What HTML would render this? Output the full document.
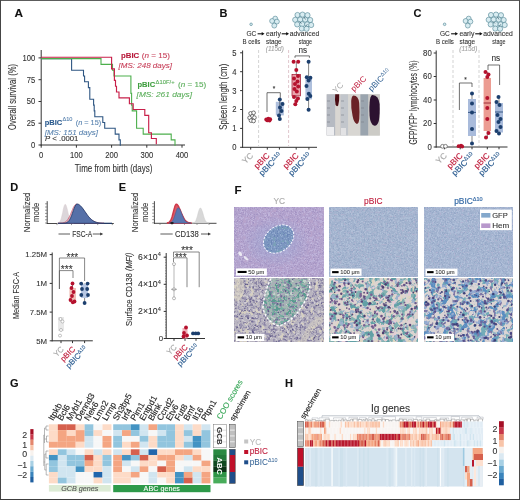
<!DOCTYPE html><html><head><meta charset="utf-8"><style>
html,body{margin:0;padding:0;background:#fff;}
svg{display:block;font-family:"Liberation Sans", sans-serif;opacity:0.999;}
</style></head><body>
<svg width="520" height="500" viewBox="0 0 520 500">
<rect x="0" y="0" width="520" height="500" fill="#fff"/>
<text x="14.5" y="16.8" font-size="11.8" fill="#111" stroke="#111" stroke-width="0.1" font-weight="bold">A</text>
<line x1="41.2" y1="50.0" x2="41.2" y2="145.5" stroke="#333" stroke-width="1"/>
<line x1="40.7" y1="145.0" x2="185.0" y2="145.0" stroke="#333" stroke-width="1"/>
<line x1="38.5" y1="145.0" x2="41.2" y2="145.0" stroke="#333" stroke-width="1"/>
<text x="35.2" y="147.9" font-size="8.2" fill="#333" stroke="#333" stroke-width="0.1" text-anchor="end" textLength="4.25" lengthAdjust="spacingAndGlyphs">0</text>
<line x1="38.5" y1="123.2" x2="41.2" y2="123.2" stroke="#333" stroke-width="1"/>
<text x="35.2" y="126.1" font-size="8.2" fill="#333" stroke="#333" stroke-width="0.1" text-anchor="end" textLength="8.5" lengthAdjust="spacingAndGlyphs">25</text>
<line x1="38.5" y1="101.5" x2="41.2" y2="101.5" stroke="#333" stroke-width="1"/>
<text x="35.2" y="104.4" font-size="8.2" fill="#333" stroke="#333" stroke-width="0.1" text-anchor="end" textLength="8.5" lengthAdjust="spacingAndGlyphs">50</text>
<line x1="38.5" y1="79.7" x2="41.2" y2="79.7" stroke="#333" stroke-width="1"/>
<text x="35.2" y="82.6" font-size="8.2" fill="#333" stroke="#333" stroke-width="0.1" text-anchor="end" textLength="8.5" lengthAdjust="spacingAndGlyphs">75</text>
<line x1="38.5" y1="57.9" x2="41.2" y2="57.9" stroke="#333" stroke-width="1"/>
<text x="35.2" y="60.8" font-size="8.2" fill="#333" stroke="#333" stroke-width="0.1" text-anchor="end" textLength="12.75" lengthAdjust="spacingAndGlyphs">100</text>
<line x1="41.2" y1="145.0" x2="41.2" y2="147.7" stroke="#333" stroke-width="1"/>
<text x="41.2" y="158.2" font-size="8.2" fill="#333" stroke="#333" stroke-width="0.1" text-anchor="middle" textLength="4.25" lengthAdjust="spacingAndGlyphs">0</text>
<line x1="76.4" y1="145.0" x2="76.4" y2="147.7" stroke="#333" stroke-width="1"/>
<text x="76.4" y="158.2" font-size="8.2" fill="#333" stroke="#333" stroke-width="0.1" text-anchor="middle" textLength="12.75" lengthAdjust="spacingAndGlyphs">100</text>
<line x1="111.6" y1="145.0" x2="111.6" y2="147.7" stroke="#333" stroke-width="1"/>
<text x="111.6" y="158.2" font-size="8.2" fill="#333" stroke="#333" stroke-width="0.1" text-anchor="middle" textLength="12.75" lengthAdjust="spacingAndGlyphs">200</text>
<line x1="146.8" y1="145.0" x2="146.8" y2="147.7" stroke="#333" stroke-width="1"/>
<text x="146.8" y="158.2" font-size="8.2" fill="#333" stroke="#333" stroke-width="0.1" text-anchor="middle" textLength="12.75" lengthAdjust="spacingAndGlyphs">300</text>
<line x1="182.0" y1="145.0" x2="182.0" y2="147.7" stroke="#333" stroke-width="1"/>
<text x="182.0" y="158.2" font-size="8.2" fill="#333" stroke="#333" stroke-width="0.1" text-anchor="middle" textLength="12.75" lengthAdjust="spacingAndGlyphs">400</text>
<text x="74.8" y="172.2" font-size="10" fill="#333" stroke="#333" stroke-width="0.1" textLength="77.5" lengthAdjust="spacingAndGlyphs">Time from birth (days)</text>
<text x="16.2" y="130.0" font-size="10.5" fill="#333" stroke="#333" stroke-width="0.1" textLength="66" lengthAdjust="spacingAndGlyphs" transform="rotate(-90 16.2 130.0)">Overall survival (%)</text>
<g transform="translate(0 0.7)">
<path d="M41.2 57.9 L71.6 57.9 L71.6 69.5 L83.5 69.5 L83.5 75.3 L84.6 75.3 L84.6 81.1 L88.4 81.1 L88.4 86.9 L89.8 86.9 L89.8 98.5 L93.6 98.5 L93.6 104.4 L94.2 104.4 L94.2 110.2 L94.8 110.2 L94.8 116.0 L102.8 116.0 L102.8 121.8 L104.7 121.8 L104.7 127.6 L115.2 127.6 L115.2 133.4 L119.0 133.4 L119.0 139.2 L120.3 139.2 L120.3 145.0" stroke="#2e5682" stroke-width="1.1" fill="none"/>
<path d="M41.2 57.9 L101.0 57.9 L101.0 63.7 L112.5 63.7 L112.5 69.5 L114.0 69.5 L114.0 75.3 L130.9 75.3 L130.9 92.7 L131.6 92.7 L131.6 104.4 L132.2 104.4 L132.2 110.2 L136.6 110.2 L136.6 127.6 L143.2 127.6 L143.2 133.4 L171.2 133.4 L171.2 139.2 L175.0 139.2 L175.0 145.0" stroke="#4caf4c" stroke-width="1.1" fill="none"/>
</g>
<g transform="translate(0 -0.7)">
<path d="M41.2 57.9 L111.6 57.9 L111.6 69.5 L114.4 69.5 L114.4 81.1 L115.5 81.1 L115.5 86.9 L116.5 86.9 L116.5 92.7 L119.0 92.7 L119.0 98.5 L129.4 98.5 L129.4 104.4 L133.2 104.4 L133.2 110.2 L144.8 110.2 L144.8 116.0 L148.7 116.0 L148.7 133.4 L151.4 133.4 L151.4 139.2 L156.3 139.2 L156.3 145.0" stroke="#c8204a" stroke-width="1.15" fill="none"/>
</g>
<text x="121.0" y="58.0" font-size="7.8" fill="#b8183a" stroke="#b8183a" stroke-width="0.1" font-weight="bold" textLength="18.2" lengthAdjust="spacingAndGlyphs">pBIC</text>
<text x="141.8" y="58.0" font-size="7.8" fill="#c8405a" stroke="#c8405a" stroke-width="0.1" textLength="28.2" lengthAdjust="spacingAndGlyphs">(<tspan font-style="italic">n</tspan> = 15)</text>
<text x="118.5" y="67.5" font-size="7.8" fill="#c8405a" stroke="#c8405a" stroke-width="0.1" font-style="italic" textLength="53.5" lengthAdjust="spacingAndGlyphs">[MS: 248 days]</text>
<text x="137.5" y="87.4" font-size="7.8" fill="#3f9e3f" stroke="#3f9e3f" stroke-width="0.1" font-weight="bold" textLength="17.6" lengthAdjust="spacingAndGlyphs">pBIC</text>
<text x="155.6" y="83.5" font-size="5" fill="#5aae5a" stroke="#5aae5a" stroke-width="0.1" textLength="19" lengthAdjust="spacingAndGlyphs">Δ10F/+</text>
<text x="178.0" y="87.4" font-size="7.8" fill="#5aae5a" stroke="#5aae5a" stroke-width="0.1" textLength="28.2" lengthAdjust="spacingAndGlyphs">(<tspan font-style="italic">n</tspan> = 15)</text>
<text x="136.6" y="96.6" font-size="7.8" fill="#5aae5a" stroke="#5aae5a" stroke-width="0.1" font-style="italic" textLength="55.4" lengthAdjust="spacingAndGlyphs">[MS: 261 days]</text>
<text x="44.7" y="124.8" font-size="7.8" fill="#2a5a8e" stroke="#2a5a8e" stroke-width="0.1" font-weight="bold" textLength="17.5" lengthAdjust="spacingAndGlyphs">pBIC</text>
<text x="62.5" y="120.8" font-size="5" fill="#5a84b0" stroke="#5a84b0" stroke-width="0.1" textLength="10" lengthAdjust="spacingAndGlyphs">Δ10</text>
<text x="75.7" y="124.8" font-size="7.8" fill="#5a84b0" stroke="#5a84b0" stroke-width="0.1" textLength="25.5" lengthAdjust="spacingAndGlyphs">(<tspan font-style="italic">n</tspan> = 15)</text>
<text x="44.7" y="134.9" font-size="7.8" fill="#5a84b0" stroke="#5a84b0" stroke-width="0.1" font-style="italic" textLength="53.2" lengthAdjust="spacingAndGlyphs">[MS: 151 days]</text>
<text x="45.0" y="141.2" font-size="7.8" fill="#333" stroke="#333" stroke-width="0.1" textLength="33.4" lengthAdjust="spacingAndGlyphs"><tspan font-style="italic">P</tspan> &lt; .0001</text>
<text x="219.5" y="17.0" font-size="11" fill="#111" stroke="#111" stroke-width="0.1" font-weight="bold">B</text>
<text x="413.5" y="17.0" font-size="11" fill="#111" stroke="#111" stroke-width="0.1" font-weight="bold">C</text>
<circle cx="251.1" cy="24.3" r="1.3" fill="#d8ecf1" stroke="#3e7888" stroke-width="0.55"/>
<circle cx="275.2" cy="18.6" r="2.45" fill="#d8ecf1" stroke="#3e7888" stroke-width="0.55"/>
<circle cx="272.1" cy="21.0" r="2.45" fill="#d8ecf1" stroke="#3e7888" stroke-width="0.55"/>
<circle cx="276.9" cy="21.6" r="2.45" fill="#d8ecf1" stroke="#3e7888" stroke-width="0.55"/>
<circle cx="274.3" cy="25.6" r="2.45" fill="#d8ecf1" stroke="#3e7888" stroke-width="0.55"/>
<circle cx="297.5" cy="15.0" r="2.6" fill="#d8ecf1" stroke="#3e7888" stroke-width="0.55"/>
<circle cx="302.5" cy="14.6" r="2.6" fill="#d8ecf1" stroke="#3e7888" stroke-width="0.55"/>
<circle cx="307.5" cy="15.2" r="2.6" fill="#d8ecf1" stroke="#3e7888" stroke-width="0.55"/>
<circle cx="295.2" cy="19.8" r="2.6" fill="#d8ecf1" stroke="#3e7888" stroke-width="0.55"/>
<circle cx="300.2" cy="19.6" r="2.6" fill="#d8ecf1" stroke="#3e7888" stroke-width="0.55"/>
<circle cx="305.2" cy="19.6" r="2.6" fill="#d8ecf1" stroke="#3e7888" stroke-width="0.55"/>
<circle cx="310.2" cy="20.0" r="2.6" fill="#d8ecf1" stroke="#3e7888" stroke-width="0.55"/>
<circle cx="297.2" cy="24.4" r="2.6" fill="#d8ecf1" stroke="#3e7888" stroke-width="0.55"/>
<circle cx="302.2" cy="24.2" r="2.6" fill="#d8ecf1" stroke="#3e7888" stroke-width="0.55"/>
<circle cx="307.2" cy="24.4" r="2.6" fill="#d8ecf1" stroke="#3e7888" stroke-width="0.55"/>
<circle cx="311.2" cy="25.0" r="2.6" fill="#d8ecf1" stroke="#3e7888" stroke-width="0.55"/>
<circle cx="301.8" cy="28.6" r="2.6" fill="#d8ecf1" stroke="#3e7888" stroke-width="0.55"/>
<circle cx="306.6" cy="28.8" r="2.6" fill="#d8ecf1" stroke="#3e7888" stroke-width="0.55"/>
<path d="M299.5 21.5 l2 2 M304 17 l1.5 2.5 M305.5 26 l2 -1.5" stroke="#2a5060" stroke-width="0.6"/>
<text x="246.5" y="36.4" font-size="7.4" fill="#333" stroke="#333" stroke-width="0.1" textLength="9.8" lengthAdjust="spacingAndGlyphs">GC</text>
<line x1="257.6" y1="33.8" x2="262.5" y2="33.8" stroke="#111" stroke-width="1.1"/>
<path d="M264.5 33.8 L261.7 32.0 L261.7 35.6 Z" stroke="none" stroke-width="0" fill="#111"/>
<line x1="281.7" y1="33.8" x2="287.0" y2="33.8" stroke="#111" stroke-width="1.1"/>
<path d="M289.0 33.8 L286.2 32.0 L286.2 35.6 Z" stroke="none" stroke-width="0" fill="#111"/>
<text x="266.0" y="36.4" font-size="7.4" fill="#333" stroke="#333" stroke-width="0.1" textLength="14.8" lengthAdjust="spacingAndGlyphs">early</text>
<text x="289.8" y="36.4" font-size="7.4" fill="#333" stroke="#333" stroke-width="0.1" textLength="29.4" lengthAdjust="spacingAndGlyphs">advanced</text>
<text x="242.5" y="44.2" font-size="7.4" fill="#333" stroke="#333" stroke-width="0.1" textLength="17.9" lengthAdjust="spacingAndGlyphs">B cells</text>
<text x="266.0" y="44.2" font-size="7.4" fill="#333" stroke="#333" stroke-width="0.1" textLength="15.7" lengthAdjust="spacingAndGlyphs">stage</text>
<text x="298.8" y="44.2" font-size="7.4" fill="#333" stroke="#333" stroke-width="0.1" textLength="13.2" lengthAdjust="spacingAndGlyphs">stage</text>
<text x="265.8" y="51.4" font-size="7.8" fill="#a0a0a0" stroke="#a0a0a0" stroke-width="0.1" font-style="italic" textLength="18" lengthAdjust="spacingAndGlyphs">(115d)</text>
<circle cx="444.6" cy="24.3" r="1.3" fill="#d8ecf1" stroke="#3e7888" stroke-width="0.55"/>
<circle cx="468.7" cy="18.6" r="2.45" fill="#d8ecf1" stroke="#3e7888" stroke-width="0.55"/>
<circle cx="465.6" cy="21.0" r="2.45" fill="#d8ecf1" stroke="#3e7888" stroke-width="0.55"/>
<circle cx="470.4" cy="21.6" r="2.45" fill="#d8ecf1" stroke="#3e7888" stroke-width="0.55"/>
<circle cx="467.8" cy="25.6" r="2.45" fill="#d8ecf1" stroke="#3e7888" stroke-width="0.55"/>
<circle cx="491.0" cy="15.0" r="2.6" fill="#d8ecf1" stroke="#3e7888" stroke-width="0.55"/>
<circle cx="496.0" cy="14.6" r="2.6" fill="#d8ecf1" stroke="#3e7888" stroke-width="0.55"/>
<circle cx="501.0" cy="15.2" r="2.6" fill="#d8ecf1" stroke="#3e7888" stroke-width="0.55"/>
<circle cx="488.7" cy="19.8" r="2.6" fill="#d8ecf1" stroke="#3e7888" stroke-width="0.55"/>
<circle cx="493.7" cy="19.6" r="2.6" fill="#d8ecf1" stroke="#3e7888" stroke-width="0.55"/>
<circle cx="498.7" cy="19.6" r="2.6" fill="#d8ecf1" stroke="#3e7888" stroke-width="0.55"/>
<circle cx="503.7" cy="20.0" r="2.6" fill="#d8ecf1" stroke="#3e7888" stroke-width="0.55"/>
<circle cx="490.7" cy="24.4" r="2.6" fill="#d8ecf1" stroke="#3e7888" stroke-width="0.55"/>
<circle cx="495.7" cy="24.2" r="2.6" fill="#d8ecf1" stroke="#3e7888" stroke-width="0.55"/>
<circle cx="500.7" cy="24.4" r="2.6" fill="#d8ecf1" stroke="#3e7888" stroke-width="0.55"/>
<circle cx="504.7" cy="25.0" r="2.6" fill="#d8ecf1" stroke="#3e7888" stroke-width="0.55"/>
<circle cx="495.3" cy="28.6" r="2.6" fill="#d8ecf1" stroke="#3e7888" stroke-width="0.55"/>
<circle cx="500.1" cy="28.8" r="2.6" fill="#d8ecf1" stroke="#3e7888" stroke-width="0.55"/>
<path d="M493.0 21.5 l2 2 M497.5 17 l1.5 2.5 M499.0 26 l2 -1.5" stroke="#2a5060" stroke-width="0.6"/>
<text x="440.0" y="36.4" font-size="7.4" fill="#333" stroke="#333" stroke-width="0.1" textLength="9.8" lengthAdjust="spacingAndGlyphs">GC</text>
<line x1="451.1" y1="33.8" x2="456.0" y2="33.8" stroke="#111" stroke-width="1.1"/>
<path d="M458.0 33.8 L455.2 32.0 L455.2 35.6 Z" stroke="none" stroke-width="0" fill="#111"/>
<line x1="475.2" y1="33.8" x2="480.5" y2="33.8" stroke="#111" stroke-width="1.1"/>
<path d="M482.5 33.8 L479.7 32.0 L479.7 35.6 Z" stroke="none" stroke-width="0" fill="#111"/>
<text x="459.5" y="36.4" font-size="7.4" fill="#333" stroke="#333" stroke-width="0.1" textLength="14.8" lengthAdjust="spacingAndGlyphs">early</text>
<text x="483.3" y="36.4" font-size="7.4" fill="#333" stroke="#333" stroke-width="0.1" textLength="29.4" lengthAdjust="spacingAndGlyphs">advanced</text>
<text x="436.0" y="44.2" font-size="7.4" fill="#333" stroke="#333" stroke-width="0.1" textLength="17.9" lengthAdjust="spacingAndGlyphs">B cells</text>
<text x="459.5" y="44.2" font-size="7.4" fill="#333" stroke="#333" stroke-width="0.1" textLength="15.7" lengthAdjust="spacingAndGlyphs">stage</text>
<text x="492.3" y="44.2" font-size="7.4" fill="#333" stroke="#333" stroke-width="0.1" textLength="13.2" lengthAdjust="spacingAndGlyphs">stage</text>
<text x="459.3" y="51.4" font-size="7.8" fill="#a0a0a0" stroke="#a0a0a0" stroke-width="0.1" font-style="italic" textLength="18" lengthAdjust="spacingAndGlyphs">(115d)</text>
<line x1="242.6" y1="50.5" x2="242.6" y2="147.8" stroke="#333" stroke-width="1"/>
<line x1="242.1" y1="147.3" x2="317.0" y2="147.3" stroke="#333" stroke-width="1"/>
<line x1="240.1" y1="147.3" x2="242.6" y2="147.3" stroke="#333" stroke-width="1"/>
<text x="236.4" y="150.2" font-size="8.2" fill="#333" stroke="#333" stroke-width="0.1" text-anchor="end" textLength="4.25" lengthAdjust="spacingAndGlyphs">0</text>
<line x1="240.1" y1="128.4" x2="242.6" y2="128.4" stroke="#333" stroke-width="1"/>
<text x="236.4" y="131.3" font-size="8.2" fill="#333" stroke="#333" stroke-width="0.1" text-anchor="end" textLength="4.25" lengthAdjust="spacingAndGlyphs">1</text>
<line x1="240.1" y1="109.5" x2="242.6" y2="109.5" stroke="#333" stroke-width="1"/>
<text x="236.4" y="112.4" font-size="8.2" fill="#333" stroke="#333" stroke-width="0.1" text-anchor="end" textLength="4.25" lengthAdjust="spacingAndGlyphs">2</text>
<line x1="240.1" y1="90.6" x2="242.6" y2="90.6" stroke="#333" stroke-width="1"/>
<text x="236.4" y="93.5" font-size="8.2" fill="#333" stroke="#333" stroke-width="0.1" text-anchor="end" textLength="4.25" lengthAdjust="spacingAndGlyphs">3</text>
<line x1="240.1" y1="71.7" x2="242.6" y2="71.7" stroke="#333" stroke-width="1"/>
<text x="236.4" y="74.6" font-size="8.2" fill="#333" stroke="#333" stroke-width="0.1" text-anchor="end" textLength="4.25" lengthAdjust="spacingAndGlyphs">4</text>
<line x1="240.1" y1="52.8" x2="242.6" y2="52.8" stroke="#333" stroke-width="1"/>
<text x="236.4" y="55.7" font-size="8.2" fill="#333" stroke="#333" stroke-width="0.1" text-anchor="end" textLength="4.25" lengthAdjust="spacingAndGlyphs">5</text>
<text x="227.4" y="129.7" font-size="10" fill="#333" stroke="#333" stroke-width="0.1" textLength="66" lengthAdjust="spacingAndGlyphs" transform="rotate(-90 227.4 129.7)">Spleen length (cm)</text>
<line x1="250.7" y1="147.3" x2="250.7" y2="149.6" stroke="#333" stroke-width="1"/>
<line x1="267.3" y1="147.3" x2="267.3" y2="149.6" stroke="#333" stroke-width="1"/>
<line x1="279.4" y1="147.3" x2="279.4" y2="149.6" stroke="#333" stroke-width="1"/>
<line x1="296.2" y1="147.3" x2="296.2" y2="149.6" stroke="#333" stroke-width="1"/>
<line x1="308.9" y1="147.3" x2="308.9" y2="149.6" stroke="#333" stroke-width="1"/>
<text x="253.7" y="156.2" font-size="8.3" fill="#aaa" stroke="#aaa" stroke-width="0.15" text-anchor="end" transform="rotate(-45 253.7 156.2)">YC</text>
<text x="270.3" y="156.2" font-size="8.3" fill="#c0203f" stroke="#c0203f" stroke-width="0.15" text-anchor="end" transform="rotate(-45 270.3 156.2)">pBIC</text>
<text x="282.4" y="156.2" font-size="8.3" fill="#2c5d91" stroke="#2c5d91" stroke-width="0.15" text-anchor="end" transform="rotate(-45 282.4 156.2)">pBIC<tspan font-size="5.6" dy="-3">Δ10</tspan></text>
<text x="299.2" y="156.2" font-size="8.3" fill="#c0203f" stroke="#c0203f" stroke-width="0.15" text-anchor="end" transform="rotate(-45 299.2 156.2)">pBIC</text>
<text x="311.9" y="156.2" font-size="8.3" fill="#2c5d91" stroke="#2c5d91" stroke-width="0.15" text-anchor="end" transform="rotate(-45 311.9 156.2)">pBIC<tspan font-size="5.6" dy="-3">Δ10</tspan></text>
<line x1="258.6" y1="50.0" x2="258.6" y2="146.0" stroke="#c8c8c8" stroke-width="0.8" stroke-dasharray="3,2"/>
<line x1="288.6" y1="50.0" x2="288.6" y2="146.0" stroke="#d8b8c0" stroke-width="0.8" stroke-dasharray="3,2"/>
<circle cx="250.6" cy="113.4" r="1.85" fill="#fff" stroke="#4a4a4a" stroke-width="0.75"/>
<circle cx="253.6" cy="112.8" r="1.85" fill="#fff" stroke="#4a4a4a" stroke-width="0.75"/>
<circle cx="252.2" cy="116.4" r="1.85" fill="#fff" stroke="#4a4a4a" stroke-width="0.75"/>
<circle cx="249.6" cy="117.8" r="1.85" fill="#fff" stroke="#4a4a4a" stroke-width="0.75"/>
<circle cx="254.4" cy="117.6" r="1.85" fill="#fff" stroke="#4a4a4a" stroke-width="0.75"/>
<circle cx="251.0" cy="120.6" r="1.85" fill="#fff" stroke="#4a4a4a" stroke-width="0.75"/>
<circle cx="253.6" cy="121.0" r="1.85" fill="#fff" stroke="#4a4a4a" stroke-width="0.75"/>
<circle cx="266.2" cy="119.5" r="1.9" fill="#b5122e" stroke="none" stroke-width="0.6"/>
<circle cx="268.3" cy="118.6" r="1.9" fill="#b5122e" stroke="none" stroke-width="0.6"/>
<circle cx="270.2" cy="119.2" r="1.9" fill="#b5122e" stroke="none" stroke-width="0.6"/>
<circle cx="267.4" cy="120.4" r="1.9" fill="#b5122e" stroke="none" stroke-width="0.6"/>
<circle cx="269.6" cy="120.6" r="1.9" fill="#b5122e" stroke="none" stroke-width="0.6"/>
<rect x="275.8" y="101.8" width="8.0" height="13.6" fill="#aebfdc"/>
<line x1="279.8" y1="99.6" x2="279.8" y2="118.9" stroke="#333" stroke-width="0.6"/>
<circle cx="279.8" cy="99.6" r="2.0" fill="#1c3f6e" stroke="none" stroke-width="0.6"/>
<circle cx="282.5" cy="104.0" r="2.0" fill="#1c3f6e" stroke="none" stroke-width="0.6"/>
<circle cx="280.0" cy="107.5" r="2.0" fill="#1c3f6e" stroke="none" stroke-width="0.6"/>
<circle cx="281.5" cy="111.0" r="2.0" fill="#1c3f6e" stroke="none" stroke-width="0.6"/>
<circle cx="279.0" cy="115.5" r="2.0" fill="#1c3f6e" stroke="none" stroke-width="0.6"/>
<circle cx="279.8" cy="118.9" r="2.0" fill="#1c3f6e" stroke="none" stroke-width="0.6"/>
<path d="M267 112 L267 92.7 L280.3 92.7 L280.3 97.8" stroke="#333" stroke-width="0.7" fill="none"/>
<text x="273.9" y="91.0" font-size="6.5" fill="#333" stroke="#333" stroke-width="0.1" text-anchor="middle">*</text>
<line x1="296.3" y1="61.8" x2="296.3" y2="104.2" stroke="#333" stroke-width="0.6"/>
<rect x="292.0" y="74.6" width="8.6" height="21.3" fill="#e9a3ac" stroke="#a0102a" stroke-width="0.7"/>
<circle cx="293.6" cy="61.8" r="2.0" fill="#b5122e" stroke="none" stroke-width="0.6"/>
<circle cx="298.2" cy="61.8" r="2.0" fill="#b5122e" stroke="none" stroke-width="0.6"/>
<circle cx="296.3" cy="70.0" r="2.0" fill="#b5122e" stroke="none" stroke-width="0.6"/>
<circle cx="298.0" cy="76.0" r="2.0" fill="#b5122e" stroke="none" stroke-width="0.6"/>
<circle cx="294.0" cy="78.5" r="2.0" fill="#b5122e" stroke="none" stroke-width="0.6"/>
<circle cx="297.5" cy="81.5" r="2.0" fill="#b5122e" stroke="none" stroke-width="0.6"/>
<circle cx="295.0" cy="84.0" r="2.0" fill="#b5122e" stroke="none" stroke-width="0.6"/>
<circle cx="298.2" cy="86.5" r="2.0" fill="#b5122e" stroke="none" stroke-width="0.6"/>
<circle cx="294.5" cy="89.0" r="2.0" fill="#b5122e" stroke="none" stroke-width="0.6"/>
<circle cx="296.8" cy="91.5" r="2.0" fill="#b5122e" stroke="none" stroke-width="0.6"/>
<circle cx="294.0" cy="97.0" r="2.0" fill="#b5122e" stroke="none" stroke-width="0.6"/>
<circle cx="298.0" cy="98.5" r="2.0" fill="#b5122e" stroke="none" stroke-width="0.6"/>
<circle cx="296.3" cy="101.0" r="2.0" fill="#b5122e" stroke="none" stroke-width="0.6"/>
<circle cx="295.3" cy="104.2" r="2.0" fill="#b5122e" stroke="none" stroke-width="0.6"/>
<line x1="308.6" y1="61.8" x2="308.6" y2="109.8" stroke="#333" stroke-width="0.6"/>
<rect x="305.4" y="78.6" width="6.6" height="20.8" fill="#aebfdc"/>
<circle cx="308.6" cy="61.8" r="2.0" fill="#1c3f6e" stroke="none" stroke-width="0.6"/>
<circle cx="306.8" cy="77.2" r="2.0" fill="#1c3f6e" stroke="none" stroke-width="0.6"/>
<circle cx="310.4" cy="77.8" r="2.0" fill="#1c3f6e" stroke="none" stroke-width="0.6"/>
<circle cx="308.6" cy="80.5" r="2.0" fill="#1c3f6e" stroke="none" stroke-width="0.6"/>
<circle cx="306.5" cy="86.0" r="2.0" fill="#1c3f6e" stroke="none" stroke-width="0.6"/>
<circle cx="308.8" cy="93.8" r="2.0" fill="#1c3f6e" stroke="none" stroke-width="0.6"/>
<circle cx="310.3" cy="96.0" r="2.0" fill="#1c3f6e" stroke="none" stroke-width="0.6"/>
<circle cx="307.4" cy="99.0" r="2.0" fill="#1c3f6e" stroke="none" stroke-width="0.6"/>
<circle cx="308.6" cy="109.8" r="2.0" fill="#1c3f6e" stroke="none" stroke-width="0.6"/>
<path d="M295 57.8 L295 55.9 L309.4 55.9 L309.4 57.8" stroke="#333" stroke-width="0.7" fill="none"/>
<text x="298.6" y="52.6" font-size="8.6" fill="#333" stroke="#333" stroke-width="0.1" textLength="8.6" lengthAdjust="spacingAndGlyphs">ns</text>

<g>
<rect x="326.7" y="94.3" width="53.1" height="41.2" fill="#cfcdcb"/>
<rect x="326.7" y="94.3" width="8.6" height="41.2" fill="#b6bac2"/>
<rect x="335.3" y="94.3" width="5.2" height="41.2" fill="#d9d6d2"/>
<rect x="340.5" y="94.3" width="7.6" height="41.2" fill="#c2c6cc"/>
<rect x="348.1" y="94.3" width="12.3" height="41.2" fill="#d8d6d2"/>
<rect x="360.4" y="94.3" width="8" height="41.2" fill="#9aa4ae"/>
<rect x="368.4" y="94.3" width="11.4" height="41.2" fill="#cccbc6"/>
<rect x="327" y="127" width="7" height="8.5" fill="#eeeef0"/>
<rect x="341" y="128" width="5" height="7.5" fill="#e2e2e4"/>
<path d="M327 101h3M327 108h3M327 115h3M327 122h3M341 101h3M341 108h3M341 115h3M341 122h3M361 101h3M361 108h3M361 115h3M361 122h3" stroke="#7a7e86" stroke-width="0.6"/>
<path d="M335.2 94.3 L339.2 94.3 Q339.6 101 338.2 105.5 Q336.8 107 335.6 105 Q334.6 100 335.2 94.3Z" fill="#4a0c14"/>
<path d="M353.5 95.5 Q358.5 95.8 359.2 103 Q359.8 112 359.3 119 Q358.6 124.5 356.5 123.8 Q353.8 122.5 352.6 116 Q350.8 108 351.2 101 Q351.6 95.8 353.5 95.5Z" fill="#6a2226"/>
<path d="M372.5 95 Q378.8 95.6 379.6 104 Q380 114 378.8 121 Q377.2 126.5 373.8 125.6 Q370.4 124.2 369.6 116 Q369 106 370 99.5 Q370.8 95.2 372.5 95Z" fill="#2c1230"/>
</g>
<text x="344" y="85.6" font-size="8.2" fill="#aaa" text-anchor="end" transform="rotate(-45 344 85.6)">YC</text>
<text x="366.9" y="79.2" font-size="8.2" fill="#c0203f" text-anchor="end" transform="rotate(-45 366.9 79.2)">pBIC</text>
<text x="371.5" y="91.8" font-size="8.2" fill="#2c5d91" transform="rotate(-45 371.5 91.8)">pBIC<tspan font-size="5.4" dy="-3">Δ10</tspan></text>
<line x1="436.2" y1="50.5" x2="436.2" y2="147.5" stroke="#333" stroke-width="1"/>
<line x1="435.7" y1="147.0" x2="507.5" y2="147.0" stroke="#333" stroke-width="1"/>
<line x1="433.7" y1="147.0" x2="436.2" y2="147.0" stroke="#333" stroke-width="1"/>
<text x="431.8" y="149.9" font-size="8.4" fill="#333" stroke="#333" stroke-width="0.1" text-anchor="end" textLength="4.35" lengthAdjust="spacingAndGlyphs">0</text>
<line x1="433.7" y1="123.5" x2="436.2" y2="123.5" stroke="#333" stroke-width="1"/>
<text x="431.8" y="126.4" font-size="8.4" fill="#333" stroke="#333" stroke-width="0.1" text-anchor="end" textLength="8.7" lengthAdjust="spacingAndGlyphs">20</text>
<line x1="433.7" y1="100.0" x2="436.2" y2="100.0" stroke="#333" stroke-width="1"/>
<text x="431.8" y="102.9" font-size="8.4" fill="#333" stroke="#333" stroke-width="0.1" text-anchor="end" textLength="8.7" lengthAdjust="spacingAndGlyphs">40</text>
<line x1="433.7" y1="76.5" x2="436.2" y2="76.5" stroke="#333" stroke-width="1"/>
<text x="431.8" y="79.4" font-size="8.4" fill="#333" stroke="#333" stroke-width="0.1" text-anchor="end" textLength="8.7" lengthAdjust="spacingAndGlyphs">60</text>
<line x1="433.7" y1="53.0" x2="436.2" y2="53.0" stroke="#333" stroke-width="1"/>
<text x="431.8" y="55.9" font-size="8.4" fill="#333" stroke="#333" stroke-width="0.1" text-anchor="end" textLength="8.7" lengthAdjust="spacingAndGlyphs">80</text>
<text x="416.8" y="144.5" font-size="10" fill="#333" stroke="#333" stroke-width="0.1" textLength="84" lengthAdjust="spacingAndGlyphs" transform="rotate(-90 416.8 144.5)">GFP/YFP<tspan font-size="6" dy="-3.4">+</tspan><tspan dy="3.4"> lymphocytes (%)</tspan></text>
<line x1="444.4" y1="147.0" x2="444.4" y2="149.3" stroke="#333" stroke-width="1"/>
<line x1="460.2" y1="147.0" x2="460.2" y2="149.3" stroke="#333" stroke-width="1"/>
<line x1="472.0" y1="147.0" x2="472.0" y2="149.3" stroke="#333" stroke-width="1"/>
<line x1="487.3" y1="147.0" x2="487.3" y2="149.3" stroke="#333" stroke-width="1"/>
<line x1="499.0" y1="147.0" x2="499.0" y2="149.3" stroke="#333" stroke-width="1"/>
<text x="447.4" y="156.2" font-size="8.3" fill="#aaa" stroke="#aaa" stroke-width="0.15" text-anchor="end" transform="rotate(-45 447.4 156.2)">YC</text>
<text x="463.2" y="156.2" font-size="8.3" fill="#c0203f" stroke="#c0203f" stroke-width="0.15" text-anchor="end" transform="rotate(-45 463.2 156.2)">pBIC</text>
<text x="475.0" y="156.2" font-size="8.3" fill="#2c5d91" stroke="#2c5d91" stroke-width="0.15" text-anchor="end" transform="rotate(-45 475.0 156.2)">pBIC<tspan font-size="5.6" dy="-3">Δ10</tspan></text>
<text x="490.3" y="156.2" font-size="8.3" fill="#c0203f" stroke="#c0203f" stroke-width="0.15" text-anchor="end" transform="rotate(-45 490.3 156.2)">pBIC</text>
<text x="502.0" y="156.2" font-size="8.3" fill="#2c5d91" stroke="#2c5d91" stroke-width="0.15" text-anchor="end" transform="rotate(-45 502.0 156.2)">pBIC<tspan font-size="5.6" dy="-3">Δ10</tspan></text>
<line x1="453.0" y1="50.0" x2="453.0" y2="146.0" stroke="#c8c8c8" stroke-width="0.8" stroke-dasharray="3,2"/>
<line x1="479.0" y1="50.0" x2="479.0" y2="146.0" stroke="#c8c8c8" stroke-width="0.8" stroke-dasharray="3,2"/>
<circle cx="442.5" cy="146.3" r="1.9" fill="#fff" stroke="#555" stroke-width="0.7"/>
<circle cx="445.5" cy="146.3" r="1.9" fill="#fff" stroke="#555" stroke-width="0.7"/>
<circle cx="458.6" cy="146.2" r="1.9" fill="#b5122e" stroke="none" stroke-width="0.6"/>
<circle cx="461.0" cy="145.6" r="1.9" fill="#b5122e" stroke="none" stroke-width="0.6"/>
<circle cx="462.2" cy="146.5" r="1.9" fill="#b5122e" stroke="none" stroke-width="0.6"/>
<line x1="472.0" y1="93.6" x2="472.0" y2="143.6" stroke="#333" stroke-width="0.6"/>
<rect x="468.0" y="99.0" width="8.0" height="37.0" fill="#a9bbdb"/>
<line x1="468.0" y1="112.4" x2="476.0" y2="112.4" stroke="#1c3f6e" stroke-width="0.8"/>
<circle cx="472.0" cy="93.6" r="2.0" fill="#1c3f6e" stroke="none" stroke-width="0.6"/>
<circle cx="472.0" cy="103.6" r="2.0" fill="#1c3f6e" stroke="none" stroke-width="0.6"/>
<circle cx="472.0" cy="112.4" r="2.0" fill="#1c3f6e" stroke="none" stroke-width="0.6"/>
<circle cx="472.0" cy="129.0" r="2.0" fill="#1c3f6e" stroke="none" stroke-width="0.6"/>
<circle cx="472.0" cy="143.6" r="2.0" fill="#1c3f6e" stroke="none" stroke-width="0.6"/>
<path d="M459.4 110 L459.4 83 L472 83 L472 87" stroke="#333" stroke-width="0.7" fill="none"/>
<text x="465.6" y="81.5" font-size="6.5" fill="#333" stroke="#333" stroke-width="0.1" text-anchor="middle">*</text>
<line x1="487.3" y1="72.0" x2="487.3" y2="138.0" stroke="#333" stroke-width="0.6"/>
<rect x="483.6" y="78.0" width="7.4" height="53.0" fill="#ec9c92"/>
<line x1="483.6" y1="103.0" x2="491.0" y2="103.0" stroke="#8a1020" stroke-width="0.8"/>
<circle cx="485.5" cy="72.0" r="2.0" fill="#b5122e" stroke="none" stroke-width="0.6"/>
<circle cx="488.5" cy="74.5" r="2.0" fill="#b5122e" stroke="none" stroke-width="0.6"/>
<circle cx="487.3" cy="77.0" r="2.0" fill="#b5122e" stroke="none" stroke-width="0.6"/>
<circle cx="487.3" cy="98.0" r="2.0" fill="#b5122e" stroke="none" stroke-width="0.6"/>
<circle cx="487.3" cy="108.0" r="2.0" fill="#b5122e" stroke="none" stroke-width="0.6"/>
<circle cx="487.3" cy="119.0" r="2.0" fill="#b5122e" stroke="none" stroke-width="0.6"/>
<circle cx="488.5" cy="133.0" r="2.0" fill="#b5122e" stroke="none" stroke-width="0.6"/>
<circle cx="486.0" cy="137.5" r="2.0" fill="#b5122e" stroke="none" stroke-width="0.6"/>
<line x1="499.0" y1="97.0" x2="499.0" y2="134.0" stroke="#333" stroke-width="0.6"/>
<rect x="495.0" y="103.0" width="8.0" height="29.5" fill="#a9bbdb"/>
<line x1="495.0" y1="112.0" x2="503.0" y2="112.0" stroke="#1c3f6e" stroke-width="0.8"/>
<circle cx="498.5" cy="97.0" r="2.0" fill="#1c3f6e" stroke="none" stroke-width="0.6"/>
<circle cx="496.5" cy="102.0" r="2.0" fill="#1c3f6e" stroke="none" stroke-width="0.6"/>
<circle cx="499.5" cy="105.0" r="2.0" fill="#1c3f6e" stroke="none" stroke-width="0.6"/>
<circle cx="497.5" cy="115.0" r="2.0" fill="#1c3f6e" stroke="none" stroke-width="0.6"/>
<circle cx="500.5" cy="119.0" r="2.0" fill="#1c3f6e" stroke="none" stroke-width="0.6"/>
<circle cx="498.5" cy="122.0" r="2.0" fill="#1c3f6e" stroke="none" stroke-width="0.6"/>
<circle cx="500.5" cy="127.0" r="2.0" fill="#1c3f6e" stroke="none" stroke-width="0.6"/>
<circle cx="496.5" cy="131.0" r="2.0" fill="#1c3f6e" stroke="none" stroke-width="0.6"/>
<circle cx="499.0" cy="133.5" r="2.0" fill="#1c3f6e" stroke="none" stroke-width="0.6"/>
<path d="M488 70 L488 65 L499.6 65 L499.6 85" stroke="#333" stroke-width="0.7" fill="none"/>
<text x="491.4" y="61.4" font-size="8.6" fill="#333" stroke="#333" stroke-width="0.1" textLength="8.8" lengthAdjust="spacingAndGlyphs">ns</text>
<text x="10.2" y="190.6" font-size="11" fill="#111" stroke="#111" stroke-width="0.1" font-weight="bold">D</text>
<text x="118.8" y="191.0" font-size="11" fill="#111" stroke="#111" stroke-width="0.1" font-weight="bold">E</text>
<text x="29.6" y="232.2" font-size="9.4" fill="#333" stroke="#333" stroke-width="0.1" textLength="39.6" lengthAdjust="spacingAndGlyphs" transform="rotate(-90 29.6 232.2)">Normalized</text>
<text x="39.2" y="222.0" font-size="9.4" fill="#333" stroke="#333" stroke-width="0.1" textLength="19.2" lengthAdjust="spacingAndGlyphs" transform="rotate(-90 39.2 222.0)">mode</text>
<text x="137.9" y="232.2" font-size="9.4" fill="#333" stroke="#333" stroke-width="0.1" textLength="39.6" lengthAdjust="spacingAndGlyphs" transform="rotate(-90 137.9 232.2)">Normalized</text>
<text x="147.5" y="222.0" font-size="9.4" fill="#333" stroke="#333" stroke-width="0.1" textLength="19.2" lengthAdjust="spacingAndGlyphs" transform="rotate(-90 147.5 222.0)">mode</text>
<line x1="47.2" y1="201.2" x2="47.2" y2="224.0" stroke="#333" stroke-width="0.9"/>
<line x1="46.8" y1="223.5" x2="113.8" y2="223.5" stroke="#333" stroke-width="0.9"/>
<line x1="45.0" y1="223.0" x2="47.2" y2="223.0" stroke="#555" stroke-width="0.6"/>
<line x1="45.0" y1="219.8" x2="47.2" y2="219.8" stroke="#555" stroke-width="0.6"/>
<line x1="45.0" y1="216.6" x2="47.2" y2="216.6" stroke="#555" stroke-width="0.6"/>
<line x1="45.0" y1="213.4" x2="47.2" y2="213.4" stroke="#555" stroke-width="0.6"/>
<line x1="45.0" y1="210.2" x2="47.2" y2="210.2" stroke="#555" stroke-width="0.6"/>
<line x1="45.0" y1="207.0" x2="47.2" y2="207.0" stroke="#555" stroke-width="0.6"/>
<line x1="45.0" y1="203.8" x2="47.2" y2="203.8" stroke="#555" stroke-width="0.6"/>
<line x1="57.0" y1="223.5" x2="57.0" y2="225.1" stroke="#555" stroke-width="0.6"/>
<line x1="71.5" y1="223.5" x2="71.5" y2="225.1" stroke="#555" stroke-width="0.6"/>
<line x1="84.6" y1="223.5" x2="84.6" y2="225.1" stroke="#555" stroke-width="0.6"/>
<line x1="97.7" y1="223.5" x2="97.7" y2="225.1" stroke="#555" stroke-width="0.6"/>
<line x1="112.3" y1="223.5" x2="112.3" y2="225.1" stroke="#555" stroke-width="0.6"/>
<path d="M57.0 223.3 L57.0 223.2 L57.3 223.2 L57.6 223.2 L57.9 223.1 L58.1 223.1 L58.4 223.0 L58.7 222.8 L59.0 222.6 L59.3 222.4 L59.5 222.1 L59.8 221.7 L60.1 221.3 L60.4 220.7 L60.7 220.1 L61.0 219.3 L61.2 218.4 L61.5 217.4 L61.8 216.3 L62.1 215.1 L62.4 213.8 L62.7 212.5 L63.0 211.1 L63.2 209.8 L63.5 208.5 L63.8 207.4 L64.1 206.3 L64.4 205.5 L64.7 204.9 L64.9 204.5 L65.2 204.4 L65.5 204.5 L65.8 204.9 L66.1 205.4 L66.3 206.2 L66.6 207.1 L66.9 208.1 L67.2 209.2 L67.5 210.4 L67.8 211.7 L68.0 212.9 L68.3 214.2 L68.6 215.3 L68.9 216.4 L69.2 217.5 L69.5 218.4 L69.8 219.2 L70.0 219.9 L70.3 220.6 L70.6 221.1 L70.9 221.6 L71.2 221.9 L71.5 222.2 L71.7 222.5 L72.0 222.7 L72.3 222.8 L72.6 223.0 L72.9 223.1 L73.2 223.1 L73.4 223.2 L73.7 223.2 L74.0 223.2 L74.0 223.3 Z" stroke="#d8ccd0" stroke-width="0.6" fill="#dcd6da"/>
<path d="M58.0 223.3 L58.0 223.3 L58.8 223.3 L59.5 223.3 L60.3 223.2 L61.1 223.2 L61.8 223.1 L62.6 223.0 L63.4 222.8 L64.1 222.6 L64.9 222.2 L65.7 221.7 L66.4 221.1 L67.2 220.3 L68.0 219.2 L68.7 218.0 L69.5 216.5 L70.3 214.9 L71.0 213.1 L71.8 211.2 L72.6 209.4 L73.3 207.7 L74.1 206.3 L74.9 205.2 L75.6 204.4 L76.4 204.2 L77.2 204.3 L77.9 204.5 L78.7 204.9 L79.5 205.5 L80.2 206.2 L81.0 207.0 L81.8 207.9 L82.5 208.9 L83.3 209.9 L84.1 211.0 L84.8 212.0 L85.6 213.1 L86.4 214.2 L87.1 215.2 L87.9 216.2 L88.7 217.1 L89.4 217.9 L90.2 218.7 L91.0 219.4 L91.7 220.0 L92.5 220.5 L93.3 221.0 L94.0 221.4 L94.8 221.8 L95.6 222.1 L96.3 222.3 L97.1 222.5 L97.9 222.7 L98.6 222.8 L99.4 222.9 L100.2 223.0 L100.9 223.1 L101.7 223.1 L102.5 223.2 L103.2 223.2 L104.0 223.2 L104.0 223.3 Z" stroke="#c8506a" stroke-width="0.8" fill="#e8b4be" opacity="0.9"/>
<path d="M58.0 223.3 L58.0 223.3 L58.9 223.3 L59.8 223.3 L60.7 223.3 L61.6 223.3 L62.5 223.3 L63.4 223.2 L64.3 223.2 L65.2 223.1 L66.1 222.8 L67.0 222.5 L67.9 221.8 L68.8 220.9 L69.7 219.6 L70.6 217.9 L71.5 215.8 L72.4 213.3 L73.3 210.7 L74.2 208.2 L75.1 206.1 L76.0 204.6 L76.9 204.0 L77.8 204.1 L78.7 204.4 L79.6 205.0 L80.5 205.8 L81.4 206.7 L82.3 207.8 L83.2 209.0 L84.1 210.3 L85.0 211.6 L85.9 212.9 L86.8 214.2 L87.7 215.4 L88.6 216.6 L89.5 217.6 L90.4 218.6 L91.3 219.4 L92.2 220.1 L93.1 220.8 L94.0 221.3 L94.9 221.7 L95.8 222.1 L96.7 222.4 L97.6 222.6 L98.5 222.8 L99.4 222.9 L100.3 223.0 L101.2 223.1 L102.1 223.2 L103.0 223.2 L103.9 223.2 L104.8 223.3 L105.7 223.3 L106.6 223.3 L107.5 223.3 L108.4 223.3 L109.3 223.3 L110.2 223.3 L111.1 223.3 L112.0 223.3 L112.0 223.3 Z" stroke="#1e3a6a" stroke-width="0.8" fill="#5670a8"/>
<line x1="58.5" y1="234.0" x2="70.0" y2="234.0" stroke="#333" stroke-width="0.8"/>
<text x="72.3" y="236.8" font-size="9.8" fill="#333" stroke="#333" stroke-width="0.1" textLength="20" lengthAdjust="spacingAndGlyphs">FSC-A</text>
<line x1="92.8" y1="234.0" x2="101.0" y2="234.0" stroke="#333" stroke-width="0.8"/>
<path d="M103.2 234 L100.2 232.4 L100.2 235.6 Z" stroke="none" stroke-width="0" fill="#333"/>
<line x1="154.4" y1="201.2" x2="154.4" y2="223.8" stroke="#333" stroke-width="0.9"/>
<line x1="154.0" y1="223.3" x2="216.5" y2="223.3" stroke="#333" stroke-width="0.9"/>
<line x1="152.2" y1="222.8" x2="154.4" y2="222.8" stroke="#555" stroke-width="0.6"/>
<line x1="152.2" y1="219.6" x2="154.4" y2="219.6" stroke="#555" stroke-width="0.6"/>
<line x1="152.2" y1="216.4" x2="154.4" y2="216.4" stroke="#555" stroke-width="0.6"/>
<line x1="152.2" y1="213.2" x2="154.4" y2="213.2" stroke="#555" stroke-width="0.6"/>
<line x1="152.2" y1="210.0" x2="154.4" y2="210.0" stroke="#555" stroke-width="0.6"/>
<line x1="152.2" y1="206.8" x2="154.4" y2="206.8" stroke="#555" stroke-width="0.6"/>
<line x1="152.2" y1="203.6" x2="154.4" y2="203.6" stroke="#555" stroke-width="0.6"/>
<line x1="160.0" y1="223.3" x2="160.0" y2="224.9" stroke="#555" stroke-width="0.6"/>
<line x1="172.0" y1="223.3" x2="172.0" y2="224.9" stroke="#555" stroke-width="0.6"/>
<line x1="184.5" y1="223.3" x2="184.5" y2="224.9" stroke="#555" stroke-width="0.6"/>
<line x1="197.0" y1="223.3" x2="197.0" y2="224.9" stroke="#555" stroke-width="0.6"/>
<line x1="209.0" y1="223.3" x2="209.0" y2="224.9" stroke="#555" stroke-width="0.6"/>
<path d="M192.0 223.1 L192.0 223.1 L192.3 223.1 L192.6 223.0 L192.8 223.0 L193.1 222.9 L193.4 222.9 L193.7 222.8 L194.0 222.7 L194.3 222.5 L194.6 222.3 L194.8 222.1 L195.1 221.8 L195.4 221.4 L195.7 220.9 L196.0 220.4 L196.2 219.7 L196.5 219.0 L196.8 218.1 L197.1 217.2 L197.4 216.2 L197.7 215.2 L197.9 214.1 L198.2 213.1 L198.5 212.0 L198.8 211.0 L199.1 210.1 L199.4 209.3 L199.7 208.7 L199.9 208.3 L200.2 208.0 L200.5 208.0 L200.8 208.2 L201.1 208.5 L201.3 209.0 L201.6 209.6 L201.9 210.4 L202.2 211.2 L202.5 212.1 L202.8 213.1 L203.1 214.1 L203.3 215.1 L203.6 216.1 L203.9 217.0 L204.2 217.9 L204.5 218.7 L204.8 219.4 L205.0 220.0 L205.3 220.6 L205.6 221.1 L205.9 221.5 L206.2 221.8 L206.4 222.1 L206.7 222.3 L207.0 222.5 L207.3 222.7 L207.6 222.8 L207.9 222.9 L208.2 222.9 L208.4 223.0 L208.7 223.0 L209.0 223.0 L209.0 223.1 Z" stroke="#cccccc" stroke-width="0.6" fill="#d8d8d8"/>
<path d="M167.5 223.1 L167.5 222.9 L167.9 222.8 L168.3 222.7 L168.7 222.5 L169.1 222.3 L169.5 221.9 L169.8 221.5 L170.2 221.0 L170.6 220.3 L171.0 219.5 L171.4 218.5 L171.8 217.4 L172.2 216.2 L172.6 214.8 L173.0 213.3 L173.4 211.8 L173.8 210.3 L174.2 208.8 L174.6 207.4 L174.9 206.3 L175.3 205.3 L175.7 204.7 L176.1 204.3 L176.5 204.3 L176.9 204.5 L177.3 204.7 L177.7 205.1 L178.1 205.6 L178.5 206.3 L178.9 207.0 L179.2 207.8 L179.6 208.7 L180.0 209.6 L180.4 210.5 L180.8 211.5 L181.2 212.5 L181.6 213.4 L182.0 214.4 L182.4 215.3 L182.8 216.1 L183.2 216.9 L183.6 217.7 L183.9 218.4 L184.3 219.0 L184.7 219.6 L185.1 220.1 L185.5 220.6 L185.9 221.0 L186.3 221.3 L186.7 221.6 L187.1 221.9 L187.5 222.1 L187.9 222.3 L188.3 222.5 L188.7 222.6 L189.0 222.7 L189.4 222.8 L189.8 222.9 L190.2 222.9 L190.6 223.0 L191.0 223.0 L191.0 223.1 Z" stroke="#d03848" stroke-width="1.4" fill="#d85a68"/>
<path d="M169.0 223.1 L169.0 223.0 L169.4 223.0 L169.7 222.9 L170.1 222.8 L170.5 222.7 L170.8 222.5 L171.2 222.3 L171.6 222.0 L171.9 221.6 L172.3 221.2 L172.7 220.6 L173.0 220.0 L173.4 219.2 L173.8 218.3 L174.1 217.4 L174.5 216.3 L174.9 215.2 L175.2 214.0 L175.6 212.9 L176.0 211.7 L176.3 210.7 L176.7 209.7 L177.1 208.9 L177.4 208.3 L177.8 207.9 L178.2 207.8 L178.5 207.9 L178.9 208.1 L179.3 208.5 L179.6 209.0 L180.0 209.6 L180.4 210.3 L180.7 211.2 L181.1 212.0 L181.5 213.0 L181.8 213.9 L182.2 214.8 L182.6 215.8 L182.9 216.7 L183.3 217.5 L183.7 218.3 L184.0 219.0 L184.4 219.6 L184.8 220.2 L185.1 220.7 L185.5 221.1 L185.9 221.5 L186.2 221.8 L186.6 222.1 L187.0 222.3 L187.3 222.5 L187.7 222.6 L188.1 222.7 L188.4 222.8 L188.8 222.9 L189.2 223.0 L189.5 223.0 L189.9 223.0 L190.3 223.0 L190.6 223.1 L191.0 223.1 L191.0 223.1 Z" stroke="#3a5a90" stroke-width="0.5" fill="#5a76b0"/>
<rect x="170.5" y="222.2" width="3.0" height="1.6" fill="#111"/>
<line x1="160.4" y1="234.0" x2="172.7" y2="234.0" stroke="#333" stroke-width="0.8"/>
<text x="175.0" y="236.8" font-size="9.8" fill="#333" stroke="#333" stroke-width="0.1" textLength="23.8" lengthAdjust="spacingAndGlyphs">CD138</text>
<line x1="201.0" y1="234.0" x2="208.5" y2="234.0" stroke="#333" stroke-width="0.8"/>
<path d="M211 234 L208 232.4 L208 235.6 Z" stroke="none" stroke-width="0" fill="#333"/>
<line x1="52.2" y1="252.5" x2="52.2" y2="341.3" stroke="#333" stroke-width="1"/>
<line x1="51.7" y1="340.8" x2="92.8" y2="340.8" stroke="#333" stroke-width="1"/>
<line x1="49.7" y1="254.6" x2="52.2" y2="254.6" stroke="#333" stroke-width="1"/>
<text x="47.0" y="257.4" font-size="7.8" fill="#333" stroke="#333" stroke-width="0.1" text-anchor="end">1.25M</text>
<line x1="49.7" y1="283.4" x2="52.2" y2="283.4" stroke="#333" stroke-width="1"/>
<text x="47.0" y="286.2" font-size="7.8" fill="#333" stroke="#333" stroke-width="0.1" text-anchor="end">1M</text>
<line x1="49.7" y1="312.1" x2="52.2" y2="312.1" stroke="#333" stroke-width="1"/>
<text x="47.0" y="314.9" font-size="7.8" fill="#333" stroke="#333" stroke-width="0.1" text-anchor="end">7.5M</text>
<line x1="49.7" y1="340.8" x2="52.2" y2="340.8" stroke="#333" stroke-width="1"/>
<text x="47.0" y="343.6" font-size="7.8" fill="#333" stroke="#333" stroke-width="0.1" text-anchor="end">5M</text>
<text x="18.8" y="319.0" font-size="9.4" fill="#333" stroke="#333" stroke-width="0.1" textLength="47" lengthAdjust="spacingAndGlyphs" transform="rotate(-90 18.8 319.0)">Median FSC-A</text>
<line x1="61.0" y1="340.8" x2="61.0" y2="343.1" stroke="#333" stroke-width="1"/>
<line x1="72.5" y1="340.8" x2="72.5" y2="343.1" stroke="#333" stroke-width="1"/>
<line x1="84.6" y1="340.8" x2="84.6" y2="343.1" stroke="#333" stroke-width="1"/>
<text x="64.4" y="349.6" font-size="7.9" fill="#aaa" stroke="#aaa" stroke-width="0.15" text-anchor="end" transform="rotate(-45 64.4 349.6)">YC</text>
<text x="75.9" y="349.6" font-size="7.9" fill="#c0203f" stroke="#c0203f" stroke-width="0.15" text-anchor="end" transform="rotate(-45 75.9 349.6)">pBIC</text>
<text x="88.0" y="349.6" font-size="7.9" fill="#2c5d91" stroke="#2c5d91" stroke-width="0.15" text-anchor="end" transform="rotate(-45 88.0 349.6)">pBIC<tspan font-size="5.3" dy="-3">Δ10</tspan></text>
<rect x="58.0" y="317.0" width="6.0" height="14.0" fill="#e8e8e8"/>
<circle cx="60.5" cy="319.0" r="1.5" fill="#fff" stroke="#999" stroke-width="0.6"/>
<circle cx="62.5" cy="321.5" r="1.5" fill="#fff" stroke="#999" stroke-width="0.6"/>
<circle cx="61.0" cy="330.0" r="1.5" fill="#fff" stroke="#999" stroke-width="0.6"/>
<circle cx="60.0" cy="335.6" r="1.5" fill="#fff" stroke="#999" stroke-width="0.6"/>
<line x1="72.5" y1="283.5" x2="72.5" y2="302.0" stroke="#333" stroke-width="0.6"/>
<rect x="69.4" y="288.0" width="6.6" height="13.0" fill="#f0c0b8"/>
<circle cx="72.5" cy="283.5" r="1.9" fill="#b5122e" stroke="none" stroke-width="0.6"/>
<circle cx="71.5" cy="288.0" r="1.9" fill="#b5122e" stroke="none" stroke-width="0.6"/>
<circle cx="73.5" cy="292.0" r="1.9" fill="#b5122e" stroke="none" stroke-width="0.6"/>
<circle cx="72.0" cy="296.0" r="1.9" fill="#b5122e" stroke="none" stroke-width="0.6"/>
<circle cx="70.5" cy="300.0" r="1.9" fill="#b5122e" stroke="none" stroke-width="0.6"/>
<circle cx="74.5" cy="301.5" r="1.9" fill="#b5122e" stroke="none" stroke-width="0.6"/>
<circle cx="72.8" cy="302.3" r="1.9" fill="#b5122e" stroke="none" stroke-width="0.6"/>
<line x1="84.6" y1="283.5" x2="84.6" y2="303.0" stroke="#333" stroke-width="0.6"/>
<rect x="81.0" y="284.0" width="7.0" height="14.0" fill="#b8c8e4"/>
<circle cx="81.2" cy="283.6" r="1.9" fill="#1c3f6e" stroke="none" stroke-width="0.6"/>
<circle cx="87.6" cy="283.6" r="1.9" fill="#1c3f6e" stroke="none" stroke-width="0.6"/>
<circle cx="82.0" cy="289.0" r="1.9" fill="#1c3f6e" stroke="none" stroke-width="0.6"/>
<circle cx="87.2" cy="289.0" r="1.9" fill="#1c3f6e" stroke="none" stroke-width="0.6"/>
<circle cx="81.3" cy="295.0" r="1.9" fill="#1c3f6e" stroke="none" stroke-width="0.6"/>
<circle cx="88.0" cy="295.0" r="1.9" fill="#1c3f6e" stroke="none" stroke-width="0.6"/>
<circle cx="84.6" cy="303.0" r="1.9" fill="#1c3f6e" stroke="none" stroke-width="0.6"/>
<path d="M59.4 289 L59.4 258 L84.6 258 L84.6 281" stroke="#555" stroke-width="0.7" fill="none"/>
<text x="72.4" y="260.6" font-size="10" fill="#333" stroke="#333" stroke-width="0.1" text-anchor="middle">***</text>
<path d="M59.4 289 L59.4 270.6 L73 270.6 L73 278" stroke="#555" stroke-width="0.7" fill="none"/>
<text x="66.7" y="273.2" font-size="10" fill="#333" stroke="#333" stroke-width="0.1" text-anchor="middle">***</text>
<line x1="166.2" y1="253.0" x2="166.2" y2="339.0" stroke="#333" stroke-width="1"/>
<line x1="165.7" y1="338.5" x2="205.0" y2="338.5" stroke="#333" stroke-width="1"/>
<line x1="165.0" y1="338.5" x2="166.2" y2="338.5" stroke="#555" stroke-width="0.5"/>
<line x1="165.0" y1="335.8" x2="166.2" y2="335.8" stroke="#555" stroke-width="0.5"/>
<line x1="165.0" y1="333.1" x2="166.2" y2="333.1" stroke="#555" stroke-width="0.5"/>
<line x1="165.0" y1="330.4" x2="166.2" y2="330.4" stroke="#555" stroke-width="0.5"/>
<line x1="165.0" y1="327.7" x2="166.2" y2="327.7" stroke="#555" stroke-width="0.5"/>
<line x1="165.0" y1="324.9" x2="166.2" y2="324.9" stroke="#555" stroke-width="0.5"/>
<line x1="165.0" y1="322.2" x2="166.2" y2="322.2" stroke="#555" stroke-width="0.5"/>
<line x1="165.0" y1="319.5" x2="166.2" y2="319.5" stroke="#555" stroke-width="0.5"/>
<line x1="165.0" y1="316.8" x2="166.2" y2="316.8" stroke="#555" stroke-width="0.5"/>
<line x1="165.0" y1="314.1" x2="166.2" y2="314.1" stroke="#555" stroke-width="0.5"/>
<line x1="165.0" y1="311.4" x2="166.2" y2="311.4" stroke="#555" stroke-width="0.5"/>
<line x1="165.0" y1="308.7" x2="166.2" y2="308.7" stroke="#555" stroke-width="0.5"/>
<line x1="165.0" y1="306.0" x2="166.2" y2="306.0" stroke="#555" stroke-width="0.5"/>
<line x1="165.0" y1="303.3" x2="166.2" y2="303.3" stroke="#555" stroke-width="0.5"/>
<line x1="165.0" y1="300.6" x2="166.2" y2="300.6" stroke="#555" stroke-width="0.5"/>
<line x1="165.0" y1="297.9" x2="166.2" y2="297.9" stroke="#555" stroke-width="0.5"/>
<line x1="165.0" y1="295.1" x2="166.2" y2="295.1" stroke="#555" stroke-width="0.5"/>
<line x1="165.0" y1="292.4" x2="166.2" y2="292.4" stroke="#555" stroke-width="0.5"/>
<line x1="165.0" y1="289.7" x2="166.2" y2="289.7" stroke="#555" stroke-width="0.5"/>
<line x1="165.0" y1="287.0" x2="166.2" y2="287.0" stroke="#555" stroke-width="0.5"/>
<line x1="165.0" y1="284.3" x2="166.2" y2="284.3" stroke="#555" stroke-width="0.5"/>
<line x1="165.0" y1="281.6" x2="166.2" y2="281.6" stroke="#555" stroke-width="0.5"/>
<line x1="165.0" y1="278.9" x2="166.2" y2="278.9" stroke="#555" stroke-width="0.5"/>
<line x1="165.0" y1="276.2" x2="166.2" y2="276.2" stroke="#555" stroke-width="0.5"/>
<line x1="165.0" y1="273.5" x2="166.2" y2="273.5" stroke="#555" stroke-width="0.5"/>
<line x1="165.0" y1="270.8" x2="166.2" y2="270.8" stroke="#555" stroke-width="0.5"/>
<line x1="165.0" y1="268.0" x2="166.2" y2="268.0" stroke="#555" stroke-width="0.5"/>
<line x1="165.0" y1="265.3" x2="166.2" y2="265.3" stroke="#555" stroke-width="0.5"/>
<line x1="165.0" y1="262.6" x2="166.2" y2="262.6" stroke="#555" stroke-width="0.5"/>
<line x1="165.0" y1="259.9" x2="166.2" y2="259.9" stroke="#555" stroke-width="0.5"/>
<line x1="165.0" y1="257.2" x2="166.2" y2="257.2" stroke="#555" stroke-width="0.5"/>
<line x1="163.7" y1="338.5" x2="166.2" y2="338.5" stroke="#333" stroke-width="1"/>
<text x="163.0" y="341.3" font-size="7.8" fill="#333" stroke="#333" stroke-width="0.1" text-anchor="end">0</text>
<line x1="163.7" y1="311.4" x2="166.2" y2="311.4" stroke="#333" stroke-width="1"/>
<text x="157.6" y="314.2" font-size="8.2" fill="#333" stroke="#333" stroke-width="0.1" text-anchor="end" textLength="19.5" lengthAdjust="spacingAndGlyphs">2×10</text>
<text x="157.8" y="310.6" font-size="5.6" fill="#333" stroke="#333" stroke-width="0.1">4</text>
<line x1="163.7" y1="284.3" x2="166.2" y2="284.3" stroke="#333" stroke-width="1"/>
<text x="157.6" y="287.1" font-size="8.2" fill="#333" stroke="#333" stroke-width="0.1" text-anchor="end" textLength="19.5" lengthAdjust="spacingAndGlyphs">4×10</text>
<text x="157.8" y="283.5" font-size="5.6" fill="#333" stroke="#333" stroke-width="0.1">4</text>
<line x1="163.7" y1="257.2" x2="166.2" y2="257.2" stroke="#333" stroke-width="1"/>
<text x="157.6" y="260.0" font-size="8.2" fill="#333" stroke="#333" stroke-width="0.1" text-anchor="end" textLength="19.5" lengthAdjust="spacingAndGlyphs">6×10</text>
<text x="157.8" y="256.4" font-size="5.6" fill="#333" stroke="#333" stroke-width="0.1">4</text>
<text x="132.4" y="326.0" font-size="9.4" fill="#333" stroke="#333" stroke-width="0.1" textLength="73.4" lengthAdjust="spacingAndGlyphs" transform="rotate(-90 132.4 326.0)">Surface CD138 <tspan font-style="italic">(MFI)</tspan></text>
<line x1="174.0" y1="338.5" x2="174.0" y2="340.8" stroke="#333" stroke-width="1"/>
<line x1="185.0" y1="338.5" x2="185.0" y2="340.8" stroke="#333" stroke-width="1"/>
<line x1="196.0" y1="338.5" x2="196.0" y2="340.8" stroke="#333" stroke-width="1"/>
<text x="177.4" y="347.6" font-size="7.9" fill="#aaa" stroke="#aaa" stroke-width="0.15" text-anchor="end" transform="rotate(-45 177.4 347.6)">YC</text>
<text x="188.4" y="347.6" font-size="7.9" fill="#c0203f" stroke="#c0203f" stroke-width="0.15" text-anchor="end" transform="rotate(-45 188.4 347.6)">pBIC</text>
<text x="199.4" y="347.6" font-size="7.9" fill="#2c5d91" stroke="#2c5d91" stroke-width="0.15" text-anchor="end" transform="rotate(-45 199.4 347.6)">pBIC<tspan font-size="5.3" dy="-3">Δ10</tspan></text>
<line x1="174.0" y1="264.1" x2="174.0" y2="298.3" stroke="#999" stroke-width="0.7"/>
<circle cx="174.0" cy="264.1" r="1.5" fill="#fff" stroke="#888" stroke-width="0.6"/>
<circle cx="174.0" cy="289.3" r="1.5" fill="#fff" stroke="#888" stroke-width="0.6"/>
<line x1="171.0" y1="289.3" x2="177.0" y2="289.3" stroke="#888" stroke-width="0.7"/>
<circle cx="174.0" cy="298.3" r="1.5" fill="#fff" stroke="#888" stroke-width="0.6"/>
<rect x="182.5" y="328.0" width="5.0" height="10.5" fill="#f0b0b8"/>
<circle cx="186.0" cy="327.5" r="1.9" fill="#b5122e" stroke="none" stroke-width="0.6"/>
<circle cx="184.0" cy="333.0" r="1.9" fill="#b5122e" stroke="none" stroke-width="0.6"/>
<circle cx="187.0" cy="335.5" r="1.9" fill="#b5122e" stroke="none" stroke-width="0.6"/>
<circle cx="183.5" cy="336.5" r="1.9" fill="#b5122e" stroke="none" stroke-width="0.6"/>
<circle cx="193.0" cy="333.4" r="1.9" fill="#1c3f6e" stroke="none" stroke-width="0.6"/>
<circle cx="195.7" cy="333.4" r="1.9" fill="#1c3f6e" stroke="none" stroke-width="0.6"/>
<circle cx="198.2" cy="333.4" r="1.9" fill="#1c3f6e" stroke="none" stroke-width="0.6"/>
<path d="M173.5 257 L173.5 252 L199.2 252 L199.2 287.2" stroke="#555" stroke-width="0.7" fill="none"/>
<text x="187.0" y="254.2" font-size="10" fill="#333" stroke="#333" stroke-width="0.1" text-anchor="middle">***</text>
<path d="M173.5 262 L173.5 257.8 L187 257.8 L187 287.2" stroke="#555" stroke-width="0.7" fill="none"/>
<text x="180.8" y="260.8" font-size="10" fill="#333" stroke="#333" stroke-width="0.1" text-anchor="middle">***</text>
<text x="234.5" y="194.3" font-size="11.5" fill="#111" stroke="#111" stroke-width="0.1" font-weight="bold">F</text>
<text x="279.2" y="204.3" font-size="8.4" fill="#aaa" stroke="#aaa" stroke-width="0.1" text-anchor="middle">YC</text>
<text x="373.3" y="204.3" font-size="8.4" fill="#c0203f" stroke="#c0203f" stroke-width="0.1" text-anchor="middle">pBIC</text>
<text x="454.2" y="204.3" font-size="8.4" fill="#3a6ea8" stroke="#3a6ea8" stroke-width="0.2">pBIC<tspan font-size="5.5" dy="-3.2">Δ10</tspan></text>
<defs>
<clipPath id="ct0"><rect x="234.8" y="207.8" width="88.4" height="68.9"/></clipPath>
<clipPath id="cb0"><rect x="234.8" y="278.5" width="88.4" height="63.2"/></clipPath>
<clipPath id="ct1"><rect x="329.2" y="207.8" width="88.1" height="68.9"/></clipPath>
<clipPath id="cb1"><rect x="329.2" y="278.5" width="88.1" height="63.2"/></clipPath>
<clipPath id="ct2"><rect x="424.2" y="207.8" width="88.0" height="68.9"/></clipPath>
<clipPath id="cb2"><rect x="424.2" y="278.5" width="88.0" height="63.2"/></clipPath>
<clipPath id="cgc"><path d="M271 278.5 Q264 292 263 308 Q266 322 279 326 Q292 322 302 306 Q312 292 309 278.5Z"/></clipPath>
<filter id="tt0" x="0" y="0" width="100%" height="100%" color-interpolation-filters="sRGB"><feFlood flood-color="#b2a2cc" result="bg"/><feTurbulence type="fractalNoise" baseFrequency="0.7" numOctaves="2" seed="3" result="n2_007"/><feColorMatrix in="n2_007" type="matrix" values="0 0 0 0 0  0 0 0 0 0  0 0 0 0 0  10 0 0 0 -5.500" result="m0"/><feFlood flood-color="#a494c4" result="f0"/><feComposite in="f0" in2="m0" operator="in" result="c0"/><feComposite in="c0" in2="bg" operator="over" result="o0"/><feColorMatrix in="n2_007" type="matrix" values="0 0 0 0 0  0 0 0 0 0  0 0 0 0 0  0 10 0 0 -5.600" result="m1"/><feFlood flood-color="#c0b4da" result="f1"/><feComposite in="f1" in2="m1" operator="in" result="c1"/><feComposite in="c1" in2="o0" operator="over" result="o1"/><feTurbulence type="fractalNoise" baseFrequency="0.35" numOctaves="2" seed="6" result="n2_3035"/><feColorMatrix in="n2_3035" type="matrix" values="0 0 0 0 0  0 0 0 0 0  0 0 0 0 0  0 0 10 0 -6.000" result="m2"/><feFlood flood-color="#bcb0d8" result="f2"/><feComposite in="f2" in2="m2" operator="in" result="c2"/><feComposite in="c2" in2="o1" operator="over" result="o2"/><feTurbulence type="fractalNoise" baseFrequency="0.3" numOctaves="2" seed="10" result="n2_703"/><feColorMatrix in="n2_703" type="matrix" values="0 0 0 0 0  0 0 0 0 0  0 0 0 0 0  10 0 0 0 -6.200" result="m3"/><feFlood flood-color="#b8a4cc" result="f3"/><feComposite in="f3" in2="m3" operator="in" result="c3"/><feComposite in="c3" in2="o2" operator="over" result="o3"/><feGaussianBlur in="o3" stdDeviation="0.45"/></filter>
<filter id="tt1" x="0" y="0" width="100%" height="100%" color-interpolation-filters="sRGB"><feFlood flood-color="#a2b3ce" result="bg"/><feTurbulence type="fractalNoise" baseFrequency="0.7" numOctaves="2" seed="5" result="n2_007"/><feColorMatrix in="n2_007" type="matrix" values="0 0 0 0 0  0 0 0 0 0  0 0 0 0 0  10 0 0 0 -5.500" result="m0"/><feFlood flood-color="#96a8c6" result="f0"/><feComposite in="f0" in2="m0" operator="in" result="c0"/><feComposite in="c0" in2="bg" operator="over" result="o0"/><feColorMatrix in="n2_007" type="matrix" values="0 0 0 0 0  0 0 0 0 0  0 0 0 0 0  0 10 0 0 -5.600" result="m1"/><feFlood flood-color="#b2c0d8" result="f1"/><feComposite in="f1" in2="m1" operator="in" result="c1"/><feComposite in="c1" in2="o0" operator="over" result="o1"/><feTurbulence type="fractalNoise" baseFrequency="0.35" numOctaves="2" seed="8" result="n2_3035"/><feColorMatrix in="n2_3035" type="matrix" values="0 0 0 0 0  0 0 0 0 0  0 0 0 0 0  0 0 10 0 -6.000" result="m2"/><feFlood flood-color="#aebed6" result="f2"/><feComposite in="f2" in2="m2" operator="in" result="c2"/><feComposite in="c2" in2="o1" operator="over" result="o2"/><feTurbulence type="fractalNoise" baseFrequency="0.3" numOctaves="2" seed="12" result="n2_703"/><feColorMatrix in="n2_703" type="matrix" values="0 0 0 0 0  0 0 0 0 0  0 0 0 0 0  10 0 0 0 -6.200" result="m3"/><feFlood flood-color="#a8b6d0" result="f3"/><feComposite in="f3" in2="m3" operator="in" result="c3"/><feComposite in="c3" in2="o2" operator="over" result="o3"/><feTurbulence type="fractalNoise" baseFrequency="0.5" numOctaves="1" seed="14" result="n1_905"/><feColorMatrix in="n1_905" type="matrix" values="0 0 0 0 0  0 0 0 0 0  0 0 0 0 0  0 0 10 0 -6.300" result="m4"/><feFlood flood-color="#b0b4d0" result="f4"/><feComposite in="f4" in2="m4" operator="in" result="c4"/><feComposite in="c4" in2="o3" operator="over" result="o4"/><feGaussianBlur in="o4" stdDeviation="0.45"/></filter>
<filter id="tt2" x="0" y="0" width="100%" height="100%" color-interpolation-filters="sRGB"><feFlood flood-color="#a2b3cf" result="bg"/><feTurbulence type="fractalNoise" baseFrequency="0.7" numOctaves="2" seed="7" result="n2_007"/><feColorMatrix in="n2_007" type="matrix" values="0 0 0 0 0  0 0 0 0 0  0 0 0 0 0  10 0 0 0 -5.500" result="m0"/><feFlood flood-color="#96a8c8" result="f0"/><feComposite in="f0" in2="m0" operator="in" result="c0"/><feComposite in="c0" in2="bg" operator="over" result="o0"/><feColorMatrix in="n2_007" type="matrix" values="0 0 0 0 0  0 0 0 0 0  0 0 0 0 0  0 10 0 0 -5.600" result="m1"/><feFlood flood-color="#b2c0da" result="f1"/><feComposite in="f1" in2="m1" operator="in" result="c1"/><feComposite in="c1" in2="o0" operator="over" result="o1"/><feTurbulence type="fractalNoise" baseFrequency="0.35" numOctaves="2" seed="10" result="n2_3035"/><feColorMatrix in="n2_3035" type="matrix" values="0 0 0 0 0  0 0 0 0 0  0 0 0 0 0  0 0 10 0 -6.000" result="m2"/><feFlood flood-color="#aebed8" result="f2"/><feComposite in="f2" in2="m2" operator="in" result="c2"/><feComposite in="c2" in2="o1" operator="over" result="o2"/><feTurbulence type="fractalNoise" baseFrequency="0.3" numOctaves="2" seed="14" result="n2_703"/><feColorMatrix in="n2_703" type="matrix" values="0 0 0 0 0  0 0 0 0 0  0 0 0 0 0  10 0 0 0 -6.200" result="m3"/><feFlood flood-color="#a8b8d2" result="f3"/><feComposite in="f3" in2="m3" operator="in" result="c3"/><feComposite in="c3" in2="o2" operator="over" result="o3"/><feTurbulence type="fractalNoise" baseFrequency="0.5" numOctaves="1" seed="16" result="n1_905"/><feColorMatrix in="n1_905" type="matrix" values="0 0 0 0 0  0 0 0 0 0  0 0 0 0 0  0 0 10 0 -6.300" result="m4"/><feFlood flood-color="#b0b4d2" result="f4"/><feComposite in="f4" in2="m4" operator="in" result="c4"/><feComposite in="c4" in2="o3" operator="over" result="o4"/><feGaussianBlur in="o4" stdDeviation="0.45"/></filter>
<filter id="tgc" x="0" y="0" width="100%" height="100%" color-interpolation-filters="sRGB"><feFlood flood-color="#7c96c0" result="bg"/><feTurbulence type="fractalNoise" baseFrequency="0.7" numOctaves="2" seed="9" result="n2_007"/><feColorMatrix in="n2_007" type="matrix" values="0 0 0 0 0  0 0 0 0 0  0 0 0 0 0  10 0 0 0 -5.500" result="m0"/><feFlood flood-color="#6c86b6" result="f0"/><feComposite in="f0" in2="m0" operator="in" result="c0"/><feComposite in="c0" in2="bg" operator="over" result="o0"/><feColorMatrix in="n2_007" type="matrix" values="0 0 0 0 0  0 0 0 0 0  0 0 0 0 0  0 10 0 0 -5.600" result="m1"/><feFlood flood-color="#94acd0" result="f1"/><feComposite in="f1" in2="m1" operator="in" result="c1"/><feComposite in="c1" in2="o0" operator="over" result="o1"/><feTurbulence type="fractalNoise" baseFrequency="0.3" numOctaves="2" seed="11" result="n2_203"/><feColorMatrix in="n2_203" type="matrix" values="0 0 0 0 0  0 0 0 0 0  0 0 0 0 0  0 0 10 0 -6.000" result="m2"/><feFlood flood-color="#7aa0b8" result="f2"/><feComposite in="f2" in2="m2" operator="in" result="c2"/><feComposite in="c2" in2="o1" operator="over" result="o2"/><feGaussianBlur in="o2" stdDeviation="0.35"/></filter>
<filter id="tb0" x="0" y="0" width="100%" height="100%" color-interpolation-filters="sRGB"><feFlood flood-color="#b8b4c0" result="bg"/><feTurbulence type="fractalNoise" baseFrequency="0.45" numOctaves="1" seed="5" result="n1_1045"/><feColorMatrix in="n1_1045" type="matrix" values="0 0 0 0 0  0 0 0 0 0  0 0 0 0 0  12 0 0 0 -6.600" result="m0"/><feFlood flood-color="#8a84a4" result="f0"/><feComposite in="f0" in2="m0" operator="in" result="c0"/><feComposite in="c0" in2="bg" operator="over" result="o0"/><feColorMatrix in="n1_1045" type="matrix" values="0 0 0 0 0  0 0 0 0 0  0 0 0 0 0  0 12 0 0 -6.840" result="m1"/><feFlood flood-color="#9a94b0" result="f1"/><feComposite in="f1" in2="m1" operator="in" result="c1"/><feComposite in="c1" in2="o0" operator="over" result="o1"/><feTurbulence type="fractalNoise" baseFrequency="0.2" numOctaves="2" seed="8" result="n2_402"/><feColorMatrix in="n2_402" type="matrix" values="0 0 0 0 0  0 0 0 0 0  0 0 0 0 0  0 0 12 0 -7.200" result="m2"/><feFlood flood-color="#d6d0c2" result="f2"/><feComposite in="f2" in2="m2" operator="in" result="c2"/><feComposite in="c2" in2="o1" operator="over" result="o2"/><feColorMatrix in="n1_1045" type="matrix" values="0 0 0 0 0  0 0 0 0 0  0 0 0 0 0  0 0 12 0 -7.200" result="m3"/><feFlood flood-color="#d0ccd4" result="f3"/><feComposite in="f3" in2="m3" operator="in" result="c3"/><feComposite in="c3" in2="o2" operator="over" result="o3"/><feGaussianBlur in="o3" stdDeviation="0.45"/></filter>
<filter id="tbg" x="0" y="0" width="100%" height="100%" color-interpolation-filters="sRGB"><feFlood flood-color="#a4b6b2" result="bg"/><feTurbulence type="fractalNoise" baseFrequency="0.25" numOctaves="2" seed="6" result="n2_0025"/><feColorMatrix in="n2_0025" type="matrix" values="0 0 0 0 0  0 0 0 0 0  0 0 0 0 0  12 0 0 0 -6.360" result="m0"/><feFlood flood-color="#78aca2" result="f0"/><feComposite in="f0" in2="m0" operator="in" result="c0"/><feComposite in="c0" in2="bg" operator="over" result="o0"/><feColorMatrix in="n2_0025" type="matrix" values="0 0 0 0 0  0 0 0 0 0  0 0 0 0 0  0 12 0 0 -6.720" result="m1"/><feFlood flood-color="#5a9a90" result="f1"/><feComposite in="f1" in2="m1" operator="in" result="c1"/><feComposite in="c1" in2="o0" operator="over" result="o1"/><feTurbulence type="fractalNoise" baseFrequency="0.45" numOctaves="1" seed="8" result="n1_2045"/><feColorMatrix in="n1_2045" type="matrix" values="0 0 0 0 0  0 0 0 0 0  0 0 0 0 0  0 0 12 0 -6.840" result="m2"/><feFlood flood-color="#aeaabc" result="f2"/><feComposite in="f2" in2="m2" operator="in" result="c2"/><feComposite in="c2" in2="o1" operator="over" result="o2"/><feTurbulence type="fractalNoise" baseFrequency="0.45" numOctaves="1" seed="11" result="n1_5045"/><feColorMatrix in="n1_5045" type="matrix" values="0 0 0 0 0  0 0 0 0 0  0 0 0 0 0  12 0 0 0 -7.200" result="m3"/><feFlood flood-color="#8a86a6" result="f3"/><feComposite in="f3" in2="m3" operator="in" result="c3"/><feComposite in="c3" in2="o2" operator="over" result="o3"/><feTurbulence type="fractalNoise" baseFrequency="0.3" numOctaves="1" seed="14" result="n1_803"/><feColorMatrix in="n1_803" type="matrix" values="0 0 0 0 0  0 0 0 0 0  0 0 0 0 0  0 12 0 0 -7.440" result="m4"/><feFlood flood-color="#c4d2cc" result="f4"/><feComposite in="f4" in2="m4" operator="in" result="c4"/><feComposite in="c4" in2="o3" operator="over" result="o4"/><feGaussianBlur in="o4" stdDeviation="0.5"/></filter>
<filter id="tb1" x="0" y="0" width="100%" height="100%" color-interpolation-filters="sRGB"><feFlood flood-color="#dcd4d0" result="bg"/><feTurbulence type="fractalNoise" baseFrequency="0.16" numOctaves="2" seed="2" result="n2_0016"/><feColorMatrix in="n2_0016" type="matrix" values="0 0 0 0 0  0 0 0 0 0  0 0 0 0 0  12 0 0 0 -6.240" result="m0"/><feFlood flood-color="#84b2b2" result="f0"/><feComposite in="f0" in2="m0" operator="in" result="c0"/><feComposite in="c0" in2="bg" operator="over" result="o0"/><feColorMatrix in="n2_0016" type="matrix" values="0 0 0 0 0  0 0 0 0 0  0 0 0 0 0  0 12 0 0 -6.600" result="m1"/><feFlood flood-color="#62a0a6" result="f1"/><feComposite in="f1" in2="m1" operator="in" result="c1"/><feComposite in="c1" in2="o0" operator="over" result="o1"/><feTurbulence type="fractalNoise" baseFrequency="0.2" numOctaves="2" seed="5" result="n2_302"/><feColorMatrix in="n2_302" type="matrix" values="0 0 0 0 0  0 0 0 0 0  0 0 0 0 0  0 0 12 0 -7.200" result="m2"/><feFlood flood-color="#9cb2cc" result="f2"/><feComposite in="f2" in2="m2" operator="in" result="c2"/><feComposite in="c2" in2="o1" operator="over" result="o2"/><feTurbulence type="fractalNoise" baseFrequency="0.25" numOctaves="1" seed="10" result="n1_8025"/><feColorMatrix in="n1_8025" type="matrix" values="0 0 0 0 0  0 0 0 0 0  0 0 0 0 0  0 0 12 0 -7.200" result="m3"/><feFlood flood-color="#e4ccd6" result="f3"/><feComposite in="f3" in2="m3" operator="in" result="c3"/><feComposite in="c3" in2="o2" operator="over" result="o3"/><feColorMatrix in="n1_8025" type="matrix" values="0 0 0 0 0  0 0 0 0 0  0 0 0 0 0  12 0 0 0 -7.320" result="m4"/><feFlood flood-color="#ded6c2" result="f4"/><feComposite in="f4" in2="m4" operator="in" result="c4"/><feComposite in="c4" in2="o3" operator="over" result="o4"/><feGaussianBlur in="o4" stdDeviation="0.6"/></filter>
<filter id="tb2" x="0" y="0" width="100%" height="100%" color-interpolation-filters="sRGB"><feFlood flood-color="#dad4d4" result="bg"/><feTurbulence type="fractalNoise" baseFrequency="0.16" numOctaves="2" seed="9" result="n2_0016"/><feColorMatrix in="n2_0016" type="matrix" values="0 0 0 0 0  0 0 0 0 0  0 0 0 0 0  12 0 0 0 -6.240" result="m0"/><feFlood flood-color="#74acb8" result="f0"/><feComposite in="f0" in2="m0" operator="in" result="c0"/><feComposite in="c0" in2="bg" operator="over" result="o0"/><feColorMatrix in="n2_0016" type="matrix" values="0 0 0 0 0  0 0 0 0 0  0 0 0 0 0  0 12 0 0 -6.600" result="m1"/><feFlood flood-color="#5a8ec0" result="f1"/><feComposite in="f1" in2="m1" operator="in" result="c1"/><feComposite in="c1" in2="o0" operator="over" result="o1"/><feTurbulence type="fractalNoise" baseFrequency="0.2" numOctaves="2" seed="12" result="n2_302"/><feColorMatrix in="n2_302" type="matrix" values="0 0 0 0 0  0 0 0 0 0  0 0 0 0 0  0 0 12 0 -7.200" result="m2"/><feFlood flood-color="#94aad0" result="f2"/><feComposite in="f2" in2="m2" operator="in" result="c2"/><feComposite in="c2" in2="o1" operator="over" result="o2"/><feTurbulence type="fractalNoise" baseFrequency="0.25" numOctaves="1" seed="17" result="n1_8025"/><feColorMatrix in="n1_8025" type="matrix" values="0 0 0 0 0  0 0 0 0 0  0 0 0 0 0  0 0 12 0 -7.440" result="m3"/><feFlood flood-color="#e0d8d2" result="f3"/><feComposite in="f3" in2="m3" operator="in" result="c3"/><feComposite in="c3" in2="o2" operator="over" result="o3"/><feTurbulence type="fractalNoise" baseFrequency="0.3" numOctaves="1" seed="15" result="n1_603"/><feColorMatrix in="n1_603" type="matrix" values="0 0 0 0 0  0 0 0 0 0  0 0 0 0 0  0 12 0 0 -7.440" result="m4"/><feFlood flood-color="#7e78a6" result="f4"/><feComposite in="f4" in2="m4" operator="in" result="c4"/><feComposite in="c4" in2="o3" operator="over" result="o4"/><feGaussianBlur in="o4" stdDeviation="0.6"/></filter>
<filter id="sb" x="-5%" y="-5%" width="110%" height="110%"><feGaussianBlur stdDeviation="0.45"/></filter>
</defs>
<rect x="234.8" y="207.8" width="88.4" height="68.9" filter="url(#tt0)"/>
<rect x="329.2" y="207.8" width="88.1" height="68.9" filter="url(#tt1)"/>
<rect x="424.2" y="207.8" width="88.0" height="68.9" filter="url(#tt2)"/>
<defs><clipPath id="cov"><ellipse cx="278.6" cy="239" rx="16.6" ry="12.4" transform="rotate(-38 278.6 239)"/></clipPath><radialGradient id="halo"><stop offset="0" stop-color="#98a8d4" stop-opacity="0.7"/><stop offset="1" stop-color="#98a8d4" stop-opacity="0"/></radialGradient></defs>
<ellipse cx="276" cy="242" rx="34" ry="26" fill="url(#halo)"/>
<rect x="262" y="222" width="34" height="33" filter="url(#tgc)" clip-path="url(#cov)"/>
<ellipse cx="278.6" cy="239" rx="16.6" ry="12.4" fill="none" stroke="#f6f6ff" stroke-width="1" stroke-dasharray="2.2,1.3" transform="rotate(-38 278.6 239)"/>
<ellipse cx="240.2" cy="253.8" rx="1.6" ry="2.4" fill="#eceaf4" transform="rotate(-30 240.2 253.8)"/>
<ellipse cx="246" cy="258.3" rx="1.2" ry="3" fill="#e8e6f2" transform="rotate(-50 246 258.3)"/>
<rect x="234.8" y="278.5" width="88.4" height="63.2" filter="url(#tb0)"/>
<rect x="329.2" y="278.5" width="88.1" height="63.2" filter="url(#tb1)"/>
<rect x="424.2" y="278.5" width="88.0" height="63.2" filter="url(#tb2)"/>
<g clip-path="url(#cb0)"><rect x="262" y="278.5" width="50" height="48" filter="url(#tbg)" clip-path="url(#cgc)"/></g>
<g clip-path="url(#cb0)"><g filter="url(#sb)"><circle cx="274.8" cy="313.9" r="0.9" fill="#76709a"/><circle cx="274.7" cy="332.5" r="0.6" fill="#5c5686"/><circle cx="276.9" cy="317.3" r="0.6" fill="#76709a"/><circle cx="261.6" cy="284.2" r="0.9" fill="#5c5686"/><circle cx="290.9" cy="316.1" r="0.7" fill="#76709a"/><circle cx="292.6" cy="317.4" r="0.6" fill="#6a6290"/><circle cx="308.3" cy="282.5" r="0.5" fill="#6a6290"/><circle cx="287.8" cy="327.7" r="0.6" fill="#5c5686"/><circle cx="309.3" cy="311.3" r="0.8" fill="#76709a"/><circle cx="235.2" cy="283.9" r="0.8" fill="#76709a"/><circle cx="323.0" cy="341.4" r="0.9" fill="#5c5686"/><circle cx="257.3" cy="326.4" r="0.7" fill="#6a6290"/><circle cx="241.0" cy="326.9" r="0.7" fill="#76709a"/><circle cx="269.0" cy="339.0" r="0.9" fill="#6a6290"/><circle cx="253.7" cy="337.1" r="0.5" fill="#76709a"/><circle cx="321.5" cy="303.6" r="0.5" fill="#5c5686"/><circle cx="252.3" cy="321.2" r="0.7" fill="#76709a"/><circle cx="264.2" cy="339.4" r="0.8" fill="#6a6290"/><circle cx="246.7" cy="323.2" r="0.5" fill="#76709a"/><circle cx="305.3" cy="289.7" r="0.8" fill="#76709a"/><circle cx="279.8" cy="340.8" r="0.8" fill="#76709a"/><circle cx="291.7" cy="285.9" r="0.7" fill="#6a6290"/><circle cx="234.8" cy="333.1" r="0.9" fill="#5c5686"/><circle cx="261.7" cy="334.4" r="0.6" fill="#76709a"/><circle cx="322.8" cy="316.5" r="0.8" fill="#6a6290"/><circle cx="322.3" cy="292.0" r="0.6" fill="#5c5686"/><circle cx="263.9" cy="297.2" r="0.5" fill="#6a6290"/><circle cx="253.3" cy="318.7" r="0.5" fill="#76709a"/><circle cx="267.7" cy="307.1" r="0.9" fill="#76709a"/><circle cx="308.4" cy="287.1" r="0.7" fill="#5c5686"/><circle cx="248.4" cy="335.9" r="0.9" fill="#6a6290"/><circle cx="298.9" cy="288.5" r="0.8" fill="#5c5686"/><circle cx="252.2" cy="338.5" r="0.9" fill="#5c5686"/><circle cx="241.7" cy="281.5" r="0.5" fill="#5c5686"/><circle cx="319.9" cy="293.6" r="0.8" fill="#76709a"/><circle cx="272.0" cy="335.7" r="0.7" fill="#5c5686"/><circle cx="250.3" cy="324.0" r="0.5" fill="#6a6290"/><circle cx="277.2" cy="319.8" r="0.8" fill="#6a6290"/><circle cx="259.6" cy="336.5" r="0.6" fill="#6a6290"/><circle cx="240.9" cy="304.5" r="0.6" fill="#6a6290"/><circle cx="250.4" cy="301.8" r="0.8" fill="#6a6290"/><circle cx="242.9" cy="287.2" r="0.7" fill="#76709a"/><circle cx="292.9" cy="322.2" r="0.8" fill="#6a6290"/><circle cx="286.9" cy="336.9" r="0.7" fill="#76709a"/><circle cx="296.8" cy="339.3" r="0.5" fill="#5c5686"/><circle cx="241.4" cy="282.8" r="0.6" fill="#6a6290"/><circle cx="323.1" cy="283.3" r="0.7" fill="#5c5686"/><circle cx="238.7" cy="337.7" r="0.8" fill="#6a6290"/><circle cx="304.9" cy="336.3" r="0.7" fill="#5c5686"/><circle cx="276.6" cy="283.4" r="0.9" fill="#6a6290"/><circle cx="311.1" cy="314.7" r="0.8" fill="#76709a"/><circle cx="268.3" cy="279.3" r="0.5" fill="#6a6290"/><circle cx="291.3" cy="341.3" r="0.9" fill="#5c5686"/><circle cx="264.0" cy="337.5" r="0.8" fill="#76709a"/><circle cx="273.7" cy="331.5" r="0.5" fill="#5c5686"/><circle cx="237.4" cy="316.5" r="0.7" fill="#6a6290"/><circle cx="319.4" cy="285.6" r="0.9" fill="#5c5686"/><circle cx="316.2" cy="294.7" r="0.5" fill="#76709a"/><circle cx="247.5" cy="317.2" r="0.7" fill="#76709a"/><circle cx="293.1" cy="306.4" r="0.9" fill="#76709a"/><circle cx="270.6" cy="294.3" r="0.8" fill="#6a6290"/><circle cx="312.6" cy="302.8" r="0.8" fill="#76709a"/><circle cx="253.4" cy="287.0" r="0.7" fill="#6a6290"/><circle cx="297.7" cy="338.5" r="0.6" fill="#6a6290"/><circle cx="244.8" cy="308.3" r="0.9" fill="#76709a"/><circle cx="268.6" cy="311.4" r="0.8" fill="#5c5686"/><circle cx="309.0" cy="340.6" r="0.7" fill="#6a6290"/><circle cx="308.1" cy="296.1" r="0.8" fill="#5c5686"/><circle cx="297.4" cy="314.6" r="0.6" fill="#5c5686"/><circle cx="236.5" cy="287.1" r="0.7" fill="#6a6290"/><circle cx="302.8" cy="295.3" r="0.9" fill="#6a6290"/><circle cx="321.8" cy="285.8" r="0.5" fill="#5c5686"/><circle cx="292.7" cy="329.5" r="0.9" fill="#5c5686"/><circle cx="252.3" cy="330.6" r="0.6" fill="#5c5686"/><circle cx="235.8" cy="308.3" r="0.8" fill="#6a6290"/><circle cx="254.8" cy="327.7" r="0.7" fill="#5c5686"/><circle cx="279.0" cy="341.5" r="0.6" fill="#5c5686"/><circle cx="314.9" cy="284.0" r="0.9" fill="#5c5686"/><circle cx="269.1" cy="307.0" r="0.6" fill="#6a6290"/><circle cx="268.1" cy="314.4" r="0.9" fill="#76709a"/><circle cx="275.8" cy="319.7" r="0.6" fill="#5c5686"/><circle cx="311.4" cy="329.0" r="0.9" fill="#6a6290"/><circle cx="253.7" cy="335.4" r="0.9" fill="#76709a"/><circle cx="282.3" cy="328.5" r="0.6" fill="#5c5686"/><circle cx="310.5" cy="300.5" r="0.5" fill="#76709a"/><circle cx="265.0" cy="305.1" r="0.6" fill="#6a6290"/><circle cx="254.1" cy="333.3" r="0.7" fill="#6a6290"/><circle cx="250.1" cy="299.7" r="0.9" fill="#6a6290"/><circle cx="276.4" cy="341.7" r="0.9" fill="#5c5686"/><circle cx="309.1" cy="322.1" r="0.9" fill="#76709a"/><circle cx="286.0" cy="322.0" r="0.8" fill="#76709a"/><circle cx="281.4" cy="296.8" r="0.8" fill="#5c5686"/><circle cx="249.3" cy="311.0" r="0.9" fill="#76709a"/><circle cx="262.4" cy="302.6" r="0.9" fill="#5c5686"/><circle cx="253.2" cy="332.3" r="0.9" fill="#5c5686"/><circle cx="258.9" cy="310.0" r="0.7" fill="#6a6290"/><circle cx="279.3" cy="316.8" r="0.5" fill="#6a6290"/><circle cx="280.4" cy="303.8" r="0.9" fill="#5c5686"/><circle cx="245.6" cy="284.4" r="0.6" fill="#5c5686"/><circle cx="275.4" cy="336.7" r="0.9" fill="#76709a"/><circle cx="258.6" cy="308.4" r="0.6" fill="#76709a"/><circle cx="314.4" cy="337.6" r="0.9" fill="#5c5686"/><circle cx="262.8" cy="290.6" r="0.8" fill="#76709a"/><circle cx="246.2" cy="327.8" r="0.5" fill="#6a6290"/><circle cx="248.5" cy="279.2" r="0.6" fill="#5c5686"/><circle cx="266.2" cy="317.7" r="0.5" fill="#5c5686"/><circle cx="286.3" cy="332.3" r="0.8" fill="#5c5686"/><circle cx="252.3" cy="312.0" r="0.7" fill="#76709a"/><circle cx="290.8" cy="330.7" r="0.8" fill="#5c5686"/><circle cx="252.9" cy="318.4" r="0.8" fill="#5c5686"/><circle cx="253.9" cy="312.8" r="0.8" fill="#6a6290"/><circle cx="255.4" cy="325.3" r="0.9" fill="#6a6290"/><circle cx="262.7" cy="298.4" r="0.9" fill="#6a6290"/><circle cx="303.6" cy="290.8" r="0.5" fill="#6a6290"/><circle cx="246.5" cy="284.1" r="0.7" fill="#76709a"/><circle cx="308.4" cy="305.1" r="0.9" fill="#6a6290"/><circle cx="252.5" cy="318.2" r="0.9" fill="#6a6290"/><circle cx="252.6" cy="321.6" r="0.9" fill="#76709a"/><circle cx="245.0" cy="310.5" r="0.8" fill="#5c5686"/><circle cx="323.1" cy="331.1" r="0.9" fill="#76709a"/><circle cx="244.2" cy="280.9" r="0.7" fill="#5c5686"/><circle cx="314.8" cy="308.9" r="0.6" fill="#6a6290"/><circle cx="252.8" cy="331.6" r="0.9" fill="#5c5686"/><circle cx="243.2" cy="282.4" r="0.9" fill="#76709a"/><circle cx="241.7" cy="284.6" r="0.7" fill="#76709a"/><circle cx="280.4" cy="305.7" r="0.8" fill="#6a6290"/><circle cx="290.8" cy="281.1" r="0.6" fill="#76709a"/><circle cx="274.9" cy="325.2" r="0.7" fill="#6a6290"/><circle cx="288.3" cy="284.5" r="0.9" fill="#76709a"/><circle cx="313.8" cy="329.2" r="0.8" fill="#5c5686"/><circle cx="317.9" cy="314.5" r="0.6" fill="#5c5686"/><circle cx="321.7" cy="329.4" r="0.6" fill="#6a6290"/><circle cx="300.6" cy="327.7" r="0.9" fill="#76709a"/><circle cx="246.6" cy="299.4" r="0.7" fill="#76709a"/><circle cx="302.6" cy="326.9" r="0.7" fill="#5c5686"/><circle cx="251.1" cy="328.9" r="0.6" fill="#6a6290"/><circle cx="235.7" cy="301.0" r="0.8" fill="#5c5686"/><circle cx="239.2" cy="295.8" r="0.9" fill="#76709a"/><circle cx="264.7" cy="320.2" r="0.8" fill="#5c5686"/><circle cx="241.6" cy="311.0" r="0.7" fill="#6a6290"/><circle cx="296.8" cy="326.6" r="0.9" fill="#6a6290"/><circle cx="244.9" cy="285.3" r="0.6" fill="#76709a"/><circle cx="270.3" cy="281.7" r="0.6" fill="#76709a"/><circle cx="235.8" cy="294.8" r="0.6" fill="#76709a"/><circle cx="283.4" cy="310.6" r="0.9" fill="#5c5686"/><circle cx="309.6" cy="284.8" r="0.7" fill="#5c5686"/><circle cx="241.5" cy="316.3" r="0.8" fill="#6a6290"/><circle cx="269.0" cy="337.8" r="0.7" fill="#6a6290"/><circle cx="310.4" cy="312.8" r="0.8" fill="#76709a"/><circle cx="318.4" cy="305.1" r="0.7" fill="#5c5686"/><circle cx="262.4" cy="312.0" r="0.7" fill="#76709a"/><circle cx="284.4" cy="296.4" r="0.8" fill="#76709a"/><circle cx="237.2" cy="327.3" r="0.8" fill="#5c5686"/><circle cx="248.6" cy="326.2" r="0.7" fill="#76709a"/><circle cx="301.0" cy="281.7" r="0.9" fill="#76709a"/><circle cx="241.3" cy="335.7" r="0.7" fill="#76709a"/><circle cx="257.0" cy="326.2" r="0.5" fill="#6a6290"/><circle cx="317.7" cy="324.2" r="0.7" fill="#6a6290"/><circle cx="288.2" cy="285.8" r="0.8" fill="#76709a"/><circle cx="245.2" cy="332.9" r="0.7" fill="#6a6290"/><circle cx="245.8" cy="306.5" r="0.8" fill="#76709a"/><circle cx="287.9" cy="318.9" r="0.8" fill="#76709a"/><circle cx="303.6" cy="312.0" r="0.9" fill="#76709a"/><circle cx="299.7" cy="293.6" r="0.6" fill="#76709a"/><circle cx="304.1" cy="318.0" r="0.7" fill="#76709a"/><circle cx="288.7" cy="324.3" r="0.8" fill="#6a6290"/><circle cx="290.8" cy="326.1" r="0.6" fill="#6a6290"/><circle cx="279.2" cy="319.8" r="0.6" fill="#5c5686"/><circle cx="238.3" cy="282.3" r="0.6" fill="#76709a"/><circle cx="237.2" cy="280.9" r="0.6" fill="#76709a"/><circle cx="241.2" cy="284.0" r="0.8" fill="#5c5686"/><circle cx="255.6" cy="340.5" r="0.7" fill="#76709a"/><circle cx="253.4" cy="300.2" r="0.8" fill="#6a6290"/><circle cx="305.7" cy="306.8" r="0.9" fill="#6a6290"/><circle cx="274.1" cy="325.7" r="0.7" fill="#6a6290"/><circle cx="267.4" cy="319.8" r="0.9" fill="#76709a"/><circle cx="260.5" cy="326.5" r="0.9" fill="#6a6290"/><circle cx="272.6" cy="301.8" r="0.5" fill="#76709a"/><circle cx="241.7" cy="283.7" r="0.8" fill="#76709a"/><circle cx="306.9" cy="307.8" r="0.9" fill="#6a6290"/><circle cx="241.5" cy="292.0" r="0.8" fill="#6a6290"/><circle cx="296.2" cy="309.8" r="0.8" fill="#76709a"/><circle cx="259.8" cy="287.5" r="0.7" fill="#5c5686"/><circle cx="263.7" cy="335.8" r="0.6" fill="#76709a"/><circle cx="285.1" cy="336.6" r="0.9" fill="#76709a"/><circle cx="273.5" cy="329.3" r="0.6" fill="#76709a"/><circle cx="254.4" cy="339.7" r="0.8" fill="#5c5686"/><circle cx="256.8" cy="301.4" r="0.7" fill="#76709a"/><circle cx="294.6" cy="315.5" r="0.9" fill="#5c5686"/><circle cx="284.6" cy="328.9" r="0.7" fill="#5c5686"/><circle cx="284.5" cy="289.7" r="0.8" fill="#76709a"/><circle cx="306.6" cy="292.5" r="0.5" fill="#6a6290"/><circle cx="285.0" cy="339.6" r="0.8" fill="#76709a"/><circle cx="240.5" cy="313.1" r="0.9" fill="#6a6290"/><circle cx="264.4" cy="295.8" r="0.5" fill="#76709a"/><circle cx="242.3" cy="318.6" r="0.6" fill="#5c5686"/><circle cx="307.0" cy="305.2" r="0.8" fill="#76709a"/><circle cx="302.5" cy="311.5" r="0.8" fill="#76709a"/><circle cx="265.8" cy="329.5" r="0.6" fill="#6a6290"/><circle cx="278.4" cy="312.5" r="0.8" fill="#5c5686"/><circle cx="289.4" cy="281.4" r="0.8" fill="#5c5686"/><circle cx="265.7" cy="278.7" r="0.7" fill="#6a6290"/><circle cx="313.4" cy="339.0" r="0.8" fill="#5c5686"/><circle cx="266.8" cy="279.1" r="0.5" fill="#76709a"/><circle cx="315.7" cy="294.0" r="0.6" fill="#5c5686"/><circle cx="268.0" cy="289.1" r="0.6" fill="#76709a"/><circle cx="281.6" cy="295.8" r="0.9" fill="#76709a"/><circle cx="262.1" cy="285.8" r="0.8" fill="#6a6290"/><circle cx="315.4" cy="326.1" r="0.5" fill="#76709a"/><circle cx="315.2" cy="280.8" r="0.5" fill="#6a6290"/><circle cx="266.6" cy="315.7" r="0.8" fill="#76709a"/><circle cx="287.4" cy="292.7" r="0.6" fill="#76709a"/><circle cx="270.4" cy="336.1" r="0.9" fill="#5c5686"/><circle cx="283.3" cy="330.1" r="0.7" fill="#76709a"/><circle cx="277.7" cy="303.9" r="0.9" fill="#5c5686"/><circle cx="283.2" cy="339.0" r="0.7" fill="#6a6290"/><circle cx="270.1" cy="292.2" r="0.6" fill="#76709a"/><circle cx="321.1" cy="328.7" r="0.8" fill="#6a6290"/><circle cx="292.9" cy="293.5" r="0.5" fill="#76709a"/><circle cx="314.8" cy="306.9" r="0.6" fill="#76709a"/><circle cx="288.4" cy="288.4" r="0.6" fill="#76709a"/><circle cx="247.6" cy="335.9" r="0.9" fill="#6a6290"/><circle cx="291.1" cy="341.3" r="0.6" fill="#5c5686"/><circle cx="239.5" cy="314.6" r="0.6" fill="#6a6290"/><circle cx="307.4" cy="332.0" r="0.9" fill="#6a6290"/><circle cx="265.9" cy="317.4" r="0.7" fill="#76709a"/><circle cx="296.1" cy="283.7" r="0.8" fill="#5c5686"/><circle cx="310.6" cy="297.7" r="0.9" fill="#76709a"/><circle cx="251.9" cy="321.6" r="0.9" fill="#76709a"/><circle cx="253.2" cy="312.8" r="0.7" fill="#6a6290"/><circle cx="318.5" cy="339.4" r="0.6" fill="#76709a"/><circle cx="241.5" cy="297.8" r="0.7" fill="#5c5686"/><circle cx="240.7" cy="283.2" r="0.6" fill="#5c5686"/><circle cx="269.7" cy="307.7" r="0.9" fill="#6a6290"/><circle cx="292.6" cy="279.3" r="0.7" fill="#5c5686"/><circle cx="276.8" cy="297.0" r="0.6" fill="#6a6290"/><circle cx="310.5" cy="331.9" r="0.8" fill="#5c5686"/><circle cx="248.2" cy="318.2" r="0.9" fill="#5c5686"/><circle cx="261.2" cy="299.8" r="0.7" fill="#5c5686"/><circle cx="242.5" cy="290.4" r="0.7" fill="#6a6290"/><circle cx="263.9" cy="338.2" r="0.8" fill="#5c5686"/><circle cx="291.4" cy="306.7" r="0.7" fill="#6a6290"/><circle cx="247.2" cy="284.5" r="0.8" fill="#5c5686"/><circle cx="250.6" cy="290.7" r="0.5" fill="#76709a"/><circle cx="287.2" cy="284.2" r="0.6" fill="#6a6290"/><circle cx="322.1" cy="305.9" r="0.8" fill="#76709a"/><circle cx="316.2" cy="305.5" r="0.7" fill="#5c5686"/><circle cx="253.0" cy="287.9" r="0.8" fill="#76709a"/><circle cx="264.1" cy="304.5" r="0.5" fill="#76709a"/><circle cx="289.0" cy="298.6" r="0.9" fill="#6a6290"/><circle cx="293.2" cy="317.0" r="0.5" fill="#76709a"/><circle cx="251.5" cy="297.9" r="0.7" fill="#5c5686"/><circle cx="268.2" cy="310.7" r="0.9" fill="#6a6290"/><circle cx="288.9" cy="288.5" r="0.8" fill="#76709a"/><circle cx="283.3" cy="300.8" r="0.7" fill="#6a6290"/><circle cx="285.6" cy="291.0" r="0.9" fill="#5c5686"/><circle cx="297.3" cy="337.6" r="0.8" fill="#6a6290"/><circle cx="290.2" cy="291.0" r="0.5" fill="#6a6290"/><circle cx="277.0" cy="304.9" r="0.7" fill="#6a6290"/><circle cx="316.9" cy="301.3" r="0.7" fill="#6a6290"/></g></g>
<g clip-path="url(#cb1)"><g filter="url(#sb)"><circle cx="369.0" cy="324.6" r="0.9" fill="#6e5a8a"/><circle cx="377.1" cy="313.9" r="1.1" fill="#7a6494"/><circle cx="344.0" cy="325.6" r="1.3" fill="#7a6494"/><circle cx="382.2" cy="286.3" r="1.2" fill="#7a6494"/><circle cx="389.6" cy="301.5" r="1.2" fill="#7a6494"/><circle cx="402.4" cy="290.2" r="1.1" fill="#5a4878"/><circle cx="369.2" cy="304.0" r="1.2" fill="#6a5488"/><circle cx="356.3" cy="320.9" r="1.2" fill="#4e4070"/><circle cx="383.4" cy="319.0" r="1.2" fill="#6a5488"/><circle cx="346.8" cy="308.1" r="0.8" fill="#4e4070"/><circle cx="339.6" cy="304.1" r="0.9" fill="#6a5488"/><circle cx="352.4" cy="314.4" r="0.9" fill="#5a4878"/><circle cx="392.8" cy="328.3" r="1.0" fill="#4e4070"/><circle cx="382.1" cy="308.2" r="1.0" fill="#6e5a8a"/><circle cx="409.6" cy="314.2" r="1.0" fill="#7a6494"/><circle cx="372.0" cy="341.4" r="1.2" fill="#4e4070"/><circle cx="401.9" cy="285.9" r="0.8" fill="#6e5a8a"/><circle cx="358.3" cy="311.4" r="1.0" fill="#5a4878"/><circle cx="357.5" cy="282.0" r="1.2" fill="#4e4070"/><circle cx="393.7" cy="316.3" r="1.2" fill="#7a6494"/><circle cx="407.0" cy="333.9" r="0.9" fill="#4e4070"/><circle cx="350.6" cy="333.7" r="1.3" fill="#4e4070"/><circle cx="390.4" cy="311.8" r="0.9" fill="#7a6494"/><circle cx="387.1" cy="337.9" r="1.3" fill="#7a6494"/><circle cx="405.5" cy="305.1" r="1.2" fill="#6a5488"/><circle cx="386.4" cy="305.1" r="0.8" fill="#5a4878"/><circle cx="337.9" cy="328.6" r="0.8" fill="#6e5a8a"/><circle cx="379.9" cy="307.1" r="0.9" fill="#7a6494"/><circle cx="331.3" cy="289.4" r="1.0" fill="#4e4070"/><circle cx="401.0" cy="303.6" r="0.9" fill="#6e5a8a"/><circle cx="349.5" cy="297.9" r="1.0" fill="#7a6494"/><circle cx="356.3" cy="310.0" r="1.3" fill="#4e4070"/><circle cx="406.6" cy="291.3" r="1.3" fill="#5a4878"/><circle cx="346.4" cy="331.5" r="0.9" fill="#4e4070"/><circle cx="330.6" cy="318.7" r="1.2" fill="#6e5a8a"/><circle cx="347.0" cy="318.5" r="0.8" fill="#5a4878"/><circle cx="386.5" cy="297.8" r="1.2" fill="#7a6494"/><circle cx="405.8" cy="323.6" r="0.8" fill="#4e4070"/><circle cx="365.8" cy="289.2" r="1.3" fill="#5a4878"/><circle cx="391.8" cy="290.9" r="0.8" fill="#6a5488"/><circle cx="373.4" cy="297.2" r="0.9" fill="#6e5a8a"/><circle cx="407.1" cy="315.8" r="0.8" fill="#7a6494"/><circle cx="408.1" cy="289.9" r="0.8" fill="#6a5488"/><circle cx="385.6" cy="284.2" r="1.3" fill="#4e4070"/><circle cx="410.0" cy="283.2" r="1.3" fill="#5a4878"/><circle cx="382.0" cy="296.5" r="0.9" fill="#6e5a8a"/><circle cx="336.9" cy="296.5" r="1.2" fill="#6a5488"/><circle cx="345.0" cy="324.9" r="0.7" fill="#6a5488"/><circle cx="416.2" cy="280.6" r="1.0" fill="#6e5a8a"/><circle cx="363.1" cy="337.2" r="1.0" fill="#6a5488"/><circle cx="334.8" cy="327.6" r="1.3" fill="#7a6494"/><circle cx="387.2" cy="328.0" r="1.0" fill="#6e5a8a"/><circle cx="402.1" cy="318.6" r="1.3" fill="#6e5a8a"/><circle cx="344.5" cy="327.8" r="0.8" fill="#6e5a8a"/><circle cx="367.6" cy="320.7" r="1.1" fill="#7a6494"/><circle cx="398.5" cy="328.5" r="0.9" fill="#4e4070"/><circle cx="377.1" cy="332.4" r="1.1" fill="#7a6494"/><circle cx="332.3" cy="316.2" r="1.2" fill="#6e5a8a"/><circle cx="368.7" cy="334.2" r="0.9" fill="#6e5a8a"/><circle cx="330.8" cy="309.9" r="1.0" fill="#4e4070"/><circle cx="392.9" cy="332.6" r="0.7" fill="#5a4878"/><circle cx="409.1" cy="314.5" r="1.1" fill="#6a5488"/><circle cx="384.1" cy="281.9" r="1.0" fill="#7a6494"/><circle cx="401.4" cy="325.2" r="1.2" fill="#6e5a8a"/><circle cx="373.1" cy="319.6" r="1.0" fill="#4e4070"/><circle cx="351.7" cy="288.6" r="1.1" fill="#6e5a8a"/><circle cx="398.5" cy="282.4" r="1.0" fill="#7a6494"/><circle cx="390.8" cy="323.0" r="1.3" fill="#6a5488"/><circle cx="372.3" cy="326.6" r="1.3" fill="#6a5488"/><circle cx="394.8" cy="311.5" r="1.3" fill="#5a4878"/><circle cx="350.4" cy="334.8" r="0.8" fill="#4e4070"/><circle cx="378.2" cy="308.3" r="1.3" fill="#5a4878"/><circle cx="389.1" cy="323.8" r="1.3" fill="#6e5a8a"/><circle cx="349.5" cy="294.5" r="1.1" fill="#6a5488"/><circle cx="366.1" cy="283.9" r="0.8" fill="#7a6494"/><circle cx="358.9" cy="340.5" r="1.1" fill="#5a4878"/><circle cx="343.3" cy="315.5" r="1.3" fill="#7a6494"/><circle cx="379.2" cy="336.1" r="1.3" fill="#6a5488"/><circle cx="370.0" cy="303.3" r="1.2" fill="#4e4070"/><circle cx="362.6" cy="281.6" r="1.0" fill="#6a5488"/><circle cx="345.4" cy="313.2" r="0.8" fill="#6a5488"/><circle cx="364.5" cy="316.0" r="1.2" fill="#4e4070"/><circle cx="368.6" cy="341.3" r="1.1" fill="#4e4070"/><circle cx="347.2" cy="302.7" r="0.7" fill="#7a6494"/><circle cx="361.2" cy="295.8" r="0.7" fill="#6a5488"/><circle cx="394.5" cy="310.9" r="1.1" fill="#6a5488"/><circle cx="352.9" cy="301.3" r="0.8" fill="#7a6494"/><circle cx="341.3" cy="293.7" r="1.2" fill="#5a4878"/><circle cx="331.0" cy="298.9" r="0.9" fill="#5a4878"/><circle cx="404.5" cy="302.6" r="0.9" fill="#6e5a8a"/><circle cx="388.2" cy="297.6" r="1.1" fill="#4e4070"/><circle cx="332.8" cy="288.0" r="1.1" fill="#5a4878"/><circle cx="347.6" cy="304.5" r="1.0" fill="#6a5488"/><circle cx="374.7" cy="313.1" r="0.9" fill="#4e4070"/><circle cx="387.9" cy="287.8" r="0.8" fill="#7a6494"/><circle cx="376.3" cy="306.9" r="0.8" fill="#6e5a8a"/><circle cx="405.5" cy="292.8" r="0.9" fill="#7a6494"/><circle cx="383.1" cy="287.4" r="1.3" fill="#4e4070"/><circle cx="379.1" cy="329.6" r="1.3" fill="#7a6494"/><circle cx="387.4" cy="282.7" r="1.3" fill="#6e5a8a"/><circle cx="389.9" cy="320.6" r="1.3" fill="#7a6494"/><circle cx="349.9" cy="318.5" r="0.8" fill="#4e4070"/><circle cx="339.8" cy="309.7" r="1.0" fill="#7a6494"/><circle cx="354.3" cy="323.0" r="0.8" fill="#4e4070"/><circle cx="347.0" cy="327.1" r="0.9" fill="#6a5488"/><circle cx="375.1" cy="325.4" r="1.3" fill="#6a5488"/><circle cx="371.3" cy="294.7" r="1.3" fill="#7a6494"/><circle cx="390.9" cy="280.0" r="1.0" fill="#7a6494"/><circle cx="409.3" cy="336.2" r="0.9" fill="#4e4070"/><circle cx="372.9" cy="315.5" r="1.0" fill="#7a6494"/><circle cx="407.3" cy="283.1" r="0.7" fill="#7a6494"/><circle cx="407.8" cy="314.3" r="0.9" fill="#6a5488"/><circle cx="385.8" cy="302.8" r="0.9" fill="#7a6494"/><circle cx="331.9" cy="323.2" r="0.8" fill="#5a4878"/><circle cx="384.5" cy="317.7" r="1.0" fill="#4e4070"/><circle cx="334.8" cy="282.8" r="1.0" fill="#4e4070"/><circle cx="362.8" cy="336.0" r="0.7" fill="#6a5488"/><circle cx="389.4" cy="295.7" r="1.0" fill="#4e4070"/><circle cx="415.3" cy="288.0" r="0.8" fill="#6a5488"/><circle cx="351.9" cy="292.4" r="1.0" fill="#6e5a8a"/><circle cx="415.5" cy="278.7" r="1.1" fill="#6e5a8a"/><circle cx="336.2" cy="330.5" r="1.3" fill="#7a6494"/><circle cx="352.5" cy="285.1" r="0.7" fill="#6a5488"/><circle cx="390.5" cy="321.9" r="1.3" fill="#6a5488"/><circle cx="343.2" cy="317.8" r="1.0" fill="#6e5a8a"/><circle cx="355.1" cy="304.7" r="0.9" fill="#6e5a8a"/><circle cx="373.1" cy="319.3" r="0.9" fill="#6a5488"/><circle cx="410.0" cy="325.1" r="1.3" fill="#5a4878"/><circle cx="401.3" cy="334.5" r="0.9" fill="#4e4070"/><circle cx="374.3" cy="321.4" r="0.7" fill="#6e5a8a"/><circle cx="405.5" cy="333.5" r="0.7" fill="#7a6494"/><circle cx="364.2" cy="325.2" r="1.2" fill="#7a6494"/><circle cx="392.3" cy="294.4" r="1.2" fill="#7a6494"/><circle cx="345.4" cy="332.6" r="0.8" fill="#6e5a8a"/><circle cx="402.2" cy="314.4" r="1.0" fill="#6a5488"/><circle cx="384.1" cy="331.0" r="1.2" fill="#6a5488"/><circle cx="346.9" cy="317.8" r="0.9" fill="#6a5488"/><circle cx="415.0" cy="308.3" r="1.2" fill="#6a5488"/><circle cx="352.8" cy="295.6" r="0.9" fill="#4e4070"/><circle cx="363.3" cy="321.4" r="0.8" fill="#6a5488"/><circle cx="392.0" cy="286.0" r="0.7" fill="#7a6494"/><circle cx="360.6" cy="312.5" r="1.2" fill="#4e4070"/><circle cx="358.3" cy="280.2" r="1.1" fill="#4e4070"/><circle cx="344.3" cy="282.8" r="1.0" fill="#7a6494"/><circle cx="348.9" cy="324.1" r="1.0" fill="#6a5488"/><circle cx="415.6" cy="303.1" r="1.2" fill="#6e5a8a"/><circle cx="354.1" cy="333.3" r="1.0" fill="#5a4878"/><circle cx="378.2" cy="335.2" r="1.3" fill="#4e4070"/><circle cx="339.8" cy="299.0" r="0.7" fill="#6e5a8a"/><circle cx="379.3" cy="295.8" r="1.0" fill="#7a6494"/><circle cx="349.2" cy="309.0" r="0.9" fill="#7a6494"/><circle cx="378.4" cy="288.1" r="0.7" fill="#7a6494"/><circle cx="388.2" cy="278.8" r="0.9" fill="#6a5488"/><circle cx="417.0" cy="291.3" r="1.3" fill="#4e4070"/><circle cx="332.0" cy="300.7" r="1.1" fill="#6e5a8a"/><circle cx="334.3" cy="313.3" r="1.1" fill="#6e5a8a"/><circle cx="351.4" cy="290.4" r="0.9" fill="#6a5488"/><circle cx="416.8" cy="306.5" r="1.2" fill="#5a4878"/><circle cx="344.7" cy="280.2" r="0.8" fill="#5a4878"/><circle cx="388.7" cy="295.6" r="0.7" fill="#6e5a8a"/><circle cx="356.5" cy="311.0" r="0.7" fill="#6a5488"/><circle cx="334.8" cy="301.5" r="1.2" fill="#7a6494"/><circle cx="400.6" cy="328.6" r="1.2" fill="#4e4070"/><circle cx="356.3" cy="312.1" r="1.1" fill="#5a4878"/><circle cx="411.7" cy="309.0" r="1.2" fill="#4e4070"/><circle cx="351.3" cy="336.0" r="0.7" fill="#6e5a8a"/><circle cx="341.6" cy="299.0" r="1.2" fill="#6e5a8a"/><circle cx="387.1" cy="329.7" r="0.9" fill="#4e4070"/><circle cx="360.4" cy="296.1" r="1.3" fill="#7a6494"/><circle cx="381.5" cy="295.2" r="0.8" fill="#6a5488"/><circle cx="347.8" cy="325.5" r="1.1" fill="#6a5488"/><circle cx="344.8" cy="285.2" r="0.8" fill="#7a6494"/><circle cx="345.3" cy="279.9" r="1.0" fill="#5a4878"/><circle cx="364.7" cy="298.8" r="1.0" fill="#6a5488"/><circle cx="331.0" cy="289.5" r="0.7" fill="#6e5a8a"/><circle cx="338.7" cy="340.9" r="1.0" fill="#6a5488"/><circle cx="373.2" cy="327.8" r="1.3" fill="#7a6494"/><circle cx="335.4" cy="303.2" r="1.3" fill="#6a5488"/><circle cx="397.7" cy="311.7" r="0.7" fill="#4e4070"/><circle cx="409.5" cy="282.0" r="1.1" fill="#7a6494"/><circle cx="407.4" cy="332.6" r="1.1" fill="#6e5a8a"/><circle cx="414.6" cy="336.9" r="0.8" fill="#4e4070"/><circle cx="367.6" cy="308.0" r="1.2" fill="#6e5a8a"/><circle cx="349.5" cy="316.5" r="1.1" fill="#6e5a8a"/><circle cx="410.2" cy="311.9" r="1.0" fill="#7a6494"/><circle cx="381.5" cy="316.1" r="1.3" fill="#6a5488"/><circle cx="376.5" cy="299.2" r="0.9" fill="#6e5a8a"/><circle cx="356.8" cy="325.1" r="1.3" fill="#4e4070"/><circle cx="333.8" cy="339.7" r="1.2" fill="#4e4070"/><circle cx="339.0" cy="290.3" r="1.3" fill="#6a5488"/><circle cx="402.3" cy="328.9" r="1.0" fill="#7a6494"/><circle cx="334.9" cy="333.5" r="1.2" fill="#7a6494"/><circle cx="374.8" cy="300.5" r="0.8" fill="#5a4878"/><circle cx="405.5" cy="290.9" r="0.9" fill="#6a5488"/><circle cx="335.7" cy="313.6" r="1.2" fill="#4e4070"/><circle cx="406.4" cy="283.1" r="1.0" fill="#5a4878"/><circle cx="397.1" cy="313.2" r="1.3" fill="#6a5488"/><circle cx="400.7" cy="289.8" r="0.9" fill="#7a6494"/><circle cx="413.4" cy="292.4" r="0.9" fill="#4e4070"/><circle cx="345.2" cy="303.1" r="1.3" fill="#6e5a8a"/><circle cx="370.2" cy="309.4" r="0.8" fill="#6a5488"/><circle cx="376.1" cy="298.5" r="1.3" fill="#6a5488"/><circle cx="378.5" cy="341.3" r="0.9" fill="#7a6494"/><circle cx="390.9" cy="331.9" r="1.3" fill="#6e5a8a"/><circle cx="347.6" cy="291.7" r="1.2" fill="#6a5488"/><circle cx="390.3" cy="308.0" r="0.8" fill="#5a4878"/><circle cx="352.0" cy="300.2" r="1.1" fill="#7a6494"/><circle cx="346.5" cy="341.4" r="1.1" fill="#7a6494"/><circle cx="405.9" cy="327.2" r="0.8" fill="#5a4878"/><circle cx="384.8" cy="305.3" r="1.2" fill="#4e4070"/><circle cx="353.8" cy="287.0" r="0.8" fill="#5a4878"/><circle cx="359.7" cy="323.0" r="0.9" fill="#6e5a8a"/><circle cx="339.6" cy="286.3" r="1.3" fill="#5a4878"/><circle cx="388.8" cy="307.3" r="1.3" fill="#4e4070"/><circle cx="346.7" cy="304.7" r="0.8" fill="#5a4878"/><circle cx="361.5" cy="299.6" r="1.1" fill="#7a6494"/><circle cx="355.0" cy="322.4" r="1.1" fill="#6a5488"/><circle cx="330.5" cy="302.2" r="1.1" fill="#7a6494"/><circle cx="363.4" cy="296.1" r="0.8" fill="#6e5a8a"/><circle cx="338.4" cy="320.1" r="1.0" fill="#6a5488"/><circle cx="337.0" cy="301.5" r="0.9" fill="#6e5a8a"/><circle cx="388.2" cy="300.2" r="1.3" fill="#5a4878"/><circle cx="388.0" cy="288.3" r="0.7" fill="#6a5488"/><circle cx="370.2" cy="298.5" r="1.1" fill="#6e5a8a"/><circle cx="334.6" cy="292.5" r="0.7" fill="#4e4070"/><circle cx="367.4" cy="293.0" r="1.1" fill="#5a4878"/><circle cx="417.1" cy="282.7" r="1.0" fill="#4e4070"/><circle cx="398.8" cy="337.4" r="1.0" fill="#6e5a8a"/><circle cx="347.7" cy="301.9" r="0.8" fill="#4e4070"/><circle cx="337.7" cy="328.7" r="0.7" fill="#6e5a8a"/><circle cx="398.5" cy="335.8" r="1.1" fill="#4e4070"/><circle cx="397.6" cy="286.1" r="1.0" fill="#5a4878"/><circle cx="361.9" cy="301.6" r="1.2" fill="#5a4878"/><circle cx="338.8" cy="304.6" r="1.1" fill="#5a4878"/><circle cx="397.6" cy="284.5" r="1.3" fill="#6e5a8a"/><circle cx="340.2" cy="314.4" r="0.8" fill="#5a4878"/><circle cx="374.1" cy="298.0" r="0.9" fill="#6a5488"/><circle cx="350.9" cy="304.7" r="0.7" fill="#6a5488"/><circle cx="381.1" cy="289.3" r="0.8" fill="#6a5488"/><circle cx="404.2" cy="285.1" r="1.3" fill="#6a5488"/><circle cx="341.9" cy="314.2" r="0.8" fill="#6e5a8a"/><circle cx="383.1" cy="333.1" r="1.3" fill="#4e4070"/><circle cx="401.6" cy="293.0" r="1.2" fill="#5a4878"/><circle cx="393.9" cy="323.5" r="0.8" fill="#6e5a8a"/><circle cx="383.7" cy="304.1" r="1.0" fill="#6e5a8a"/><circle cx="385.9" cy="332.1" r="0.7" fill="#4e4070"/><circle cx="355.6" cy="292.1" r="1.0" fill="#4e4070"/><circle cx="358.2" cy="309.4" r="1.1" fill="#6e5a8a"/><circle cx="412.6" cy="314.4" r="1.0" fill="#5a4878"/><circle cx="364.0" cy="297.4" r="1.2" fill="#7a6494"/><circle cx="348.6" cy="283.8" r="1.2" fill="#4e4070"/><circle cx="360.8" cy="305.7" r="1.0" fill="#5a4878"/><circle cx="356.6" cy="312.1" r="0.8" fill="#4e4070"/><circle cx="377.4" cy="303.8" r="0.8" fill="#5a4878"/><circle cx="392.0" cy="280.5" r="0.9" fill="#6a5488"/><circle cx="375.0" cy="311.8" r="1.2" fill="#7a6494"/><circle cx="365.0" cy="339.6" r="0.7" fill="#6e5a8a"/><circle cx="360.7" cy="294.1" r="1.3" fill="#7a6494"/><circle cx="403.2" cy="291.8" r="1.2" fill="#5a4878"/><circle cx="357.0" cy="310.0" r="1.0" fill="#7a6494"/><circle cx="333.9" cy="284.4" r="0.9" fill="#7a6494"/><circle cx="400.4" cy="338.1" r="1.1" fill="#7a6494"/><circle cx="364.6" cy="296.6" r="1.1" fill="#5a4878"/><circle cx="364.1" cy="292.7" r="0.9" fill="#5a4878"/><circle cx="357.2" cy="330.3" r="1.2" fill="#7a6494"/><circle cx="334.2" cy="326.8" r="0.7" fill="#6e5a8a"/><circle cx="336.6" cy="287.3" r="0.9" fill="#5a4878"/><circle cx="383.6" cy="321.7" r="0.8" fill="#6e5a8a"/><circle cx="329.7" cy="325.1" r="1.0" fill="#5a4878"/><circle cx="344.4" cy="283.8" r="1.1" fill="#6a5488"/></g></g>
<g clip-path="url(#cb2)"><g filter="url(#sb)"><circle cx="457.4" cy="306.8" r="1.0" fill="#4a4680"/><circle cx="463.4" cy="335.2" r="1.2" fill="#4a4680"/><circle cx="508.4" cy="301.0" r="1.3" fill="#4a4680"/><circle cx="486.1" cy="303.6" r="1.2" fill="#54508a"/><circle cx="434.2" cy="333.4" r="0.8" fill="#5a5690"/><circle cx="471.4" cy="331.5" r="0.8" fill="#5a5690"/><circle cx="465.8" cy="280.5" r="1.0" fill="#6a6aa0"/><circle cx="441.8" cy="322.9" r="1.0" fill="#6a6aa0"/><circle cx="484.9" cy="303.0" r="1.2" fill="#4a4680"/><circle cx="472.6" cy="332.5" r="1.2" fill="#5a5690"/><circle cx="442.0" cy="300.4" r="0.8" fill="#5a5690"/><circle cx="457.4" cy="329.2" r="1.2" fill="#6a6aa0"/><circle cx="474.7" cy="331.7" r="1.0" fill="#54508a"/><circle cx="437.2" cy="323.0" r="1.0" fill="#4a4680"/><circle cx="485.6" cy="293.3" r="0.9" fill="#6a6aa0"/><circle cx="474.8" cy="294.7" r="0.7" fill="#5a5690"/><circle cx="457.4" cy="323.8" r="1.0" fill="#54508a"/><circle cx="429.9" cy="289.9" r="1.0" fill="#54508a"/><circle cx="464.3" cy="309.3" r="0.9" fill="#54508a"/><circle cx="433.2" cy="297.9" r="1.3" fill="#4a4680"/><circle cx="511.6" cy="300.7" r="0.8" fill="#6a6aa0"/><circle cx="453.5" cy="288.1" r="1.4" fill="#5a5690"/><circle cx="495.1" cy="284.7" r="1.2" fill="#3e4278"/><circle cx="511.0" cy="332.9" r="1.2" fill="#5a5690"/><circle cx="434.8" cy="326.8" r="1.1" fill="#5a5690"/><circle cx="484.9" cy="301.5" r="1.4" fill="#5a5690"/><circle cx="477.7" cy="331.0" r="1.4" fill="#4a4680"/><circle cx="446.1" cy="279.8" r="1.1" fill="#5a5690"/><circle cx="483.0" cy="296.6" r="1.1" fill="#5a5690"/><circle cx="466.9" cy="295.7" r="0.9" fill="#5a5690"/><circle cx="507.2" cy="288.1" r="1.0" fill="#54508a"/><circle cx="499.4" cy="317.0" r="1.1" fill="#3e4278"/><circle cx="471.2" cy="320.2" r="1.3" fill="#5a5690"/><circle cx="451.2" cy="305.5" r="1.2" fill="#54508a"/><circle cx="444.7" cy="307.1" r="1.0" fill="#3e4278"/><circle cx="507.2" cy="310.5" r="1.1" fill="#5a5690"/><circle cx="502.1" cy="283.3" r="1.1" fill="#54508a"/><circle cx="507.0" cy="320.0" r="0.8" fill="#4a4680"/><circle cx="433.2" cy="314.2" r="0.8" fill="#5a5690"/><circle cx="451.4" cy="333.6" r="0.7" fill="#4a4680"/><circle cx="436.6" cy="304.6" r="0.8" fill="#54508a"/><circle cx="471.9" cy="306.1" r="1.2" fill="#4a4680"/><circle cx="470.6" cy="300.9" r="1.0" fill="#3e4278"/><circle cx="501.6" cy="284.9" r="0.8" fill="#3e4278"/><circle cx="431.1" cy="309.3" r="1.1" fill="#54508a"/><circle cx="432.0" cy="335.3" r="0.9" fill="#3e4278"/><circle cx="486.0" cy="337.8" r="1.4" fill="#3e4278"/><circle cx="499.8" cy="337.6" r="0.7" fill="#6a6aa0"/><circle cx="494.2" cy="341.5" r="1.1" fill="#54508a"/><circle cx="452.0" cy="289.2" r="1.2" fill="#3e4278"/><circle cx="508.6" cy="280.5" r="0.8" fill="#5a5690"/><circle cx="508.4" cy="280.0" r="0.7" fill="#3e4278"/><circle cx="484.8" cy="311.3" r="1.1" fill="#4a4680"/><circle cx="424.3" cy="282.8" r="1.3" fill="#6a6aa0"/><circle cx="497.5" cy="304.3" r="0.9" fill="#5a5690"/><circle cx="458.7" cy="335.3" r="0.9" fill="#4a4680"/><circle cx="475.7" cy="311.8" r="0.9" fill="#5a5690"/><circle cx="464.2" cy="293.3" r="1.3" fill="#3e4278"/><circle cx="441.9" cy="291.9" r="1.0" fill="#3e4278"/><circle cx="493.2" cy="299.5" r="0.9" fill="#54508a"/><circle cx="447.1" cy="311.5" r="0.9" fill="#4a4680"/><circle cx="440.4" cy="293.2" r="0.9" fill="#5a5690"/><circle cx="489.3" cy="291.4" r="0.7" fill="#3e4278"/><circle cx="471.7" cy="283.5" r="1.2" fill="#3e4278"/><circle cx="463.1" cy="281.3" r="1.1" fill="#3e4278"/><circle cx="456.8" cy="301.0" r="1.3" fill="#6a6aa0"/><circle cx="512.2" cy="305.0" r="1.2" fill="#3e4278"/><circle cx="454.0" cy="328.5" r="1.0" fill="#5a5690"/><circle cx="473.7" cy="338.2" r="0.7" fill="#4a4680"/><circle cx="428.8" cy="280.6" r="1.4" fill="#6a6aa0"/><circle cx="504.7" cy="287.6" r="0.8" fill="#6a6aa0"/><circle cx="508.7" cy="337.4" r="0.9" fill="#3e4278"/><circle cx="436.7" cy="323.7" r="1.4" fill="#3e4278"/><circle cx="445.1" cy="322.8" r="0.9" fill="#6a6aa0"/><circle cx="456.5" cy="324.4" r="1.3" fill="#3e4278"/><circle cx="506.8" cy="283.0" r="0.8" fill="#5a5690"/><circle cx="483.7" cy="286.3" r="0.9" fill="#54508a"/><circle cx="435.0" cy="311.8" r="1.1" fill="#54508a"/><circle cx="463.1" cy="329.3" r="0.9" fill="#4a4680"/><circle cx="431.4" cy="292.6" r="0.8" fill="#5a5690"/><circle cx="510.0" cy="337.5" r="1.2" fill="#3e4278"/><circle cx="438.3" cy="299.4" r="1.1" fill="#5a5690"/><circle cx="466.8" cy="334.9" r="1.1" fill="#5a5690"/><circle cx="477.3" cy="332.0" r="1.0" fill="#3e4278"/><circle cx="437.2" cy="308.1" r="1.2" fill="#6a6aa0"/><circle cx="491.3" cy="303.8" r="0.7" fill="#3e4278"/><circle cx="428.2" cy="303.9" r="1.3" fill="#4a4680"/><circle cx="426.3" cy="305.3" r="1.4" fill="#54508a"/><circle cx="481.6" cy="307.9" r="0.8" fill="#4a4680"/><circle cx="438.8" cy="339.9" r="0.9" fill="#54508a"/><circle cx="473.6" cy="322.0" r="0.9" fill="#5a5690"/><circle cx="438.8" cy="287.6" r="1.1" fill="#54508a"/><circle cx="460.9" cy="312.6" r="1.0" fill="#5a5690"/><circle cx="507.7" cy="309.6" r="1.2" fill="#54508a"/><circle cx="499.3" cy="334.2" r="0.8" fill="#54508a"/><circle cx="473.6" cy="336.6" r="1.2" fill="#5a5690"/><circle cx="444.9" cy="315.4" r="0.8" fill="#5a5690"/><circle cx="449.2" cy="284.6" r="1.2" fill="#5a5690"/><circle cx="466.4" cy="285.6" r="1.2" fill="#54508a"/><circle cx="481.5" cy="321.8" r="1.2" fill="#6a6aa0"/><circle cx="447.9" cy="314.8" r="1.1" fill="#6a6aa0"/><circle cx="429.2" cy="298.7" r="1.1" fill="#4a4680"/><circle cx="480.6" cy="339.8" r="0.9" fill="#6a6aa0"/><circle cx="428.6" cy="296.2" r="0.7" fill="#54508a"/><circle cx="497.2" cy="328.9" r="0.9" fill="#54508a"/><circle cx="433.2" cy="300.8" r="0.7" fill="#4a4680"/><circle cx="467.3" cy="309.0" r="0.9" fill="#54508a"/><circle cx="468.5" cy="337.0" r="1.2" fill="#6a6aa0"/><circle cx="494.9" cy="340.4" r="1.3" fill="#3e4278"/><circle cx="494.4" cy="323.5" r="1.3" fill="#3e4278"/><circle cx="434.6" cy="308.6" r="1.2" fill="#4a4680"/><circle cx="505.1" cy="279.9" r="1.1" fill="#5a5690"/><circle cx="465.6" cy="319.2" r="1.2" fill="#6a6aa0"/><circle cx="506.3" cy="319.2" r="0.7" fill="#3e4278"/><circle cx="433.8" cy="340.6" r="1.3" fill="#5a5690"/><circle cx="446.6" cy="317.1" r="1.2" fill="#5a5690"/><circle cx="510.9" cy="317.9" r="0.8" fill="#4a4680"/><circle cx="462.6" cy="304.3" r="1.0" fill="#4a4680"/><circle cx="474.3" cy="338.1" r="1.1" fill="#6a6aa0"/><circle cx="444.0" cy="323.4" r="0.7" fill="#3e4278"/><circle cx="468.2" cy="340.4" r="0.9" fill="#54508a"/><circle cx="492.4" cy="322.4" r="1.1" fill="#5a5690"/><circle cx="465.3" cy="322.2" r="0.7" fill="#5a5690"/><circle cx="484.6" cy="338.0" r="0.9" fill="#4a4680"/><circle cx="504.4" cy="296.9" r="1.4" fill="#54508a"/><circle cx="450.9" cy="307.8" r="0.7" fill="#4a4680"/><circle cx="448.8" cy="311.5" r="1.0" fill="#4a4680"/><circle cx="432.7" cy="323.1" r="0.7" fill="#54508a"/><circle cx="446.2" cy="291.1" r="1.1" fill="#3e4278"/><circle cx="462.4" cy="303.7" r="0.9" fill="#5a5690"/><circle cx="450.2" cy="332.8" r="1.3" fill="#54508a"/><circle cx="460.7" cy="304.2" r="0.9" fill="#6a6aa0"/><circle cx="504.9" cy="283.5" r="1.0" fill="#6a6aa0"/><circle cx="484.5" cy="326.7" r="1.1" fill="#54508a"/><circle cx="503.6" cy="294.4" r="1.1" fill="#4a4680"/><circle cx="470.6" cy="290.5" r="1.2" fill="#4a4680"/><circle cx="478.3" cy="290.1" r="1.4" fill="#54508a"/><circle cx="488.2" cy="298.7" r="1.2" fill="#4a4680"/><circle cx="486.3" cy="307.4" r="1.0" fill="#4a4680"/><circle cx="508.0" cy="290.8" r="0.9" fill="#4a4680"/><circle cx="472.6" cy="278.6" r="1.0" fill="#54508a"/><circle cx="462.7" cy="286.6" r="1.0" fill="#54508a"/><circle cx="493.3" cy="294.0" r="1.3" fill="#3e4278"/><circle cx="484.2" cy="317.4" r="0.7" fill="#54508a"/><circle cx="435.5" cy="282.0" r="1.0" fill="#4a4680"/><circle cx="457.9" cy="325.5" r="1.2" fill="#54508a"/><circle cx="433.5" cy="338.8" r="1.3" fill="#6a6aa0"/><circle cx="511.0" cy="333.7" r="1.3" fill="#4a4680"/><circle cx="453.7" cy="279.9" r="1.3" fill="#54508a"/><circle cx="475.0" cy="325.2" r="1.3" fill="#3e4278"/><circle cx="446.9" cy="328.5" r="1.2" fill="#6a6aa0"/><circle cx="442.4" cy="320.4" r="0.8" fill="#6a6aa0"/><circle cx="452.0" cy="317.9" r="1.0" fill="#5a5690"/><circle cx="478.9" cy="284.1" r="1.2" fill="#54508a"/><circle cx="464.2" cy="302.3" r="1.3" fill="#6a6aa0"/><circle cx="502.2" cy="283.2" r="0.9" fill="#3e4278"/><circle cx="487.9" cy="338.5" r="1.2" fill="#6a6aa0"/><circle cx="462.5" cy="319.8" r="0.9" fill="#4a4680"/><circle cx="471.6" cy="340.4" r="0.9" fill="#6a6aa0"/><circle cx="425.7" cy="304.8" r="1.2" fill="#5a5690"/><circle cx="432.1" cy="302.5" r="1.3" fill="#5a5690"/><circle cx="511.6" cy="290.9" r="1.3" fill="#4a4680"/><circle cx="468.0" cy="281.8" r="0.9" fill="#6a6aa0"/><circle cx="430.1" cy="340.3" r="1.2" fill="#5a5690"/><circle cx="489.9" cy="315.1" r="0.9" fill="#54508a"/><circle cx="460.1" cy="288.4" r="0.7" fill="#54508a"/><circle cx="452.8" cy="324.4" r="1.4" fill="#5a5690"/><circle cx="490.8" cy="300.2" r="1.4" fill="#5a5690"/><circle cx="438.9" cy="318.0" r="1.3" fill="#6a6aa0"/><circle cx="449.6" cy="329.4" r="1.0" fill="#3e4278"/><circle cx="432.8" cy="281.5" r="1.0" fill="#54508a"/><circle cx="511.4" cy="314.5" r="1.4" fill="#5a5690"/><circle cx="462.3" cy="281.8" r="0.7" fill="#54508a"/><circle cx="485.1" cy="322.1" r="1.3" fill="#6a6aa0"/><circle cx="486.3" cy="287.8" r="1.1" fill="#54508a"/><circle cx="426.3" cy="302.2" r="1.2" fill="#3e4278"/><circle cx="493.6" cy="318.1" r="1.3" fill="#54508a"/><circle cx="446.2" cy="289.7" r="0.8" fill="#4a4680"/><circle cx="480.3" cy="280.2" r="0.8" fill="#4a4680"/><circle cx="467.2" cy="322.4" r="0.7" fill="#5a5690"/><circle cx="499.8" cy="291.9" r="1.2" fill="#5a5690"/><circle cx="453.9" cy="334.0" r="0.9" fill="#6a6aa0"/><circle cx="485.9" cy="280.2" r="1.3" fill="#54508a"/><circle cx="449.0" cy="310.4" r="1.0" fill="#54508a"/><circle cx="443.8" cy="317.7" r="0.8" fill="#5a5690"/><circle cx="493.5" cy="334.5" r="0.8" fill="#3e4278"/><circle cx="504.8" cy="321.3" r="0.8" fill="#5a5690"/><circle cx="477.4" cy="300.5" r="1.2" fill="#5a5690"/><circle cx="501.0" cy="292.8" r="1.0" fill="#3e4278"/><circle cx="467.6" cy="320.8" r="1.3" fill="#4a4680"/><circle cx="491.7" cy="321.5" r="1.4" fill="#4a4680"/><circle cx="432.6" cy="281.3" r="0.9" fill="#6a6aa0"/><circle cx="477.0" cy="333.0" r="0.7" fill="#4a4680"/><circle cx="461.0" cy="335.9" r="1.1" fill="#54508a"/><circle cx="448.2" cy="320.7" r="1.2" fill="#5a5690"/><circle cx="428.9" cy="327.8" r="0.9" fill="#4a4680"/><circle cx="455.5" cy="301.3" r="0.9" fill="#5a5690"/><circle cx="450.6" cy="279.4" r="1.0" fill="#6a6aa0"/><circle cx="476.3" cy="295.5" r="0.8" fill="#4a4680"/><circle cx="465.5" cy="310.8" r="0.9" fill="#54508a"/><circle cx="494.6" cy="306.6" r="1.2" fill="#3e4278"/><circle cx="460.6" cy="303.1" r="1.1" fill="#6a6aa0"/><circle cx="463.3" cy="314.9" r="1.4" fill="#3e4278"/><circle cx="449.3" cy="297.2" r="1.0" fill="#4a4680"/><circle cx="478.8" cy="296.5" r="0.8" fill="#54508a"/><circle cx="484.4" cy="322.2" r="1.2" fill="#6a6aa0"/><circle cx="432.2" cy="310.2" r="0.9" fill="#54508a"/><circle cx="511.4" cy="336.5" r="1.3" fill="#4a4680"/><circle cx="433.8" cy="312.3" r="0.9" fill="#6a6aa0"/><circle cx="469.5" cy="298.1" r="1.3" fill="#54508a"/><circle cx="455.6" cy="338.9" r="1.1" fill="#4a4680"/><circle cx="425.4" cy="287.9" r="1.0" fill="#4a4680"/><circle cx="463.6" cy="341.0" r="1.3" fill="#54508a"/><circle cx="491.3" cy="315.9" r="1.1" fill="#3e4278"/><circle cx="430.2" cy="325.6" r="0.9" fill="#6a6aa0"/><circle cx="443.3" cy="306.7" r="1.1" fill="#5a5690"/><circle cx="511.3" cy="336.8" r="1.1" fill="#4a4680"/><circle cx="443.6" cy="320.0" r="0.9" fill="#4a4680"/><circle cx="445.6" cy="298.2" r="0.8" fill="#54508a"/><circle cx="470.2" cy="340.2" r="0.8" fill="#3e4278"/><circle cx="495.9" cy="324.3" r="1.2" fill="#4a4680"/><circle cx="454.5" cy="324.4" r="1.2" fill="#3e4278"/><circle cx="480.0" cy="325.3" r="1.3" fill="#5a5690"/><circle cx="495.0" cy="335.5" r="1.2" fill="#5a5690"/><circle cx="480.1" cy="317.4" r="1.4" fill="#4a4680"/><circle cx="500.4" cy="297.7" r="1.3" fill="#5a5690"/><circle cx="458.3" cy="319.4" r="1.0" fill="#4a4680"/><circle cx="445.3" cy="296.1" r="1.3" fill="#4a4680"/><circle cx="430.0" cy="290.3" r="0.9" fill="#5a5690"/><circle cx="506.6" cy="320.6" r="0.8" fill="#6a6aa0"/><circle cx="506.5" cy="298.7" r="0.7" fill="#6a6aa0"/><circle cx="467.5" cy="302.8" r="1.1" fill="#4a4680"/><circle cx="434.5" cy="301.2" r="1.1" fill="#54508a"/><circle cx="453.2" cy="287.9" r="1.1" fill="#54508a"/><circle cx="440.1" cy="310.1" r="1.0" fill="#54508a"/><circle cx="479.4" cy="306.8" r="1.0" fill="#4a4680"/><circle cx="431.1" cy="333.1" r="0.7" fill="#3e4278"/><circle cx="458.0" cy="292.7" r="1.0" fill="#6a6aa0"/><circle cx="489.8" cy="326.6" r="1.2" fill="#4a4680"/><circle cx="455.1" cy="282.7" r="0.9" fill="#54508a"/></g></g>
<path d="M271 278.5 Q264 292 263 308 Q266 322 279 326 Q292 322 302 306 Q312 292 309 278.5" fill="none" stroke="#fbfbfb" stroke-width="1.35" stroke-dasharray="2.6,1.5"/>
<path d="M235 279 L243 279 Q246 290 241 300 L235 302Z" fill="#dcd6c4" opacity="0.6"/>
<path d="M300 342 Q306 326 316 318 L323 316 L323 322 Q312 328 306 342Z" fill="#d8d2c4" opacity="0.5"/>
<rect x="236.0" y="268.4" width="30.9" height="7.2" fill="#fff"/>
<rect x="237.6" y="270.9" width="9.0" height="2.1" fill="#000"/>
<text x="248.2" y="274.0" font-size="5.8" fill="#333" stroke="#333" stroke-width="0.08">50 μm</text>
<rect x="330.5" y="268.6" width="31.0" height="7.2" fill="#fff"/>
<rect x="332.1" y="271.1" width="6.5" height="2.1" fill="#000"/>
<text x="340.2" y="274.2" font-size="5.8" fill="#333" stroke="#333" stroke-width="0.08">100 μm</text>
<rect x="425.5" y="268.6" width="32.0" height="7.2" fill="#fff"/>
<rect x="427.1" y="271.1" width="6.5" height="2.1" fill="#000"/>
<text x="435.2" y="274.2" font-size="5.8" fill="#333" stroke="#333" stroke-width="0.08">100 μm</text>
<rect x="236.0" y="333.8" width="28.5" height="7.2" fill="#fff"/>
<rect x="237.6" y="336.3" width="6.5" height="2.1" fill="#000"/>
<text x="245.7" y="339.4" font-size="5.8" fill="#333" stroke="#333" stroke-width="0.08">10 μm</text>
<rect x="330.5" y="333.8" width="28.5" height="7.2" fill="#fff"/>
<rect x="332.1" y="336.3" width="6.5" height="2.1" fill="#000"/>
<text x="340.2" y="339.4" font-size="5.8" fill="#333" stroke="#333" stroke-width="0.08">10 μm</text>
<rect x="425.5" y="333.8" width="28.5" height="7.2" fill="#fff"/>
<rect x="427.1" y="336.3" width="6.5" height="2.1" fill="#000"/>
<text x="435.2" y="339.4" font-size="5.8" fill="#333" stroke="#333" stroke-width="0.08">10 μm</text>
<rect x="480.0" y="209.6" width="31.8" height="20.6" fill="#fff"/>
<rect x="481.2" y="213.0" width="9.2" height="4.6" fill="#84a8cc"/>
<rect x="481.2" y="223.4" width="9.2" height="4.6" fill="#b898cc"/>
<text x="492.2" y="218.0" font-size="7.4" fill="#333" stroke="#333" stroke-width="0.1" textLength="15.5" lengthAdjust="spacingAndGlyphs">GFP</text>
<text x="492.2" y="228.4" font-size="7.4" fill="#333" stroke="#333" stroke-width="0.1" textLength="17" lengthAdjust="spacingAndGlyphs">Hem</text>
<text x="10.0" y="386.5" font-size="11" fill="#111" stroke="#111" stroke-width="0.1" font-weight="bold">G</text>
<rect x="48.90" y="424.30" width="8.98" height="5.88" fill="#fddbc7"/><rect x="57.83" y="424.30" width="8.98" height="5.88" fill="#d6604d"/><rect x="66.76" y="424.30" width="8.98" height="5.88" fill="#d6604d"/><rect x="75.69" y="424.30" width="8.98" height="5.88" fill="#fddbc7"/><rect x="84.62" y="424.30" width="8.98" height="5.88" fill="#92c5de"/><rect x="93.55" y="424.30" width="8.98" height="5.88" fill="#f7f7f7"/><rect x="102.48" y="424.30" width="8.98" height="5.88" fill="#fddbc7"/><rect x="48.90" y="430.13" width="8.98" height="5.88" fill="#fddbc7"/><rect x="57.83" y="430.13" width="8.98" height="5.88" fill="#f4a582"/><rect x="66.76" y="430.13" width="8.98" height="5.88" fill="#fddbc7"/><rect x="75.69" y="430.13" width="8.98" height="5.88" fill="#f4a582"/><rect x="84.62" y="430.13" width="8.98" height="5.88" fill="#92c5de"/><rect x="93.55" y="430.13" width="8.98" height="5.88" fill="#fddbc7"/><rect x="102.48" y="430.13" width="8.98" height="5.88" fill="#f7f7f7"/><rect x="48.90" y="435.96" width="8.98" height="5.88" fill="#fddbc7"/><rect x="57.83" y="435.96" width="8.98" height="5.88" fill="#f4a582"/><rect x="66.76" y="435.96" width="8.98" height="5.88" fill="#f4a582"/><rect x="75.69" y="435.96" width="8.98" height="5.88" fill="#f4a582"/><rect x="84.62" y="435.96" width="8.98" height="5.88" fill="#d1e5f0"/><rect x="93.55" y="435.96" width="8.98" height="5.88" fill="#f7f7f7"/><rect x="102.48" y="435.96" width="8.98" height="5.88" fill="#f4a582"/><rect x="48.90" y="441.79" width="8.98" height="5.88" fill="#f4a582"/><rect x="57.83" y="441.79" width="8.98" height="5.88" fill="#f4a582"/><rect x="66.76" y="441.79" width="8.98" height="5.88" fill="#f4a582"/><rect x="75.69" y="441.79" width="8.98" height="5.88" fill="#fddbc7"/><rect x="84.62" y="441.79" width="8.98" height="5.88" fill="#d1e5f0"/><rect x="93.55" y="441.79" width="8.98" height="5.88" fill="#f7f7f7"/><rect x="102.48" y="441.79" width="8.98" height="5.88" fill="#f4a582"/><rect x="48.90" y="449.30" width="8.98" height="5.72" fill="#fddbc7"/><rect x="57.83" y="449.30" width="8.98" height="5.72" fill="#92c5de"/><rect x="66.76" y="449.30" width="8.98" height="5.72" fill="#d1e5f0"/><rect x="75.69" y="449.30" width="8.98" height="5.72" fill="#f7f7f7"/><rect x="84.62" y="449.30" width="8.98" height="5.72" fill="#fddbc7"/><rect x="93.55" y="449.30" width="8.98" height="5.72" fill="#d1e5f0"/><rect x="102.48" y="449.30" width="8.98" height="5.72" fill="#fddbc7"/><rect x="48.90" y="454.97" width="8.98" height="5.72" fill="#4393c3"/><rect x="57.83" y="454.97" width="8.98" height="5.72" fill="#d1e5f0"/><rect x="66.76" y="454.97" width="8.98" height="5.72" fill="#92c5de"/><rect x="75.69" y="454.97" width="8.98" height="5.72" fill="#92c5de"/><rect x="84.62" y="454.97" width="8.98" height="5.72" fill="#d6604d"/><rect x="93.55" y="454.97" width="8.98" height="5.72" fill="#fddbc7"/><rect x="102.48" y="454.97" width="8.98" height="5.72" fill="#92c5de"/><rect x="48.90" y="460.64" width="8.98" height="5.72" fill="#92c5de"/><rect x="57.83" y="460.64" width="8.98" height="5.72" fill="#d1e5f0"/><rect x="66.76" y="460.64" width="8.98" height="5.72" fill="#92c5de"/><rect x="75.69" y="460.64" width="8.98" height="5.72" fill="#92c5de"/><rect x="84.62" y="460.64" width="8.98" height="5.72" fill="#f4a582"/><rect x="93.55" y="460.64" width="8.98" height="5.72" fill="#fddbc7"/><rect x="102.48" y="460.64" width="8.98" height="5.72" fill="#92c5de"/><rect x="48.90" y="466.31" width="8.98" height="5.72" fill="#92c5de"/><rect x="57.83" y="466.31" width="8.98" height="5.72" fill="#d1e5f0"/><rect x="66.76" y="466.31" width="8.98" height="5.72" fill="#d1e5f0"/><rect x="75.69" y="466.31" width="8.98" height="5.72" fill="#4393c3"/><rect x="84.62" y="466.31" width="8.98" height="5.72" fill="#fddbc7"/><rect x="93.55" y="466.31" width="8.98" height="5.72" fill="#fddbc7"/><rect x="102.48" y="466.31" width="8.98" height="5.72" fill="#d1e5f0"/><rect x="48.90" y="471.98" width="8.98" height="5.72" fill="#fddbc7"/><rect x="57.83" y="471.98" width="8.98" height="5.72" fill="#d1e5f0"/><rect x="66.76" y="471.98" width="8.98" height="5.72" fill="#d1e5f0"/><rect x="75.69" y="471.98" width="8.98" height="5.72" fill="#f7f7f7"/><rect x="84.62" y="471.98" width="8.98" height="5.72" fill="#f7f7f7"/><rect x="93.55" y="471.98" width="8.98" height="5.72" fill="#2166ac"/><rect x="102.48" y="471.98" width="8.98" height="5.72" fill="#d1e5f0"/><rect x="48.90" y="477.65" width="8.98" height="5.72" fill="#fddbc7"/><rect x="57.83" y="477.65" width="8.98" height="5.72" fill="#92c5de"/><rect x="66.76" y="477.65" width="8.98" height="5.72" fill="#d1e5f0"/><rect x="75.69" y="477.65" width="8.98" height="5.72" fill="#f7f7f7"/><rect x="84.62" y="477.65" width="8.98" height="5.72" fill="#f7f7f7"/><rect x="93.55" y="477.65" width="8.98" height="5.72" fill="#fddbc7"/><rect x="102.48" y="477.65" width="8.98" height="5.72" fill="#d1e5f0"/>
<rect x="113.20" y="424.30" width="8.88" height="5.88" fill="#92c5de"/><rect x="122.03" y="424.30" width="8.88" height="5.88" fill="#92c5de"/><rect x="130.86" y="424.30" width="8.88" height="5.88" fill="#4393c3"/><rect x="139.69" y="424.30" width="8.88" height="5.88" fill="#d1e5f0"/><rect x="148.52" y="424.30" width="8.88" height="5.88" fill="#f4a582"/><rect x="157.35" y="424.30" width="8.88" height="5.88" fill="#92c5de"/><rect x="166.18" y="424.30" width="8.88" height="5.88" fill="#92c5de"/><rect x="175.01" y="424.30" width="8.88" height="5.88" fill="#fddbc7"/><rect x="183.84" y="424.30" width="8.88" height="5.88" fill="#d1e5f0"/><rect x="192.67" y="424.30" width="8.88" height="5.88" fill="#fddbc7"/><rect x="201.50" y="424.30" width="8.88" height="5.88" fill="#d1e5f0"/><rect x="113.20" y="430.13" width="8.88" height="5.88" fill="#d1e5f0"/><rect x="122.03" y="430.13" width="8.88" height="5.88" fill="#f4a582"/><rect x="130.86" y="430.13" width="8.88" height="5.88" fill="#92c5de"/><rect x="139.69" y="430.13" width="8.88" height="5.88" fill="#d1e5f0"/><rect x="148.52" y="430.13" width="8.88" height="5.88" fill="#f7f7f7"/><rect x="157.35" y="430.13" width="8.88" height="5.88" fill="#d1e5f0"/><rect x="166.18" y="430.13" width="8.88" height="5.88" fill="#92c5de"/><rect x="175.01" y="430.13" width="8.88" height="5.88" fill="#fddbc7"/><rect x="183.84" y="430.13" width="8.88" height="5.88" fill="#92c5de"/><rect x="192.67" y="430.13" width="8.88" height="5.88" fill="#fddbc7"/><rect x="201.50" y="430.13" width="8.88" height="5.88" fill="#92c5de"/><rect x="113.20" y="435.96" width="8.88" height="5.88" fill="#92c5de"/><rect x="122.03" y="435.96" width="8.88" height="5.88" fill="#f7f7f7"/><rect x="130.86" y="435.96" width="8.88" height="5.88" fill="#f7f7f7"/><rect x="139.69" y="435.96" width="8.88" height="5.88" fill="#92c5de"/><rect x="148.52" y="435.96" width="8.88" height="5.88" fill="#fddbc7"/><rect x="157.35" y="435.96" width="8.88" height="5.88" fill="#92c5de"/><rect x="166.18" y="435.96" width="8.88" height="5.88" fill="#92c5de"/><rect x="175.01" y="435.96" width="8.88" height="5.88" fill="#fddbc7"/><rect x="183.84" y="435.96" width="8.88" height="5.88" fill="#d1e5f0"/><rect x="192.67" y="435.96" width="8.88" height="5.88" fill="#4393c3"/><rect x="201.50" y="435.96" width="8.88" height="5.88" fill="#92c5de"/><rect x="113.20" y="441.79" width="8.88" height="5.88" fill="#92c5de"/><rect x="122.03" y="441.79" width="8.88" height="5.88" fill="#fddbc7"/><rect x="130.86" y="441.79" width="8.88" height="5.88" fill="#f4a582"/><rect x="139.69" y="441.79" width="8.88" height="5.88" fill="#d1e5f0"/><rect x="148.52" y="441.79" width="8.88" height="5.88" fill="#fddbc7"/><rect x="157.35" y="441.79" width="8.88" height="5.88" fill="#92c5de"/><rect x="166.18" y="441.79" width="8.88" height="5.88" fill="#92c5de"/><rect x="175.01" y="441.79" width="8.88" height="5.88" fill="#fddbc7"/><rect x="183.84" y="441.79" width="8.88" height="5.88" fill="#92c5de"/><rect x="192.67" y="441.79" width="8.88" height="5.88" fill="#4393c3"/><rect x="201.50" y="441.79" width="8.88" height="5.88" fill="#92c5de"/><rect x="113.20" y="449.30" width="8.88" height="5.72" fill="#d1e5f0"/><rect x="122.03" y="449.30" width="8.88" height="5.72" fill="#fddbc7"/><rect x="130.86" y="449.30" width="8.88" height="5.72" fill="#d6604d"/><rect x="139.69" y="449.30" width="8.88" height="5.72" fill="#d1e5f0"/><rect x="148.52" y="449.30" width="8.88" height="5.72" fill="#2166ac"/><rect x="157.35" y="449.30" width="8.88" height="5.72" fill="#fddbc7"/><rect x="166.18" y="449.30" width="8.88" height="5.72" fill="#fddbc7"/><rect x="175.01" y="449.30" width="8.88" height="5.72" fill="#f4a582"/><rect x="183.84" y="449.30" width="8.88" height="5.72" fill="#f4a582"/><rect x="192.67" y="449.30" width="8.88" height="5.72" fill="#fddbc7"/><rect x="201.50" y="449.30" width="8.88" height="5.72" fill="#f7f7f7"/><rect x="113.20" y="454.97" width="8.88" height="5.72" fill="#f4a582"/><rect x="122.03" y="454.97" width="8.88" height="5.72" fill="#4393c3"/><rect x="130.86" y="454.97" width="8.88" height="5.72" fill="#92c5de"/><rect x="139.69" y="454.97" width="8.88" height="5.72" fill="#d6604d"/><rect x="148.52" y="454.97" width="8.88" height="5.72" fill="#fddbc7"/><rect x="157.35" y="454.97" width="8.88" height="5.72" fill="#f4a582"/><rect x="166.18" y="454.97" width="8.88" height="5.72" fill="#f4a582"/><rect x="175.01" y="454.97" width="8.88" height="5.72" fill="#fddbc7"/><rect x="183.84" y="454.97" width="8.88" height="5.72" fill="#d1e5f0"/><rect x="192.67" y="454.97" width="8.88" height="5.72" fill="#f4a582"/><rect x="201.50" y="454.97" width="8.88" height="5.72" fill="#f7f7f7"/><rect x="113.20" y="460.64" width="8.88" height="5.72" fill="#f4a582"/><rect x="122.03" y="460.64" width="8.88" height="5.72" fill="#d1e5f0"/><rect x="130.86" y="460.64" width="8.88" height="5.72" fill="#f7f7f7"/><rect x="139.69" y="460.64" width="8.88" height="5.72" fill="#fddbc7"/><rect x="148.52" y="460.64" width="8.88" height="5.72" fill="#fddbc7"/><rect x="157.35" y="460.64" width="8.88" height="5.72" fill="#f7f7f7"/><rect x="166.18" y="460.64" width="8.88" height="5.72" fill="#f4a582"/><rect x="175.01" y="460.64" width="8.88" height="5.72" fill="#f7f7f7"/><rect x="183.84" y="460.64" width="8.88" height="5.72" fill="#f7f7f7"/><rect x="192.67" y="460.64" width="8.88" height="5.72" fill="#f7f7f7"/><rect x="201.50" y="460.64" width="8.88" height="5.72" fill="#f4a582"/><rect x="113.20" y="466.31" width="8.88" height="5.72" fill="#f4a582"/><rect x="122.03" y="466.31" width="8.88" height="5.72" fill="#f7f7f7"/><rect x="130.86" y="466.31" width="8.88" height="5.72" fill="#d1e5f0"/><rect x="139.69" y="466.31" width="8.88" height="5.72" fill="#f4a582"/><rect x="148.52" y="466.31" width="8.88" height="5.72" fill="#f7f7f7"/><rect x="157.35" y="466.31" width="8.88" height="5.72" fill="#d6604d"/><rect x="166.18" y="466.31" width="8.88" height="5.72" fill="#f4a582"/><rect x="175.01" y="466.31" width="8.88" height="5.72" fill="#f7f7f7"/><rect x="183.84" y="466.31" width="8.88" height="5.72" fill="#d1e5f0"/><rect x="192.67" y="466.31" width="8.88" height="5.72" fill="#fddbc7"/><rect x="201.50" y="466.31" width="8.88" height="5.72" fill="#fddbc7"/><rect x="113.20" y="471.98" width="8.88" height="5.72" fill="#fddbc7"/><rect x="122.03" y="471.98" width="8.88" height="5.72" fill="#fddbc7"/><rect x="130.86" y="471.98" width="8.88" height="5.72" fill="#f4a582"/><rect x="139.69" y="471.98" width="8.88" height="5.72" fill="#f7f7f7"/><rect x="148.52" y="471.98" width="8.88" height="5.72" fill="#d1e5f0"/><rect x="157.35" y="471.98" width="8.88" height="5.72" fill="#fddbc7"/><rect x="166.18" y="471.98" width="8.88" height="5.72" fill="#fddbc7"/><rect x="175.01" y="471.98" width="8.88" height="5.72" fill="#4393c3"/><rect x="183.84" y="471.98" width="8.88" height="5.72" fill="#f4a582"/><rect x="192.67" y="471.98" width="8.88" height="5.72" fill="#d1e5f0"/><rect x="201.50" y="471.98" width="8.88" height="5.72" fill="#f4a582"/><rect x="113.20" y="477.65" width="8.88" height="5.72" fill="#fddbc7"/><rect x="122.03" y="477.65" width="8.88" height="5.72" fill="#fddbc7"/><rect x="130.86" y="477.65" width="8.88" height="5.72" fill="#f7f7f7"/><rect x="139.69" y="477.65" width="8.88" height="5.72" fill="#f7f7f7"/><rect x="148.52" y="477.65" width="8.88" height="5.72" fill="#d1e5f0"/><rect x="157.35" y="477.65" width="8.88" height="5.72" fill="#f7f7f7"/><rect x="166.18" y="477.65" width="8.88" height="5.72" fill="#fddbc7"/><rect x="175.01" y="477.65" width="8.88" height="5.72" fill="#4393c3"/><rect x="183.84" y="477.65" width="8.88" height="5.72" fill="#d6604d"/><rect x="192.67" y="477.65" width="8.88" height="5.72" fill="#d1e5f0"/><rect x="201.50" y="477.65" width="8.88" height="5.72" fill="#f4a582"/>
<path d="M48.5 426 L46 426 L46 430 L48.5 430 M46 428 L44.5 428 L44.5 443 M48.5 436 L46.5 436 L46.5 442 L48.5 442 M46.5 439 L44.5 439 M44.5 435 L43.8 435 L43.8 466 M48.5 451 L46 451 L46 458 L48.5 458 M46 454 L44.8 454 M48.5 464 L46.2 464 L46.2 475 L48.5 475 M46.2 470 L44.8 470 L44.8 454 M44.8 462 L43.8 462" stroke="#888" stroke-width="0.6" fill="none"/>
<rect x="30.3" y="429.1" width="3.2" height="5.4" fill="#a50f26"/>
<rect x="30.3" y="434.4" width="3.2" height="5.4" fill="#c8384a"/>
<rect x="30.3" y="439.7" width="3.2" height="5.4" fill="#e4866c"/>
<rect x="30.3" y="445.1" width="3.2" height="5.4" fill="#f8c4a8"/>
<rect x="30.3" y="450.4" width="3.2" height="5.4" fill="#f7f2ee"/>
<rect x="30.3" y="455.7" width="3.2" height="5.4" fill="#dbe9f2"/>
<rect x="30.3" y="461.0" width="3.2" height="5.4" fill="#a8d0e4"/>
<rect x="30.3" y="466.3" width="3.2" height="5.4" fill="#6aaad0"/>
<rect x="30.3" y="471.7" width="3.2" height="5.4" fill="#3a84bc"/>
<rect x="30.3" y="477.0" width="3.2" height="5.4" fill="#1f5fa0"/>
<text x="27.2" y="437.8" font-size="8.8" fill="#333" stroke="#333" stroke-width="0.1" text-anchor="end">2</text>
<text x="27.2" y="448.1" font-size="8.8" fill="#333" stroke="#333" stroke-width="0.1" text-anchor="end">1</text>
<text x="27.2" y="457.4" font-size="8.8" fill="#333" stroke="#333" stroke-width="0.1" text-anchor="end">0</text>
<text x="27.2" y="467.9" font-size="8.8" fill="#333" stroke="#333" stroke-width="0.1" text-anchor="end">−1</text>
<text x="27.2" y="477.7" font-size="8.8" fill="#333" stroke="#333" stroke-width="0.1" text-anchor="end">−2</text>
<text x="53.1" y="421.3" font-size="8.6" fill="#222" stroke="#222" stroke-width="0.12" transform="rotate(-60 53.1 421.3)">Itpkb</text>
<text x="62.0" y="421.3" font-size="8.6" fill="#222" stroke="#222" stroke-width="0.12" transform="rotate(-60 62.0 421.3)">Bcl6</text>
<text x="71.0" y="421.3" font-size="8.6" fill="#222" stroke="#222" stroke-width="0.12" transform="rotate(-60 71.0 421.3)">Mybl1</text>
<text x="79.9" y="421.3" font-size="8.6" fill="#222" stroke="#222" stroke-width="0.12" transform="rotate(-60 79.9 421.3)">Dennd3</text>
<text x="88.8" y="421.3" font-size="8.6" fill="#222" stroke="#222" stroke-width="0.12" transform="rotate(-60 88.8 421.3)">Nek6</text>
<text x="97.8" y="421.3" font-size="8.6" fill="#222" stroke="#222" stroke-width="0.12" transform="rotate(-60 97.8 421.3)">Lmo2</text>
<text x="106.7" y="421.3" font-size="8.6" fill="#222" stroke="#222" stroke-width="0.12" transform="rotate(-60 106.7 421.3)">Lrmp</text>
<text x="117.4" y="421.3" font-size="8.6" fill="#222" stroke="#222" stroke-width="0.12" transform="rotate(-60 117.4 421.3)">Sh3bp5</text>
<text x="126.2" y="421.3" font-size="8.6" fill="#222" stroke="#222" stroke-width="0.12" transform="rotate(-60 126.2 421.3)">Irf4</text>
<text x="135.1" y="421.3" font-size="8.6" fill="#222" stroke="#222" stroke-width="0.12" transform="rotate(-60 135.1 421.3)">Pim1</text>
<text x="143.9" y="421.3" font-size="8.6" fill="#222" stroke="#222" stroke-width="0.12" transform="rotate(-60 143.9 421.3)">Entpd1</text>
<text x="152.7" y="421.3" font-size="8.6" fill="#222" stroke="#222" stroke-width="0.12" transform="rotate(-60 152.7 421.3)">Blink</text>
<text x="161.5" y="421.3" font-size="8.6" fill="#222" stroke="#222" stroke-width="0.12" transform="rotate(-60 161.5 421.3)">Ccnd2</text>
<text x="170.4" y="421.3" font-size="8.6" fill="#222" stroke="#222" stroke-width="0.12" transform="rotate(-60 170.4 421.3)">Etv6</text>
<text x="179.2" y="421.3" font-size="8.6" fill="#222" stroke="#222" stroke-width="0.12" transform="rotate(-60 179.2 421.3)">Fut8</text>
<text x="188.0" y="421.3" font-size="8.6" fill="#222" stroke="#222" stroke-width="0.12" transform="rotate(-60 188.0 421.3)">Bmf</text>
<text x="196.9" y="421.3" font-size="8.6" fill="#222" stroke="#222" stroke-width="0.12" transform="rotate(-60 196.9 421.3)">Il16</text>
<text x="205.7" y="421.3" font-size="8.6" fill="#222" stroke="#222" stroke-width="0.12" transform="rotate(-60 205.7 421.3)">Ptpn1</text>
<rect x="48.9" y="485.0" width="61.8" height="6.6" fill="#dcebd5"/>
<text x="79.8" y="490.5" font-size="7.2" fill="#555" stroke="#555" stroke-width="0.1" text-anchor="middle" font-style="italic">GCB genes</text>
<rect x="113.2" y="485.0" width="97.3" height="7.2" fill="#2e9a4a"/>
<text x="161.8" y="491.0" font-size="7.2" fill="#fff" stroke="#fff" stroke-width="0.1" text-anchor="middle">ABC genes</text>
<rect x="213.3" y="424.3" width="13.3" height="23.5" fill="#fff" stroke="#777" stroke-width="0.5"/>
<line x1="213.3" y1="430.2" x2="226.6" y2="430.2" stroke="#aaa" stroke-width="0.4"/>
<line x1="213.3" y1="436.0" x2="226.6" y2="436.0" stroke="#aaa" stroke-width="0.4"/>
<line x1="213.3" y1="441.9" x2="226.6" y2="441.9" stroke="#aaa" stroke-width="0.4"/>
<text x="220" y="436" font-size="8" font-weight="bold" fill="#333" text-anchor="middle" transform="rotate(90 220 436)" dy="2.8">GCB</text>
<rect x="213.3" y="449.3" width="13.3" height="5.7" fill="#2a8a42"/>
<rect x="213.3" y="455.0" width="13.3" height="5.7" fill="#237a3a"/>
<rect x="213.3" y="460.6" width="13.3" height="5.7" fill="#0f4a20"/>
<rect x="213.3" y="466.3" width="13.3" height="5.7" fill="#0a3416"/>
<rect x="213.3" y="472.0" width="13.3" height="5.7" fill="#2e9446"/>
<rect x="213.3" y="477.7" width="13.3" height="5.7" fill="#48ac5a"/>
<text x="220" y="466" font-size="8" font-weight="bold" fill="#fff" text-anchor="middle" transform="rotate(90 220 466)" dy="2.8">ABC</text>
<text x="221" y="420" font-size="8" fill="#3aa85a" stroke="#3aa85a" stroke-width="0.12" transform="rotate(-60 221 420)">COO scores</text>
<text x="234" y="421.5" font-size="7.9" fill="#222" stroke="#222" stroke-width="0.12" transform="rotate(-60 234 421.5)">specimen</text>
<rect x="229.6" y="424.3" width="5.6" height="23.3" fill="#c0c0c0"/>
<rect x="229.6" y="449.3" width="5.6" height="5.7" fill="#1f4e8a"/>
<rect x="229.6" y="455.0" width="5.6" height="17.0" fill="#c0102a"/>
<rect x="229.6" y="472.0" width="5.6" height="11.3" fill="#1f4e8a"/>
<rect x="229.6" y="424.3" width="5.6" height="5.8" fill="none" stroke="#e8e8e8" stroke-width="0.7"/>
<rect x="229.6" y="430.1" width="5.6" height="5.8" fill="none" stroke="#e8e8e8" stroke-width="0.7"/>
<rect x="229.6" y="436.0" width="5.6" height="5.8" fill="none" stroke="#e8e8e8" stroke-width="0.7"/>
<rect x="229.6" y="441.8" width="5.6" height="5.8" fill="none" stroke="#e8e8e8" stroke-width="0.7"/>
<rect x="229.6" y="424.3" width="5.6" height="23.3" fill="none" stroke="#555" stroke-width="0.6"/>
<rect x="229.6" y="449.3" width="5.6" height="34.0" fill="none" stroke="#444" stroke-width="0.6"/>
<rect x="244.2" y="439.5" width="4.0" height="4.0" fill="#c4c4c4"/>
<text x="249.8" y="444.6" font-size="8.2" fill="#bbb" stroke="#bbb" stroke-width="0.1">YC</text>
<rect x="244.2" y="450.0" width="4.0" height="4.0" fill="#c0102a"/>
<text x="249.8" y="454.4" font-size="8.2" fill="#c0203f" stroke="#c0203f" stroke-width="0.1">pBIC</text>
<rect x="244.2" y="460.3" width="4.0" height="4.0" fill="#1f4e8a"/>
<text x="249.8" y="464.6" font-size="8.2" fill="#2c5d91">pBIC<tspan font-size="5.4" dy="-3">Δ10</tspan></text>
<text x="285.0" y="386.5" font-size="11" fill="#111" stroke="#111" stroke-width="0.1" font-weight="bold">H</text>
<text x="304.5" y="419.5" font-size="7.9" fill="#222" stroke="#222" stroke-width="0.12" transform="rotate(-60 304.5 419.5)">specimen</text>
<text x="371.0" y="411.5" font-size="10" fill="#333" stroke="#333" stroke-width="0.1" textLength="39" lengthAdjust="spacingAndGlyphs">Ig genes</text>
<rect x="297.4" y="421.5" width="6.2" height="25.0" fill="#c0c0c0"/>
<rect x="297.4" y="448.0" width="6.2" height="18.8" fill="#c0102a"/>
<rect x="297.4" y="466.8" width="6.2" height="18.8" fill="#1f4e8a"/>
<rect x="297.4" y="421.5" width="6.2" height="6.2" fill="none" stroke="#e8e8e8" stroke-width="0.7"/>
<rect x="297.4" y="427.8" width="6.2" height="6.2" fill="none" stroke="#e8e8e8" stroke-width="0.7"/>
<rect x="297.4" y="434.0" width="6.2" height="6.2" fill="none" stroke="#e8e8e8" stroke-width="0.7"/>
<rect x="297.4" y="440.2" width="6.2" height="6.2" fill="none" stroke="#e8e8e8" stroke-width="0.7"/>
<rect x="297.4" y="421.5" width="6.2" height="25.0" fill="none" stroke="#555" stroke-width="0.6"/>
<rect x="297.4" y="448.0" width="6.2" height="37.6" fill="none" stroke="#444" stroke-width="0.6"/>
<rect x="305.00" y="421.5" width="1.50" height="6.25" fill="#d6604d"/><rect x="306.45" y="421.5" width="1.50" height="6.25" fill="#d6604d"/><rect x="307.90" y="421.5" width="0.15" height="6.25" fill="#d6604d"/><rect x="308.00" y="421.5" width="1.50" height="6.25" fill="#e8866c"/><rect x="309.45" y="421.5" width="1.50" height="6.25" fill="#f4a582"/><rect x="310.90" y="421.5" width="1.50" height="6.25" fill="#e8866c"/><rect x="312.35" y="421.5" width="1.50" height="6.25" fill="#f9c4a8"/><rect x="313.80" y="421.5" width="1.50" height="6.25" fill="#f4a582"/><rect x="315.25" y="421.5" width="1.50" height="6.25" fill="#e8866c"/><rect x="316.70" y="421.5" width="1.50" height="6.25" fill="#f4a582"/><rect x="318.15" y="421.5" width="1.50" height="6.25" fill="#e8866c"/><rect x="319.60" y="421.5" width="0.45" height="6.25" fill="#f9c4a8"/><rect x="320.00" y="421.5" width="1.50" height="6.25" fill="#d6604d"/><rect x="321.45" y="421.5" width="1.50" height="6.25" fill="#d6604d"/><rect x="322.90" y="421.5" width="1.15" height="6.25" fill="#d6604d"/><rect x="324.00" y="421.5" width="1.50" height="6.25" fill="#f4a582"/><rect x="325.45" y="421.5" width="0.60" height="6.25" fill="#f9c4a8"/><rect x="326.00" y="421.5" width="1.50" height="6.25" fill="#f8f4f2"/><rect x="327.45" y="421.5" width="1.50" height="6.25" fill="#f8f4f2"/><rect x="328.90" y="421.5" width="1.50" height="6.25" fill="#fddbc7"/><rect x="330.35" y="421.5" width="1.50" height="6.25" fill="#f8f4f2"/><rect x="331.80" y="421.5" width="1.50" height="6.25" fill="#f8f4f2"/><rect x="333.25" y="421.5" width="1.50" height="6.25" fill="#f8f4f2"/><rect x="334.70" y="421.5" width="1.50" height="6.25" fill="#f8f4f2"/><rect x="336.15" y="421.5" width="1.50" height="6.25" fill="#f8f4f2"/><rect x="337.60" y="421.5" width="1.50" height="6.25" fill="#f8f4f2"/><rect x="339.05" y="421.5" width="1.50" height="6.25" fill="#f8f4f2"/><rect x="340.50" y="421.5" width="1.50" height="6.25" fill="#fddbc7"/><rect x="341.95" y="421.5" width="1.50" height="6.25" fill="#f8f4f2"/><rect x="343.40" y="421.5" width="1.50" height="6.25" fill="#f8f4f2"/><rect x="344.85" y="421.5" width="0.20" height="6.25" fill="#fddbc7"/><rect x="345.00" y="421.5" width="1.50" height="6.25" fill="#f9c4a8"/><rect x="346.45" y="421.5" width="1.50" height="6.25" fill="#fddbc7"/><rect x="347.90" y="421.5" width="1.50" height="6.25" fill="#f9c4a8"/><rect x="349.35" y="421.5" width="1.50" height="6.25" fill="#fddbc7"/><rect x="350.80" y="421.5" width="1.50" height="6.25" fill="#fddbc7"/><rect x="352.25" y="421.5" width="1.50" height="6.25" fill="#fddbc7"/><rect x="353.70" y="421.5" width="1.50" height="6.25" fill="#f9c4a8"/><rect x="355.15" y="421.5" width="1.50" height="6.25" fill="#fddbc7"/><rect x="356.60" y="421.5" width="1.50" height="6.25" fill="#f9c4a8"/><rect x="358.05" y="421.5" width="1.50" height="6.25" fill="#f9c4a8"/><rect x="359.50" y="421.5" width="0.55" height="6.25" fill="#fddbc7"/><rect x="360.00" y="421.5" width="1.50" height="6.25" fill="#f9c4a8"/><rect x="361.45" y="421.5" width="1.50" height="6.25" fill="#fddbc7"/><rect x="362.90" y="421.5" width="1.50" height="6.25" fill="#fddbc7"/><rect x="364.35" y="421.5" width="1.50" height="6.25" fill="#fddbc7"/><rect x="365.80" y="421.5" width="1.50" height="6.25" fill="#f9c4a8"/><rect x="367.25" y="421.5" width="1.50" height="6.25" fill="#f9c4a8"/><rect x="368.70" y="421.5" width="1.50" height="6.25" fill="#fddbc7"/><rect x="370.15" y="421.5" width="1.50" height="6.25" fill="#f9c4a8"/><rect x="371.60" y="421.5" width="1.50" height="6.25" fill="#f9c4a8"/><rect x="373.05" y="421.5" width="1.50" height="6.25" fill="#f9c4a8"/><rect x="374.50" y="421.5" width="1.50" height="6.25" fill="#f9c4a8"/><rect x="375.95" y="421.5" width="1.50" height="6.25" fill="#f9c4a8"/><rect x="377.40" y="421.5" width="1.50" height="6.25" fill="#f9c4a8"/><rect x="378.85" y="421.5" width="1.20" height="6.25" fill="#f9c4a8"/><rect x="380.00" y="421.5" width="1.50" height="6.25" fill="#f8f4f2"/><rect x="381.45" y="421.5" width="1.50" height="6.25" fill="#f8f4f2"/><rect x="382.90" y="421.5" width="1.50" height="6.25" fill="#fddbc7"/><rect x="384.35" y="421.5" width="1.50" height="6.25" fill="#f8f4f2"/><rect x="385.80" y="421.5" width="1.50" height="6.25" fill="#f8f4f2"/><rect x="387.25" y="421.5" width="1.50" height="6.25" fill="#f8f4f2"/><rect x="388.70" y="421.5" width="1.50" height="6.25" fill="#f8f4f2"/><rect x="390.15" y="421.5" width="1.50" height="6.25" fill="#f8f4f2"/><rect x="391.60" y="421.5" width="1.50" height="6.25" fill="#f8f4f2"/><rect x="393.05" y="421.5" width="1.50" height="6.25" fill="#f8f4f2"/><rect x="394.50" y="421.5" width="1.50" height="6.25" fill="#f8f4f2"/><rect x="395.95" y="421.5" width="1.50" height="6.25" fill="#f8f4f2"/><rect x="397.40" y="421.5" width="1.50" height="6.25" fill="#f8f4f2"/><rect x="398.85" y="421.5" width="1.20" height="6.25" fill="#fddbc7"/><rect x="400.00" y="421.5" width="1.50" height="6.25" fill="#e8866c"/><rect x="401.45" y="421.5" width="1.50" height="6.25" fill="#e8866c"/><rect x="402.90" y="421.5" width="1.15" height="6.25" fill="#d6604d"/><rect x="404.00" y="421.5" width="1.50" height="6.25" fill="#b8182e"/><rect x="405.45" y="421.5" width="1.50" height="6.25" fill="#b8182e"/><rect x="406.90" y="421.5" width="1.15" height="6.25" fill="#b8182e"/><rect x="408.00" y="421.5" width="1.50" height="6.25" fill="#d6604d"/><rect x="409.45" y="421.5" width="1.50" height="6.25" fill="#d6604d"/><rect x="410.90" y="421.5" width="1.15" height="6.25" fill="#e8866c"/><rect x="412.00" y="421.5" width="1.50" height="6.25" fill="#b8182e"/><rect x="413.45" y="421.5" width="1.50" height="6.25" fill="#b8182e"/><rect x="414.90" y="421.5" width="1.15" height="6.25" fill="#b8182e"/><rect x="416.00" y="421.5" width="1.50" height="6.25" fill="#f9c4a8"/><rect x="417.45" y="421.5" width="1.50" height="6.25" fill="#e8866c"/><rect x="418.90" y="421.5" width="1.15" height="6.25" fill="#f9c4a8"/><rect x="420.00" y="421.5" width="1.50" height="6.25" fill="#d6604d"/><rect x="421.45" y="421.5" width="1.50" height="6.25" fill="#d6604d"/><rect x="422.90" y="421.5" width="1.15" height="6.25" fill="#b8182e"/><rect x="424.00" y="421.5" width="1.50" height="6.25" fill="#e8866c"/><rect x="425.45" y="421.5" width="1.50" height="6.25" fill="#d6604d"/><rect x="426.90" y="421.5" width="1.15" height="6.25" fill="#e8866c"/><rect x="428.00" y="421.5" width="1.50" height="6.25" fill="#b8182e"/><rect x="429.45" y="421.5" width="1.50" height="6.25" fill="#b8182e"/><rect x="430.90" y="421.5" width="1.50" height="6.25" fill="#b8182e"/><rect x="432.35" y="421.5" width="1.50" height="6.25" fill="#d6604d"/><rect x="433.80" y="421.5" width="1.50" height="6.25" fill="#b8182e"/><rect x="435.25" y="421.5" width="0.80" height="6.25" fill="#b8182e"/><rect x="436.00" y="421.5" width="1.50" height="6.25" fill="#fddbc7"/><rect x="437.45" y="421.5" width="1.50" height="6.25" fill="#f8f4f2"/><rect x="438.90" y="421.5" width="1.15" height="6.25" fill="#f8f4f2"/><rect x="440.00" y="421.5" width="1.50" height="6.25" fill="#f4a582"/><rect x="441.45" y="421.5" width="1.50" height="6.25" fill="#f9c4a8"/><rect x="442.90" y="421.5" width="1.50" height="6.25" fill="#f9c4a8"/><rect x="444.35" y="421.5" width="1.50" height="6.25" fill="#f9c4a8"/><rect x="445.80" y="421.5" width="1.50" height="6.25" fill="#f9c4a8"/><rect x="447.25" y="421.5" width="1.50" height="6.25" fill="#f9c4a8"/><rect x="448.70" y="421.5" width="1.35" height="6.25" fill="#f9c4a8"/><rect x="450.00" y="421.5" width="1.50" height="6.25" fill="#f4a582"/><rect x="451.45" y="421.5" width="1.50" height="6.25" fill="#f9c4a8"/><rect x="452.90" y="421.5" width="0.15" height="6.25" fill="#e8866c"/><rect x="453.00" y="421.5" width="1.50" height="6.25" fill="#d6604d"/><rect x="454.45" y="421.5" width="1.50" height="6.25" fill="#b8182e"/><rect x="455.90" y="421.5" width="1.50" height="6.25" fill="#b8182e"/><rect x="457.35" y="421.5" width="1.50" height="6.25" fill="#b8182e"/><rect x="458.80" y="421.5" width="1.50" height="6.25" fill="#b8182e"/><rect x="460.25" y="421.5" width="1.50" height="6.25" fill="#b8182e"/><rect x="461.70" y="421.5" width="0.35" height="6.25" fill="#b8182e"/><rect x="462.00" y="421.5" width="1.50" height="6.25" fill="#e2edf5"/><rect x="463.45" y="421.5" width="1.50" height="6.25" fill="#d1e5f0"/><rect x="464.90" y="421.5" width="1.50" height="6.25" fill="#e2edf5"/><rect x="466.35" y="421.5" width="1.50" height="6.25" fill="#d1e5f0"/><rect x="467.80" y="421.5" width="1.50" height="6.25" fill="#e2edf5"/><rect x="469.25" y="421.5" width="1.50" height="6.25" fill="#e2edf5"/><rect x="470.70" y="421.5" width="1.50" height="6.25" fill="#e2edf5"/><rect x="472.15" y="421.5" width="1.50" height="6.25" fill="#e2edf5"/><rect x="473.60" y="421.5" width="1.50" height="6.25" fill="#e2edf5"/><rect x="475.05" y="421.5" width="1.50" height="6.25" fill="#e2edf5"/><rect x="476.50" y="421.5" width="1.50" height="6.25" fill="#e2edf5"/><rect x="477.95" y="421.5" width="1.50" height="6.25" fill="#e2edf5"/><rect x="479.40" y="421.5" width="1.50" height="6.25" fill="#e2edf5"/><rect x="480.85" y="421.5" width="1.50" height="6.25" fill="#e2edf5"/><rect x="482.30" y="421.5" width="0.75" height="6.25" fill="#e2edf5"/><rect x="305.00" y="427.7" width="1.50" height="6.25" fill="#fddbc7"/><rect x="306.45" y="427.7" width="1.50" height="6.25" fill="#f8f4f2"/><rect x="307.90" y="427.7" width="1.50" height="6.25" fill="#fddbc7"/><rect x="309.35" y="427.7" width="0.70" height="6.25" fill="#f9c4a8"/><rect x="310.00" y="427.7" width="1.50" height="6.25" fill="#fddbc7"/><rect x="311.45" y="427.7" width="1.50" height="6.25" fill="#f8f4f2"/><rect x="312.90" y="427.7" width="1.50" height="6.25" fill="#f8f4f2"/><rect x="314.35" y="427.7" width="1.50" height="6.25" fill="#f8f4f2"/><rect x="315.80" y="427.7" width="1.50" height="6.25" fill="#f8f4f2"/><rect x="317.25" y="427.7" width="1.50" height="6.25" fill="#f8f4f2"/><rect x="318.70" y="427.7" width="1.50" height="6.25" fill="#f8f4f2"/><rect x="320.15" y="427.7" width="1.50" height="6.25" fill="#fddbc7"/><rect x="321.60" y="427.7" width="1.50" height="6.25" fill="#f8f4f2"/><rect x="323.05" y="427.7" width="1.00" height="6.25" fill="#f8f4f2"/><rect x="324.00" y="427.7" width="1.50" height="6.25" fill="#f4a582"/><rect x="325.45" y="427.7" width="1.10" height="6.25" fill="#f4a582"/><rect x="326.50" y="427.7" width="1.50" height="6.25" fill="#f8f4f2"/><rect x="327.95" y="427.7" width="1.50" height="6.25" fill="#f8f4f2"/><rect x="329.40" y="427.7" width="1.50" height="6.25" fill="#f8f4f2"/><rect x="330.85" y="427.7" width="1.50" height="6.25" fill="#f8f4f2"/><rect x="332.30" y="427.7" width="1.50" height="6.25" fill="#f8f4f2"/><rect x="333.75" y="427.7" width="1.50" height="6.25" fill="#f8f4f2"/><rect x="335.20" y="427.7" width="1.50" height="6.25" fill="#f8f4f2"/><rect x="336.65" y="427.7" width="1.50" height="6.25" fill="#f8f4f2"/><rect x="338.10" y="427.7" width="1.50" height="6.25" fill="#f8f4f2"/><rect x="339.55" y="427.7" width="1.50" height="6.25" fill="#fddbc7"/><rect x="341.00" y="427.7" width="1.50" height="6.25" fill="#f8f4f2"/><rect x="342.45" y="427.7" width="1.50" height="6.25" fill="#f8f4f2"/><rect x="343.90" y="427.7" width="1.50" height="6.25" fill="#f8f4f2"/><rect x="345.35" y="427.7" width="1.50" height="6.25" fill="#f8f4f2"/><rect x="346.80" y="427.7" width="1.50" height="6.25" fill="#f8f4f2"/><rect x="348.25" y="427.7" width="1.50" height="6.25" fill="#f8f4f2"/><rect x="349.70" y="427.7" width="1.50" height="6.25" fill="#f8f4f2"/><rect x="351.15" y="427.7" width="1.50" height="6.25" fill="#f8f4f2"/><rect x="352.60" y="427.7" width="1.50" height="6.25" fill="#f8f4f2"/><rect x="354.05" y="427.7" width="1.50" height="6.25" fill="#f8f4f2"/><rect x="355.50" y="427.7" width="1.50" height="6.25" fill="#f8f4f2"/><rect x="356.95" y="427.7" width="1.50" height="6.25" fill="#f8f4f2"/><rect x="358.40" y="427.7" width="1.50" height="6.25" fill="#f8f4f2"/><rect x="359.85" y="427.7" width="1.50" height="6.25" fill="#f8f4f2"/><rect x="361.30" y="427.7" width="1.50" height="6.25" fill="#f8f4f2"/><rect x="362.75" y="427.7" width="1.50" height="6.25" fill="#f8f4f2"/><rect x="364.20" y="427.7" width="1.50" height="6.25" fill="#fddbc7"/><rect x="365.65" y="427.7" width="1.50" height="6.25" fill="#f8f4f2"/><rect x="367.10" y="427.7" width="1.50" height="6.25" fill="#fddbc7"/><rect x="368.55" y="427.7" width="1.50" height="6.25" fill="#fddbc7"/><rect x="370.00" y="427.7" width="1.50" height="6.25" fill="#f8f4f2"/><rect x="371.45" y="427.7" width="1.50" height="6.25" fill="#f8f4f2"/><rect x="372.90" y="427.7" width="1.50" height="6.25" fill="#f8f4f2"/><rect x="374.35" y="427.7" width="1.50" height="6.25" fill="#f8f4f2"/><rect x="375.80" y="427.7" width="1.50" height="6.25" fill="#fddbc7"/><rect x="377.25" y="427.7" width="1.50" height="6.25" fill="#f8f4f2"/><rect x="378.70" y="427.7" width="1.50" height="6.25" fill="#f8f4f2"/><rect x="380.15" y="427.7" width="1.50" height="6.25" fill="#f8f4f2"/><rect x="381.60" y="427.7" width="1.50" height="6.25" fill="#f8f4f2"/><rect x="383.05" y="427.7" width="1.50" height="6.25" fill="#f8f4f2"/><rect x="384.50" y="427.7" width="1.50" height="6.25" fill="#f8f4f2"/><rect x="385.95" y="427.7" width="1.50" height="6.25" fill="#f8f4f2"/><rect x="387.40" y="427.7" width="1.50" height="6.25" fill="#f8f4f2"/><rect x="388.85" y="427.7" width="1.50" height="6.25" fill="#f8f4f2"/><rect x="390.30" y="427.7" width="1.50" height="6.25" fill="#f8f4f2"/><rect x="391.75" y="427.7" width="1.50" height="6.25" fill="#f8f4f2"/><rect x="393.20" y="427.7" width="1.50" height="6.25" fill="#f8f4f2"/><rect x="394.65" y="427.7" width="1.50" height="6.25" fill="#f8f4f2"/><rect x="396.10" y="427.7" width="1.50" height="6.25" fill="#f8f4f2"/><rect x="397.55" y="427.7" width="1.50" height="6.25" fill="#f8f4f2"/><rect x="399.00" y="427.7" width="1.05" height="6.25" fill="#f8f4f2"/><rect x="400.00" y="427.7" width="1.50" height="6.25" fill="#fddbc7"/><rect x="401.45" y="427.7" width="1.50" height="6.25" fill="#fddbc7"/><rect x="402.90" y="427.7" width="1.50" height="6.25" fill="#fddbc7"/><rect x="404.35" y="427.7" width="1.50" height="6.25" fill="#fddbc7"/><rect x="405.80" y="427.7" width="1.50" height="6.25" fill="#f8f4f2"/><rect x="407.25" y="427.7" width="1.50" height="6.25" fill="#fddbc7"/><rect x="408.70" y="427.7" width="1.50" height="6.25" fill="#fddbc7"/><rect x="410.15" y="427.7" width="1.50" height="6.25" fill="#f8f4f2"/><rect x="411.60" y="427.7" width="1.50" height="6.25" fill="#f8f4f2"/><rect x="413.05" y="427.7" width="1.50" height="6.25" fill="#fddbc7"/><rect x="414.50" y="427.7" width="1.50" height="6.25" fill="#fddbc7"/><rect x="415.95" y="427.7" width="1.50" height="6.25" fill="#fddbc7"/><rect x="417.40" y="427.7" width="1.50" height="6.25" fill="#f8f4f2"/><rect x="418.85" y="427.7" width="1.50" height="6.25" fill="#fddbc7"/><rect x="420.30" y="427.7" width="1.50" height="6.25" fill="#fddbc7"/><rect x="421.75" y="427.7" width="1.50" height="6.25" fill="#fddbc7"/><rect x="423.20" y="427.7" width="1.50" height="6.25" fill="#fddbc7"/><rect x="424.65" y="427.7" width="1.50" height="6.25" fill="#fddbc7"/><rect x="426.10" y="427.7" width="1.50" height="6.25" fill="#f9c4a8"/><rect x="427.55" y="427.7" width="1.50" height="6.25" fill="#f8f4f2"/><rect x="429.00" y="427.7" width="1.50" height="6.25" fill="#fddbc7"/><rect x="430.45" y="427.7" width="1.50" height="6.25" fill="#fddbc7"/><rect x="431.90" y="427.7" width="1.50" height="6.25" fill="#fddbc7"/><rect x="433.35" y="427.7" width="1.50" height="6.25" fill="#f8f4f2"/><rect x="434.80" y="427.7" width="1.25" height="6.25" fill="#fddbc7"/><rect x="436.00" y="427.7" width="1.50" height="6.25" fill="#b8182e"/><rect x="437.45" y="427.7" width="1.50" height="6.25" fill="#d6604d"/><rect x="438.90" y="427.7" width="1.50" height="6.25" fill="#b8182e"/><rect x="440.35" y="427.7" width="0.70" height="6.25" fill="#d6604d"/><rect x="441.00" y="427.7" width="1.50" height="6.25" fill="#fddbc7"/><rect x="442.45" y="427.7" width="1.50" height="6.25" fill="#fddbc7"/><rect x="443.90" y="427.7" width="1.50" height="6.25" fill="#fddbc7"/><rect x="445.35" y="427.7" width="1.50" height="6.25" fill="#f9c4a8"/><rect x="446.80" y="427.7" width="1.50" height="6.25" fill="#fddbc7"/><rect x="448.25" y="427.7" width="1.50" height="6.25" fill="#fddbc7"/><rect x="449.70" y="427.7" width="0.35" height="6.25" fill="#fddbc7"/><rect x="450.00" y="427.7" width="1.50" height="6.25" fill="#e2edf5"/><rect x="451.45" y="427.7" width="1.50" height="6.25" fill="#e2edf5"/><rect x="452.90" y="427.7" width="1.50" height="6.25" fill="#d1e5f0"/><rect x="454.35" y="427.7" width="1.50" height="6.25" fill="#e2edf5"/><rect x="455.80" y="427.7" width="1.50" height="6.25" fill="#e2edf5"/><rect x="457.25" y="427.7" width="1.50" height="6.25" fill="#e2edf5"/><rect x="458.70" y="427.7" width="1.50" height="6.25" fill="#e2edf5"/><rect x="460.15" y="427.7" width="1.50" height="6.25" fill="#e2edf5"/><rect x="461.60" y="427.7" width="1.50" height="6.25" fill="#e2edf5"/><rect x="463.05" y="427.7" width="1.50" height="6.25" fill="#e2edf5"/><rect x="464.50" y="427.7" width="1.50" height="6.25" fill="#d1e5f0"/><rect x="465.95" y="427.7" width="1.50" height="6.25" fill="#d1e5f0"/><rect x="467.40" y="427.7" width="1.50" height="6.25" fill="#e2edf5"/><rect x="468.85" y="427.7" width="1.50" height="6.25" fill="#e2edf5"/><rect x="470.30" y="427.7" width="1.50" height="6.25" fill="#d1e5f0"/><rect x="471.75" y="427.7" width="1.50" height="6.25" fill="#e2edf5"/><rect x="473.20" y="427.7" width="1.50" height="6.25" fill="#e2edf5"/><rect x="474.65" y="427.7" width="1.50" height="6.25" fill="#e2edf5"/><rect x="476.10" y="427.7" width="1.50" height="6.25" fill="#e2edf5"/><rect x="477.55" y="427.7" width="1.50" height="6.25" fill="#e2edf5"/><rect x="479.00" y="427.7" width="1.50" height="6.25" fill="#e2edf5"/><rect x="480.45" y="427.7" width="1.50" height="6.25" fill="#e2edf5"/><rect x="481.90" y="427.7" width="1.15" height="6.25" fill="#e2edf5"/><rect x="305.00" y="433.9" width="1.50" height="6.35" fill="#f9c4a8"/><rect x="306.45" y="433.9" width="1.50" height="6.35" fill="#f9c4a8"/><rect x="307.90" y="433.9" width="1.50" height="6.35" fill="#fddbc7"/><rect x="309.35" y="433.9" width="1.50" height="6.35" fill="#fddbc7"/><rect x="310.80" y="433.9" width="1.25" height="6.35" fill="#f9c4a8"/><rect x="312.00" y="433.9" width="1.50" height="6.35" fill="#f4a582"/><rect x="313.45" y="433.9" width="1.50" height="6.35" fill="#f4a582"/><rect x="314.90" y="433.9" width="1.50" height="6.35" fill="#f4a582"/><rect x="316.35" y="433.9" width="1.50" height="6.35" fill="#e8866c"/><rect x="317.80" y="433.9" width="1.50" height="6.35" fill="#f4a582"/><rect x="319.25" y="433.9" width="1.50" height="6.35" fill="#f4a582"/><rect x="320.70" y="433.9" width="1.35" height="6.35" fill="#f4a582"/><rect x="322.00" y="433.9" width="1.50" height="6.35" fill="#f8f4f2"/><rect x="323.45" y="433.9" width="1.50" height="6.35" fill="#fddbc7"/><rect x="324.90" y="433.9" width="1.50" height="6.35" fill="#fddbc7"/><rect x="326.35" y="433.9" width="1.50" height="6.35" fill="#fddbc7"/><rect x="327.80" y="433.9" width="1.50" height="6.35" fill="#fddbc7"/><rect x="329.25" y="433.9" width="0.80" height="6.35" fill="#fddbc7"/><rect x="330.00" y="433.9" width="1.50" height="6.35" fill="#f8f4f2"/><rect x="331.45" y="433.9" width="1.50" height="6.35" fill="#f8f4f2"/><rect x="332.90" y="433.9" width="1.50" height="6.35" fill="#f8f4f2"/><rect x="334.35" y="433.9" width="1.50" height="6.35" fill="#fddbc7"/><rect x="335.80" y="433.9" width="1.50" height="6.35" fill="#f8f4f2"/><rect x="337.25" y="433.9" width="1.50" height="6.35" fill="#f8f4f2"/><rect x="338.70" y="433.9" width="1.50" height="6.35" fill="#f8f4f2"/><rect x="340.15" y="433.9" width="1.50" height="6.35" fill="#f8f4f2"/><rect x="341.60" y="433.9" width="1.50" height="6.35" fill="#fddbc7"/><rect x="343.05" y="433.9" width="1.50" height="6.35" fill="#f8f4f2"/><rect x="344.50" y="433.9" width="1.50" height="6.35" fill="#f8f4f2"/><rect x="345.95" y="433.9" width="1.50" height="6.35" fill="#f8f4f2"/><rect x="347.40" y="433.9" width="1.50" height="6.35" fill="#f8f4f2"/><rect x="348.85" y="433.9" width="1.20" height="6.35" fill="#f8f4f2"/><rect x="350.00" y="433.9" width="1.50" height="6.35" fill="#fddbc7"/><rect x="351.45" y="433.9" width="1.50" height="6.35" fill="#f8f4f2"/><rect x="352.90" y="433.9" width="1.50" height="6.35" fill="#fddbc7"/><rect x="354.35" y="433.9" width="1.50" height="6.35" fill="#fddbc7"/><rect x="355.80" y="433.9" width="1.25" height="6.35" fill="#fddbc7"/><rect x="357.00" y="433.9" width="1.50" height="6.35" fill="#e8866c"/><rect x="358.45" y="433.9" width="1.50" height="6.35" fill="#e8866c"/><rect x="359.90" y="433.9" width="1.50" height="6.35" fill="#e8866c"/><rect x="361.35" y="433.9" width="1.50" height="6.35" fill="#e8866c"/><rect x="362.80" y="433.9" width="1.50" height="6.35" fill="#e8866c"/><rect x="364.25" y="433.9" width="1.50" height="6.35" fill="#e8866c"/><rect x="365.70" y="433.9" width="1.50" height="6.35" fill="#e8866c"/><rect x="367.15" y="433.9" width="1.50" height="6.35" fill="#f4a582"/><rect x="368.60" y="433.9" width="1.50" height="6.35" fill="#e8866c"/><rect x="370.05" y="433.9" width="1.50" height="6.35" fill="#e8866c"/><rect x="371.50" y="433.9" width="1.50" height="6.35" fill="#d6604d"/><rect x="372.95" y="433.9" width="1.50" height="6.35" fill="#d6604d"/><rect x="374.40" y="433.9" width="1.50" height="6.35" fill="#e8866c"/><rect x="375.85" y="433.9" width="1.50" height="6.35" fill="#f4a582"/><rect x="377.30" y="433.9" width="1.50" height="6.35" fill="#e8866c"/><rect x="378.75" y="433.9" width="1.30" height="6.35" fill="#e8866c"/><rect x="380.00" y="433.9" width="1.50" height="6.35" fill="#b8182e"/><rect x="381.45" y="433.9" width="1.50" height="6.35" fill="#b8182e"/><rect x="382.90" y="433.9" width="1.50" height="6.35" fill="#b8182e"/><rect x="384.35" y="433.9" width="1.50" height="6.35" fill="#b8182e"/><rect x="385.80" y="433.9" width="1.50" height="6.35" fill="#b8182e"/><rect x="387.25" y="433.9" width="1.50" height="6.35" fill="#b8182e"/><rect x="388.70" y="433.9" width="1.50" height="6.35" fill="#b8182e"/><rect x="390.15" y="433.9" width="1.50" height="6.35" fill="#b8182e"/><rect x="391.60" y="433.9" width="1.50" height="6.35" fill="#b8182e"/><rect x="393.05" y="433.9" width="1.50" height="6.35" fill="#b8182e"/><rect x="394.50" y="433.9" width="1.50" height="6.35" fill="#b8182e"/><rect x="395.95" y="433.9" width="1.50" height="6.35" fill="#d6604d"/><rect x="397.40" y="433.9" width="1.50" height="6.35" fill="#b8182e"/><rect x="398.85" y="433.9" width="1.20" height="6.35" fill="#b8182e"/><rect x="400.00" y="433.9" width="1.50" height="6.35" fill="#e8866c"/><rect x="401.45" y="433.9" width="1.50" height="6.35" fill="#e8866c"/><rect x="402.90" y="433.9" width="1.50" height="6.35" fill="#e8866c"/><rect x="404.35" y="433.9" width="1.50" height="6.35" fill="#d6604d"/><rect x="405.80" y="433.9" width="1.50" height="6.35" fill="#f4a582"/><rect x="407.25" y="433.9" width="1.50" height="6.35" fill="#e8866c"/><rect x="408.70" y="433.9" width="1.35" height="6.35" fill="#e8866c"/><rect x="410.00" y="433.9" width="1.50" height="6.35" fill="#f9c4a8"/><rect x="411.45" y="433.9" width="1.50" height="6.35" fill="#f9c4a8"/><rect x="412.90" y="433.9" width="1.50" height="6.35" fill="#fddbc7"/><rect x="414.35" y="433.9" width="1.50" height="6.35" fill="#f9c4a8"/><rect x="415.80" y="433.9" width="1.50" height="6.35" fill="#f9c4a8"/><rect x="417.25" y="433.9" width="1.50" height="6.35" fill="#fddbc7"/><rect x="418.70" y="433.9" width="1.50" height="6.35" fill="#f9c4a8"/><rect x="420.15" y="433.9" width="0.90" height="6.35" fill="#f9c4a8"/><rect x="421.00" y="433.9" width="1.50" height="6.35" fill="#d6604d"/><rect x="422.45" y="433.9" width="1.50" height="6.35" fill="#d6604d"/><rect x="423.90" y="433.9" width="1.50" height="6.35" fill="#e8866c"/><rect x="425.35" y="433.9" width="0.70" height="6.35" fill="#d6604d"/><rect x="426.00" y="433.9" width="1.50" height="6.35" fill="#f4a582"/><rect x="427.45" y="433.9" width="1.50" height="6.35" fill="#f4a582"/><rect x="428.90" y="433.9" width="1.50" height="6.35" fill="#f9c4a8"/><rect x="430.35" y="433.9" width="1.50" height="6.35" fill="#fddbc7"/><rect x="431.80" y="433.9" width="1.50" height="6.35" fill="#f9c4a8"/><rect x="433.25" y="433.9" width="1.50" height="6.35" fill="#f9c4a8"/><rect x="434.70" y="433.9" width="1.50" height="6.35" fill="#f9c4a8"/><rect x="436.15" y="433.9" width="1.50" height="6.35" fill="#f4a582"/><rect x="437.60" y="433.9" width="1.50" height="6.35" fill="#f9c4a8"/><rect x="439.05" y="433.9" width="1.00" height="6.35" fill="#fddbc7"/><rect x="440.00" y="433.9" width="1.50" height="6.35" fill="#e8866c"/><rect x="441.45" y="433.9" width="1.50" height="6.35" fill="#d6604d"/><rect x="442.90" y="433.9" width="1.50" height="6.35" fill="#f4a582"/><rect x="444.35" y="433.9" width="1.50" height="6.35" fill="#e8866c"/><rect x="445.80" y="433.9" width="0.25" height="6.35" fill="#e8866c"/><rect x="446.00" y="433.9" width="1.50" height="6.35" fill="#e8866c"/><rect x="447.45" y="433.9" width="1.50" height="6.35" fill="#d6604d"/><rect x="448.90" y="433.9" width="1.50" height="6.35" fill="#e8866c"/><rect x="450.35" y="433.9" width="0.70" height="6.35" fill="#e8866c"/><rect x="451.00" y="433.9" width="1.50" height="6.35" fill="#e2edf5"/><rect x="452.45" y="433.9" width="1.50" height="6.35" fill="#d1e5f0"/><rect x="453.90" y="433.9" width="1.50" height="6.35" fill="#d1e5f0"/><rect x="455.35" y="433.9" width="1.50" height="6.35" fill="#e2edf5"/><rect x="456.80" y="433.9" width="1.50" height="6.35" fill="#e2edf5"/><rect x="458.25" y="433.9" width="1.50" height="6.35" fill="#e2edf5"/><rect x="459.70" y="433.9" width="1.50" height="6.35" fill="#d1e5f0"/><rect x="461.15" y="433.9" width="1.50" height="6.35" fill="#e2edf5"/><rect x="462.60" y="433.9" width="1.50" height="6.35" fill="#e2edf5"/><rect x="464.05" y="433.9" width="1.50" height="6.35" fill="#e2edf5"/><rect x="465.50" y="433.9" width="1.50" height="6.35" fill="#e2edf5"/><rect x="466.95" y="433.9" width="1.50" height="6.35" fill="#e2edf5"/><rect x="468.40" y="433.9" width="1.50" height="6.35" fill="#e2edf5"/><rect x="469.85" y="433.9" width="1.50" height="6.35" fill="#d1e5f0"/><rect x="471.30" y="433.9" width="1.50" height="6.35" fill="#e2edf5"/><rect x="472.75" y="433.9" width="1.50" height="6.35" fill="#d1e5f0"/><rect x="474.20" y="433.9" width="1.50" height="6.35" fill="#e2edf5"/><rect x="475.65" y="433.9" width="1.50" height="6.35" fill="#e2edf5"/><rect x="477.10" y="433.9" width="1.50" height="6.35" fill="#e2edf5"/><rect x="478.55" y="433.9" width="1.50" height="6.35" fill="#e2edf5"/><rect x="480.00" y="433.9" width="1.50" height="6.35" fill="#e2edf5"/><rect x="481.45" y="433.9" width="1.50" height="6.35" fill="#e2edf5"/><rect x="482.90" y="433.9" width="0.15" height="6.35" fill="#e2edf5"/><rect x="305.00" y="440.2" width="1.50" height="6.35" fill="#e8866c"/><rect x="306.45" y="440.2" width="1.50" height="6.35" fill="#e8866c"/><rect x="307.90" y="440.2" width="1.50" height="6.35" fill="#e8866c"/><rect x="309.35" y="440.2" width="0.70" height="6.35" fill="#f4a582"/><rect x="310.00" y="440.2" width="1.50" height="6.35" fill="#b8182e"/><rect x="311.45" y="440.2" width="1.50" height="6.35" fill="#b8182e"/><rect x="312.90" y="440.2" width="0.15" height="6.35" fill="#b8182e"/><rect x="313.00" y="440.2" width="1.50" height="6.35" fill="#f9c4a8"/><rect x="314.45" y="440.2" width="1.50" height="6.35" fill="#f4a582"/><rect x="315.90" y="440.2" width="1.50" height="6.35" fill="#f4a582"/><rect x="317.35" y="440.2" width="1.50" height="6.35" fill="#f9c4a8"/><rect x="318.80" y="440.2" width="1.25" height="6.35" fill="#f4a582"/><rect x="320.00" y="440.2" width="1.50" height="6.35" fill="#e8866c"/><rect x="321.45" y="440.2" width="1.50" height="6.35" fill="#e8866c"/><rect x="322.90" y="440.2" width="1.50" height="6.35" fill="#d6604d"/><rect x="324.35" y="440.2" width="1.50" height="6.35" fill="#d6604d"/><rect x="325.80" y="440.2" width="1.50" height="6.35" fill="#b8182e"/><rect x="327.25" y="440.2" width="1.30" height="6.35" fill="#d6604d"/><rect x="328.50" y="440.2" width="1.50" height="6.35" fill="#b8182e"/><rect x="329.95" y="440.2" width="1.50" height="6.35" fill="#b8182e"/><rect x="331.40" y="440.2" width="1.50" height="6.35" fill="#d6604d"/><rect x="332.85" y="440.2" width="1.50" height="6.35" fill="#b8182e"/><rect x="334.30" y="440.2" width="1.50" height="6.35" fill="#d6604d"/><rect x="335.75" y="440.2" width="1.50" height="6.35" fill="#b8182e"/><rect x="337.20" y="440.2" width="1.50" height="6.35" fill="#b8182e"/><rect x="338.65" y="440.2" width="1.50" height="6.35" fill="#b8182e"/><rect x="340.10" y="440.2" width="1.50" height="6.35" fill="#b8182e"/><rect x="341.55" y="440.2" width="1.50" height="6.35" fill="#b8182e"/><rect x="343.00" y="440.2" width="1.50" height="6.35" fill="#b8182e"/><rect x="344.45" y="440.2" width="1.50" height="6.35" fill="#b8182e"/><rect x="345.90" y="440.2" width="1.50" height="6.35" fill="#b8182e"/><rect x="347.35" y="440.2" width="1.50" height="6.35" fill="#b8182e"/><rect x="348.80" y="440.2" width="1.50" height="6.35" fill="#b8182e"/><rect x="350.25" y="440.2" width="1.50" height="6.35" fill="#b8182e"/><rect x="351.70" y="440.2" width="1.50" height="6.35" fill="#b8182e"/><rect x="353.15" y="440.2" width="1.50" height="6.35" fill="#b8182e"/><rect x="354.60" y="440.2" width="1.50" height="6.35" fill="#b8182e"/><rect x="356.05" y="440.2" width="1.50" height="6.35" fill="#b8182e"/><rect x="357.50" y="440.2" width="1.50" height="6.35" fill="#b8182e"/><rect x="358.95" y="440.2" width="0.10" height="6.35" fill="#b8182e"/><rect x="359.00" y="440.2" width="1.50" height="6.35" fill="#d6604d"/><rect x="360.45" y="440.2" width="1.50" height="6.35" fill="#d6604d"/><rect x="361.90" y="440.2" width="1.50" height="6.35" fill="#d6604d"/><rect x="363.35" y="440.2" width="1.50" height="6.35" fill="#d6604d"/><rect x="364.80" y="440.2" width="1.25" height="6.35" fill="#b8182e"/><rect x="366.00" y="440.2" width="1.50" height="6.35" fill="#f4a582"/><rect x="367.45" y="440.2" width="1.50" height="6.35" fill="#f4a582"/><rect x="368.90" y="440.2" width="1.50" height="6.35" fill="#f4a582"/><rect x="370.35" y="440.2" width="1.50" height="6.35" fill="#f4a582"/><rect x="371.80" y="440.2" width="0.25" height="6.35" fill="#f4a582"/><rect x="372.00" y="440.2" width="1.50" height="6.35" fill="#f4a582"/><rect x="373.45" y="440.2" width="1.50" height="6.35" fill="#f4a582"/><rect x="374.90" y="440.2" width="1.50" height="6.35" fill="#e8866c"/><rect x="376.35" y="440.2" width="1.50" height="6.35" fill="#f4a582"/><rect x="377.80" y="440.2" width="1.50" height="6.35" fill="#d6604d"/><rect x="379.25" y="440.2" width="0.80" height="6.35" fill="#e8866c"/><rect x="380.00" y="440.2" width="1.50" height="6.35" fill="#fddbc7"/><rect x="381.45" y="440.2" width="1.50" height="6.35" fill="#f8f4f2"/><rect x="382.90" y="440.2" width="1.50" height="6.35" fill="#fddbc7"/><rect x="384.35" y="440.2" width="1.50" height="6.35" fill="#f9c4a8"/><rect x="385.80" y="440.2" width="1.50" height="6.35" fill="#fddbc7"/><rect x="387.25" y="440.2" width="1.50" height="6.35" fill="#fddbc7"/><rect x="388.70" y="440.2" width="1.50" height="6.35" fill="#fddbc7"/><rect x="390.15" y="440.2" width="1.50" height="6.35" fill="#f8f4f2"/><rect x="391.60" y="440.2" width="1.50" height="6.35" fill="#f8f4f2"/><rect x="393.05" y="440.2" width="1.50" height="6.35" fill="#f8f4f2"/><rect x="394.50" y="440.2" width="1.50" height="6.35" fill="#fddbc7"/><rect x="395.95" y="440.2" width="1.50" height="6.35" fill="#fddbc7"/><rect x="397.40" y="440.2" width="1.50" height="6.35" fill="#f9c4a8"/><rect x="398.85" y="440.2" width="1.20" height="6.35" fill="#f8f4f2"/><rect x="400.00" y="440.2" width="1.50" height="6.35" fill="#fddbc7"/><rect x="401.45" y="440.2" width="1.50" height="6.35" fill="#fddbc7"/><rect x="402.90" y="440.2" width="1.50" height="6.35" fill="#f8f4f2"/><rect x="404.35" y="440.2" width="1.50" height="6.35" fill="#fddbc7"/><rect x="405.80" y="440.2" width="1.50" height="6.35" fill="#fddbc7"/><rect x="407.25" y="440.2" width="1.50" height="6.35" fill="#fddbc7"/><rect x="408.70" y="440.2" width="1.50" height="6.35" fill="#f8f4f2"/><rect x="410.15" y="440.2" width="1.50" height="6.35" fill="#f9c4a8"/><rect x="411.60" y="440.2" width="1.50" height="6.35" fill="#fddbc7"/><rect x="413.05" y="440.2" width="1.50" height="6.35" fill="#f9c4a8"/><rect x="414.50" y="440.2" width="1.50" height="6.35" fill="#fddbc7"/><rect x="415.95" y="440.2" width="0.10" height="6.35" fill="#fddbc7"/><rect x="416.00" y="440.2" width="1.50" height="6.35" fill="#f9c4a8"/><rect x="417.45" y="440.2" width="1.50" height="6.35" fill="#f4a582"/><rect x="418.90" y="440.2" width="1.50" height="6.35" fill="#fddbc7"/><rect x="420.35" y="440.2" width="1.50" height="6.35" fill="#f9c4a8"/><rect x="421.80" y="440.2" width="1.50" height="6.35" fill="#f9c4a8"/><rect x="423.25" y="440.2" width="1.50" height="6.35" fill="#f9c4a8"/><rect x="424.70" y="440.2" width="1.50" height="6.35" fill="#f9c4a8"/><rect x="426.15" y="440.2" width="1.50" height="6.35" fill="#fddbc7"/><rect x="427.60" y="440.2" width="1.50" height="6.35" fill="#f9c4a8"/><rect x="429.05" y="440.2" width="1.50" height="6.35" fill="#fddbc7"/><rect x="430.50" y="440.2" width="1.50" height="6.35" fill="#f9c4a8"/><rect x="431.95" y="440.2" width="0.10" height="6.35" fill="#fddbc7"/><rect x="432.00" y="440.2" width="1.50" height="6.35" fill="#e2edf5"/><rect x="433.45" y="440.2" width="1.50" height="6.35" fill="#e2edf5"/><rect x="434.90" y="440.2" width="1.50" height="6.35" fill="#e2edf5"/><rect x="436.35" y="440.2" width="1.50" height="6.35" fill="#e2edf5"/><rect x="437.80" y="440.2" width="1.50" height="6.35" fill="#e2edf5"/><rect x="439.25" y="440.2" width="1.50" height="6.35" fill="#e2edf5"/><rect x="440.70" y="440.2" width="1.50" height="6.35" fill="#e2edf5"/><rect x="442.15" y="440.2" width="1.50" height="6.35" fill="#e2edf5"/><rect x="443.60" y="440.2" width="1.50" height="6.35" fill="#d1e5f0"/><rect x="445.05" y="440.2" width="1.50" height="6.35" fill="#e2edf5"/><rect x="446.50" y="440.2" width="1.50" height="6.35" fill="#e2edf5"/><rect x="447.95" y="440.2" width="1.50" height="6.35" fill="#e2edf5"/><rect x="449.40" y="440.2" width="1.50" height="6.35" fill="#e2edf5"/><rect x="450.85" y="440.2" width="1.50" height="6.35" fill="#e2edf5"/><rect x="452.30" y="440.2" width="1.50" height="6.35" fill="#e2edf5"/><rect x="453.75" y="440.2" width="1.50" height="6.35" fill="#d1e5f0"/><rect x="455.20" y="440.2" width="1.50" height="6.35" fill="#d1e5f0"/><rect x="456.65" y="440.2" width="1.50" height="6.35" fill="#e2edf5"/><rect x="458.10" y="440.2" width="1.50" height="6.35" fill="#e2edf5"/><rect x="459.55" y="440.2" width="1.50" height="6.35" fill="#d1e5f0"/><rect x="461.00" y="440.2" width="1.50" height="6.35" fill="#e2edf5"/><rect x="462.45" y="440.2" width="1.50" height="6.35" fill="#e2edf5"/><rect x="463.90" y="440.2" width="1.50" height="6.35" fill="#e2edf5"/><rect x="465.35" y="440.2" width="1.50" height="6.35" fill="#e2edf5"/><rect x="466.80" y="440.2" width="1.50" height="6.35" fill="#d1e5f0"/><rect x="468.25" y="440.2" width="1.50" height="6.35" fill="#d1e5f0"/><rect x="469.70" y="440.2" width="1.50" height="6.35" fill="#e2edf5"/><rect x="471.15" y="440.2" width="1.50" height="6.35" fill="#e2edf5"/><rect x="472.60" y="440.2" width="1.50" height="6.35" fill="#e2edf5"/><rect x="474.05" y="440.2" width="1.50" height="6.35" fill="#d1e5f0"/><rect x="475.50" y="440.2" width="1.50" height="6.35" fill="#e2edf5"/><rect x="476.95" y="440.2" width="1.50" height="6.35" fill="#d1e5f0"/><rect x="478.40" y="440.2" width="1.50" height="6.35" fill="#e2edf5"/><rect x="479.85" y="440.2" width="1.50" height="6.35" fill="#d1e5f0"/><rect x="481.30" y="440.2" width="1.50" height="6.35" fill="#e2edf5"/><rect x="482.75" y="440.2" width="0.30" height="6.35" fill="#e2edf5"/>
<rect x="305.1" y="447.9" width="177.7" height="38.6" fill="#d4e4ef"/>
<rect x="306.55" y="447.9" width="1.45" height="38.6" fill="#dbe9f3"/><rect x="309.45" y="447.9" width="1.45" height="38.6" fill="#e0ecf4"/><rect x="315.25" y="447.9" width="1.45" height="38.6" fill="#cde0ec"/><rect x="318.15" y="447.9" width="1.45" height="38.6" fill="#dbe9f3"/><rect x="322.50" y="447.9" width="1.45" height="38.6" fill="#dbe9f3"/><rect x="331.20" y="447.9" width="1.45" height="38.6" fill="#dbe9f3"/><rect x="338.45" y="447.9" width="1.45" height="38.6" fill="#dbe9f3"/><rect x="339.90" y="447.9" width="1.45" height="38.6" fill="#cde0ec"/><rect x="341.35" y="447.9" width="1.45" height="38.6" fill="#cde0ec"/><rect x="345.70" y="447.9" width="1.45" height="38.6" fill="#dbe9f3"/><rect x="357.30" y="447.9" width="1.45" height="38.6" fill="#e0ecf4"/><rect x="358.75" y="447.9" width="1.45" height="38.6" fill="#cde0ec"/><rect x="363.10" y="447.9" width="1.45" height="38.6" fill="#cde0ec"/><rect x="367.45" y="447.9" width="1.45" height="38.6" fill="#cde0ec"/><rect x="386.30" y="447.9" width="1.45" height="38.6" fill="#dbe9f3"/><rect x="389.20" y="447.9" width="1.45" height="38.6" fill="#cde0ec"/><rect x="393.55" y="447.9" width="1.45" height="38.6" fill="#e0ecf4"/><rect x="396.45" y="447.9" width="1.45" height="38.6" fill="#dbe9f3"/><rect x="405.15" y="447.9" width="1.45" height="38.6" fill="#e0ecf4"/><rect x="410.95" y="447.9" width="1.45" height="38.6" fill="#e0ecf4"/><rect x="413.85" y="447.9" width="1.45" height="38.6" fill="#dbe9f3"/><rect x="419.65" y="447.9" width="1.45" height="38.6" fill="#cde0ec"/><rect x="422.55" y="447.9" width="1.45" height="38.6" fill="#cde0ec"/><rect x="425.45" y="447.9" width="1.45" height="38.6" fill="#e0ecf4"/><rect x="437.05" y="447.9" width="1.45" height="38.6" fill="#cde0ec"/><rect x="439.95" y="447.9" width="1.45" height="38.6" fill="#dbe9f3"/><rect x="441.40" y="447.9" width="1.45" height="38.6" fill="#e0ecf4"/><rect x="442.85" y="447.9" width="1.45" height="38.6" fill="#e0ecf4"/><rect x="447.20" y="447.9" width="1.45" height="38.6" fill="#cde0ec"/><rect x="463.15" y="447.9" width="1.45" height="38.6" fill="#cde0ec"/><rect x="466.05" y="447.9" width="1.45" height="38.6" fill="#dbe9f3"/><rect x="468.95" y="447.9" width="1.45" height="38.6" fill="#dbe9f3"/>
<rect x="331.5" y="447.9" width="1.2" height="38.6" fill="#fafcfd"/>
<rect x="395.5" y="447.9" width="1.2" height="38.6" fill="#fafcfd"/>
<rect x="439.9" y="447.9" width="1.2" height="38.6" fill="#fafcfd"/>
<rect x="462.9" y="447.9" width="1.7" height="18.0" fill="#9ecae1"/>
<rect x="464.6" y="447.9" width="8.0" height="38.6" fill="#e4eef5"/>
<rect x="472.7" y="447.9" width="10.0" height="38.6" fill="#e8eef4"/>
<rect x="472.7" y="448.0" width="10.0" height="6.0" fill="#f4a582"/>
<rect x="474.0" y="454.0" width="9.0" height="6.0" fill="#d6604d"/>
<rect x="472.7" y="454.0" width="1.3" height="6.0" fill="#f4a582"/>
<rect x="476.0" y="460.0" width="7.0" height="6.0" fill="#fde0d0"/>
<rect x="472.0" y="460.0" width="2.0" height="6.5" fill="#b8182e"/>
<rect x="465.0" y="466.0" width="2.5" height="6.5" fill="#d6604d"/>
<rect x="467.5" y="466.0" width="2.0" height="6.5" fill="#f4a582"/>
<rect x="467.0" y="472.5" width="3.0" height="7.0" fill="#f4a582"/>
<rect x="465.0" y="472.5" width="2.0" height="7.0" fill="#fddbc7"/>
<rect x="469.5" y="479.0" width="3.0" height="7.4" fill="#d6604d"/>
<rect x="467.0" y="479.0" width="2.5" height="7.4" fill="#f4a582"/>
<rect x="478.0" y="466.0" width="2.0" height="20.0" fill="#d8e8f2"/>
<rect x="474.0" y="466.0" width="2.0" height="20.0" fill="#fde8dc"/>
<path d="M305.5 421.3 V419.3 H307.2 V421.3 M308.2 421.3 V420.1 H310.8 V421.3 M311.9 421.3 V419.6 H315.6 V421.3 M316.4 421.3 V420.5 H318.3 V421.3 M318.9 421.3 V420.4 H321.9 V421.3 M323.0 421.3 V420.1 H324.9 V421.3 M325.2 421.3 V419.2 H329.4 V421.3 M330.6 421.3 V420.4 H333.7 V421.3 M334.3 421.3 V420.3 H337.0 V421.3 M338.3 421.3 V420.2 H340.6 V421.3 M341.8 421.3 V418.8 H343.4 V421.3 M344.1 421.3 V419.9 H347.0 V421.3 M347.7 421.3 V420.4 H349.5 V421.3 M350.7 421.3 V419.1 H352.7 V421.3 M353.1 421.3 V418.9 H357.2 V421.3 M358.3 421.3 V419.5 H361.8 V421.3 M362.9 421.3 V419.6 H364.4 V421.3 M365.6 421.3 V418.8 H367.4 V421.3 M368.7 421.3 V419.8 H371.1 V421.3 M371.9 421.3 V418.7 H374.2 V421.3 M374.9 421.3 V420.3 H376.2 V421.3 M377.2 421.3 V419.6 H381.4 V421.3 M382.2 421.3 V419.2 H385.1 V421.3 M385.5 421.3 V419.5 H388.6 V421.3 M389.5 421.3 V420.2 H391.2 V421.3 M391.9 421.3 V419.9 H395.8 V421.3 M396.8 421.3 V420.3 H398.9 V421.3 M399.2 421.3 V419.1 H402.8 V421.3 M403.4 421.3 V419.3 H406.7 V421.3 M408.0 421.3 V419.8 H412.1 V421.3 M413.4 421.3 V419.4 H417.5 V421.3 M418.8 421.3 V419.8 H421.5 V421.3 M422.0 421.3 V420.2 H425.8 V421.3 M426.1 421.3 V419.1 H429.7 V421.3 M430.5 421.3 V420.4 H434.2 V421.3 M434.7 421.3 V419.7 H436.7 V421.3 M437.2 421.3 V419.9 H438.6 V421.3 M439.8 421.3 V419.2 H444.0 V421.3 M444.8 421.3 V418.8 H446.7 V421.3 M447.6 421.3 V420.4 H450.9 V421.3 M451.4 421.3 V419.1 H455.1 V421.3 M456.4 421.3 V419.7 H459.4 V421.3 M460.3 421.3 V419.9 H464.0 V421.3 M464.9 421.3 V419.1 H466.9 V421.3 M467.1 421.3 V418.8 H470.4 V421.3 M470.6 421.3 V419.3 H473.6 V421.3 M474.8 421.3 V420.0 H477.7 V421.3 M478.4 421.3 V418.9 H482.5 V421.3" stroke="#777" stroke-width="0.45" fill="none"/>
<path d="M312.0 419.5 V417.9 H318.0 V419.5 M319.1 419.5 V417.8 H329.1 V419.5 M333.5 419.5 V417.8 H345.7 V419.5 M348.9 419.5 V417.3 H357.5 V419.5 M359.3 419.5 V417.7 H366.2 V419.5 M368.7 419.5 V417.2 H381.5 V419.5 M382.7 419.5 V416.7 H395.5 V419.5 M399.6 419.5 V418.0 H413.3 V419.5 M416.1 419.5 V416.9 H421.8 V419.5 M423.5 419.5 V417.6 H436.4 V419.5 M440.2 419.5 V417.9 H448.6 V419.5 M451.2 419.5 V416.6 H459.6 V419.5 M461.7 419.5 V417.2 H472.3 V419.5 M477.1 419.5 V417.1 H483.2 V419.5" stroke="#a0a6b0" stroke-width="0.45" fill="none"/>
<line x1="322.0" y1="415.8" x2="479.0" y2="415.8" stroke="#a4acb6" stroke-width="0.7"/>
<line x1="322.0" y1="415.8" x2="322.0" y2="417.5" stroke="#a4acb6" stroke-width="0.6"/>
<line x1="479.0" y1="415.8" x2="481.0" y2="418.5" stroke="#a4acb6" stroke-width="0.6"/>
<rect x="499.0" y="421.2" width="4.8" height="6.5" fill="#a50f26"/>
<rect x="499.0" y="427.6" width="4.8" height="6.5" fill="#c8384a"/>
<rect x="499.0" y="434.0" width="4.8" height="6.5" fill="#e4866c"/>
<rect x="499.0" y="440.4" width="4.8" height="6.5" fill="#f8c4a8"/>
<rect x="499.0" y="446.8" width="4.8" height="6.5" fill="#f7f2ee"/>
<rect x="499.0" y="453.2" width="4.8" height="6.5" fill="#dbe9f2"/>
<rect x="499.0" y="459.6" width="4.8" height="6.5" fill="#a8d0e4"/>
<rect x="499.0" y="466.0" width="4.8" height="6.5" fill="#6aaad0"/>
<rect x="499.0" y="472.4" width="4.8" height="6.5" fill="#3a84bc"/>
<rect x="499.0" y="478.8" width="4.8" height="6.5" fill="#1f5fa0"/>
<text x="497.4" y="432.1" font-size="8.8" fill="#333" stroke="#333" stroke-width="0.1" text-anchor="end">2</text>
<text x="497.4" y="443.6" font-size="8.8" fill="#333" stroke="#333" stroke-width="0.1" text-anchor="end">1</text>
<text x="497.4" y="454.1" font-size="8.8" fill="#333" stroke="#333" stroke-width="0.1" text-anchor="end">0</text>
<text x="497.4" y="466.1" font-size="8.8" fill="#333" stroke="#333" stroke-width="0.1" text-anchor="end">−1</text>
<text x="497.4" y="477.6" font-size="8.8" fill="#333" stroke="#333" stroke-width="0.1" text-anchor="end">−2</text>
<rect x="0" y="0" width="520" height="1" fill="#5c5c5c"/><rect x="0" y="0" width="1" height="500" fill="#454545"/><rect x="519" y="0" width="1" height="500" fill="#4a4a4a"/><rect x="0" y="499" width="520" height="1" fill="#3c3c3c"/>
</svg></body></html>
